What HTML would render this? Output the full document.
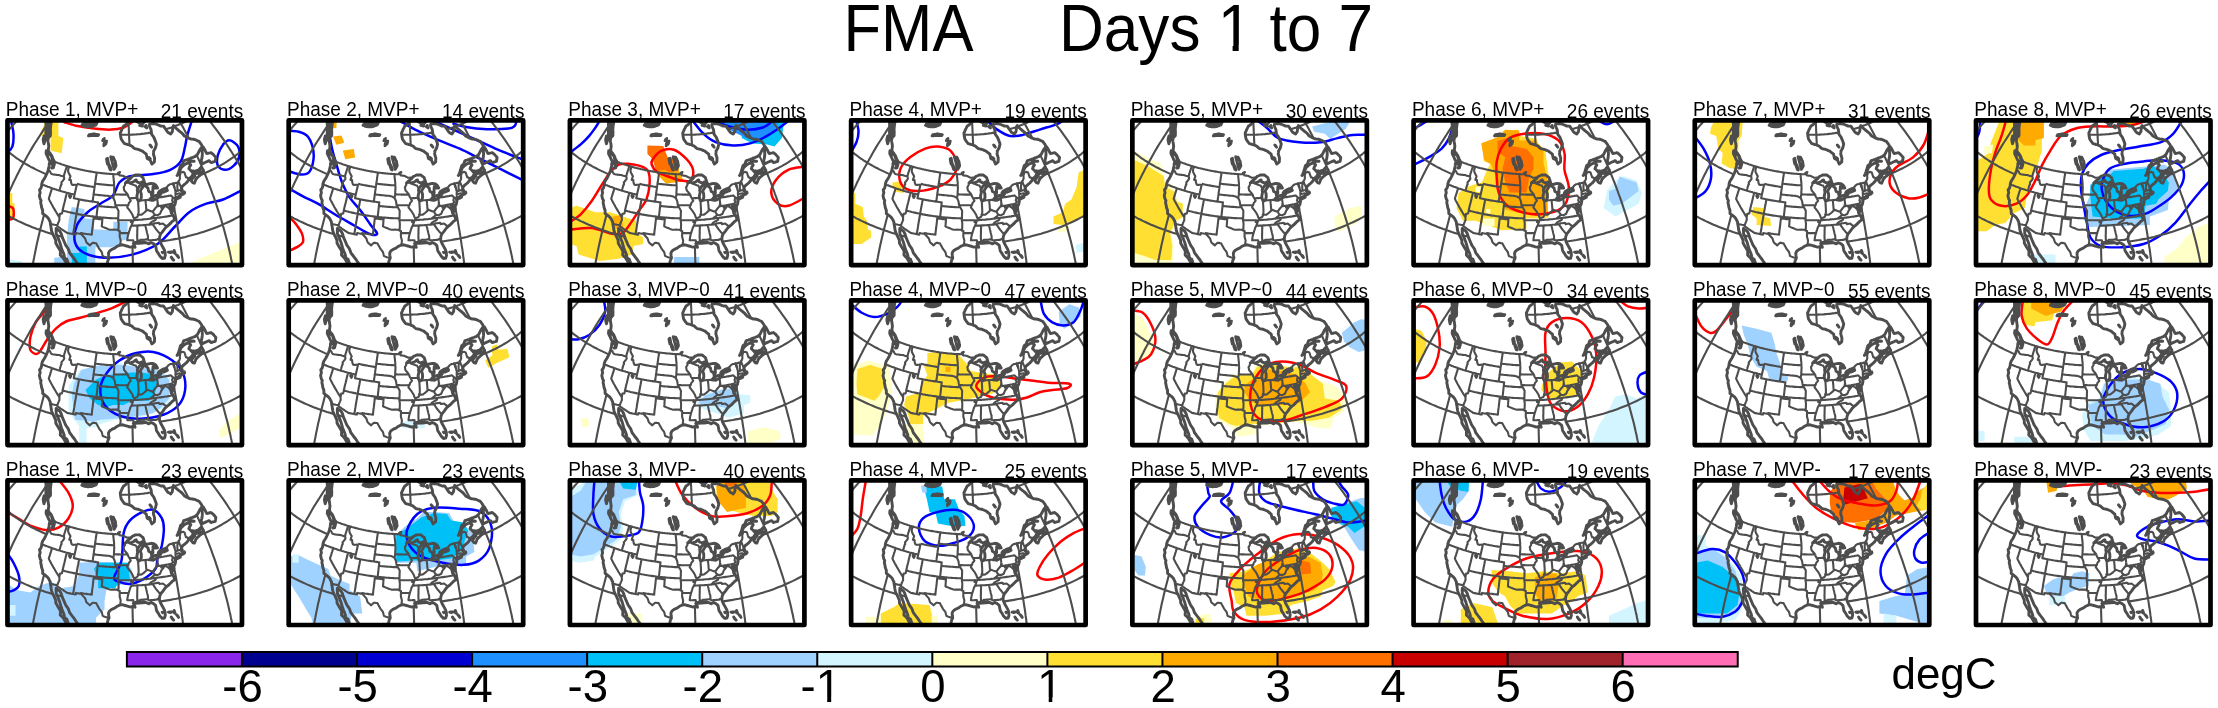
<!DOCTYPE html><html><head><meta charset="utf-8"><style>html,body{margin:0;padding:0;background:#fff;width:2218px;height:708px;overflow:hidden}svg{display:block;will-change:transform}text{font-family:"Liberation Sans",sans-serif}</style></head><body>
<svg width="2218" height="708" viewBox="0 0 2218 708">
<rect width="2218" height="708" fill="#fff"/>
<defs>
<clipPath id="cp"><rect x="0" y="0" width="234.5" height="144.7"/></clipPath>
<mask id="ocean" maskUnits="userSpaceOnUse" x="-50" y="-50" width="400" height="300"><rect x="-50" y="-50" width="400" height="300" fill="#fff"/><path fill="#000" fill-rule="nonzero" d="M13.6 -25.0 14.5 -24.7 15.3 -24.5 16.2 -24.2 17.0 -24.0 17.9 -23.8 18.7 -23.6 19.6 -23.4 20.5 -23.2 21.3 -23.0 22.2 -22.8 23.1 -22.7 24.0 -22.5 24.9 -22.3 25.8 -22.2 26.7 -22.0 27.6 -21.9 28.5 -21.8 29.4 -21.6 30.3 -21.5 31.2 -21.4 31.6 -20.8 32.0 -20.3 32.5 -19.7 32.9 -19.2 33.3 -18.6 33.8 -18.0 34.2 -17.5 34.7 -16.9 35.0 -16.2 35.3 -15.5 35.6 -14.7 35.9 -14.0 36.2 -13.2 36.5 -12.5 36.9 -11.7 37.2 -11.0 37.6 -10.2 37.9 -9.5 38.4 -8.8 38.9 -8.2 39.3 -7.6 39.3 -6.3 39.4 -5.1 39.4 -3.9 39.7 -3.1 39.9 -2.4 40.2 -1.6 41.2 -1.8 42.2 -2.0 43.3 -2.3 43.5 -1.1 43.7 -0.0 43.9 1.1 43.6 3.1 43.3 5.0 43.1 7.0 42.9 9.0 43.0 10.5 43.1 12.0 43.0 13.6 43.0 15.2 42.0 16.2 41.0 17.1 40.7 18.4 40.4 19.7 40.6 21.3 40.9 22.8 41.1 24.4 41.3 25.9 41.1 27.2 40.9 28.5 40.9 29.8 41.0 31.1 41.6 31.7 42.1 32.4 42.7 33.0 43.3 33.9 44.0 34.8 44.4 35.8 44.8 36.7 45.2 37.7 45.6 38.7 46.0 39.6 46.5 40.4 47.1 41.5 47.0 42.5 46.9 43.6 46.6 44.6 46.3 45.7 45.8 47.5 45.0 47.6 44.3 47.7 45.4 46.1 45.3 44.5 44.8 44.0 44.3 43.5 43.6 42.9 43.0 42.3 42.3 41.7 41.8 43.5 41.7 45.0 41.5 46.5 41.2 47.6 40.9 48.7 40.8 49.8 40.3 51.0 39.8 52.2 39.1 53.7 38.4 55.2 37.7 56.7 36.9 58.2 36.1 59.4 35.2 60.7 34.7 62.1 34.3 63.5 34.2 64.6 34.1 65.8 33.7 66.8 33.4 67.9 32.1 69.3 32.4 70.8 32.7 72.3 32.3 73.7 31.9 75.2 32.3 76.9 32.7 78.6 33.6 80.1 33.4 81.2 33.2 82.3 33.5 83.6 33.8 84.9 34.1 86.9 34.6 88.5 35.2 90.0 35.2 91.6 35.2 93.1 36.3 93.9 37.4 94.7 38.4 95.5 39.4 96.3 40.3 97.2 41.2 98.4 42.0 100.1 42.8 101.7 42.9 103.3 43.2 104.9 43.5 106.5 43.7 108.2 44.0 110.0 44.4 111.4 44.9 112.8 45.8 114.6 46.7 116.3 47.4 118.0 48.2 119.7 48.3 121.2 48.3 122.6 49.4 124.6 50.5 126.5 51.8 128.6 53.0 130.7 52.9 132.0 52.9 133.3 52.8 134.6 53.8 135.7 54.9 136.7 55.9 137.8 56.8 139.4 57.7 141.0 58.6 142.6 59.5 142.3 60.5 142.0 59.9 140.5 59.4 138.9 58.3 138.2 57.3 137.4 56.9 136.0 56.6 134.6 56.2 133.2 55.4 131.3 54.6 129.3 53.9 127.3 53.3 125.3 52.8 123.6 52.3 121.8 51.5 119.8 50.8 117.8 49.8 115.7 48.8 113.6 48.7 111.7 48.6 109.8 48.7 108.0 50.0 109.1 51.2 109.9 52.4 110.8 53.1 112.1 53.8 113.4 54.2 114.9 54.7 116.3 55.2 117.8 56.0 119.6 56.8 121.4 57.5 123.1 58.2 124.7 59.5 126.6 60.8 128.5 61.5 130.4 62.2 132.4 63.5 134.1 64.7 135.7 66.0 137.4 67.3 139.1 68.3 140.7 69.4 142.2 70.4 143.8 71.6 145.6 72.8 147.3 73.1 149.0 73.5 150.6 73.2 152.1 72.9 153.6 73.4 155.4 74.0 157.2 75.3 158.2 76.6 159.3 77.9 160.6 79.1 162.0 80.7 162.6 82.3 163.3 83.9 163.9 85.6 165.1 87.3 166.3 88.5 166.9 89.8 167.6 91.0 168.3 92.6 169.0 94.2 169.7 95.9 170.3 97.6 170.9 99.4 171.5 101.1 172.1 102.9 172.7 104.6 172.4 106.4 172.0 108.2 171.6 108.7 170.0 109.1 168.3 109.6 166.7 110.0 165.0 108.6 164.1 107.3 163.2 105.9 162.2 104.5 161.1 103.9 159.9 103.2 158.7 102.0 157.2 100.9 155.8 100.6 154.6 100.2 153.4 99.6 151.8 99.0 150.2 99.1 148.5 99.3 146.7 99.5 145.0 99.8 143.3 100.1 141.7 100.4 140.2 101.0 138.9 101.6 137.6 101.4 136.4 101.2 135.3 101.1 134.0 101.0 132.8 101.5 131.7 102.1 130.7 103.2 129.8 104.4 129.0 105.9 128.3 107.3 127.7 108.5 126.8 109.6 126.0 110.9 125.4 112.2 124.8 113.5 124.6 114.8 124.4 116.2 124.8 117.7 125.2 119.1 125.6 120.6 126.0 121.8 126.4 123.1 126.7 124.3 126.4 125.4 126.1 126.5 126.5 127.6 126.9 127.3 125.9 126.9 124.8 125.9 123.2 127.2 122.3 128.3 122.0 129.4 121.8 130.3 121.2 131.2 120.6 132.6 122.0 133.7 121.8 134.9 121.6 136.0 121.4 137.5 121.9 138.9 122.3 140.1 122.9 141.3 123.5 142.3 122.8 143.4 122.1 144.5 122.6 145.7 123.1 146.9 124.0 148.1 125.0 148.4 126.6 148.7 128.2 148.9 129.4 149.2 130.6 150.1 131.9 151.0 133.2 151.8 134.6 152.6 135.9 153.7 137.0 154.8 138.1 155.9 137.9 157.0 137.8 157.4 136.5 157.8 135.2 157.7 133.7 157.7 132.3 157.3 131.0 156.9 129.6 156.1 128.1 155.3 126.6 154.5 125.2 153.7 123.9 153.1 122.5 152.5 121.2 152.2 120.0 151.9 118.7 152.1 117.2 152.3 115.8 152.8 114.6 153.3 113.4 154.5 112.0 155.7 110.5 156.7 109.1 157.8 107.6 158.7 106.7 159.7 105.8 161.0 104.9 162.4 103.5 163.7 102.2 164.7 101.1 166.0 100.2 167.4 99.4 166.8 97.8 166.2 96.1 165.6 94.9 164.9 93.8 163.9 92.8 163.6 91.4 163.4 90.0 162.9 88.6 162.3 87.2 162.3 85.3 163.6 86.5 163.9 87.8 164.1 89.1 164.5 90.3 164.8 91.5 165.4 89.9 166.5 88.2 166.3 86.4 165.5 85.4 164.7 84.5 165.6 85.1 166.6 85.7 167.6 83.8 167.9 82.4 168.2 81.1 167.8 79.3 168.1 78.1 169.2 77.4 170.2 76.7 171.2 76.0 172.0 75.7 172.8 75.4 173.9 74.4 174.9 74.1 175.9 73.7 176.6 73.1 177.2 72.5 176.9 71.5 176.2 71.9 175.5 72.2 174.7 71.1 174.1 70.9 174.8 69.6 173.9 68.3 174.4 67.0 174.9 65.7 175.9 64.9 177.0 64.0 178.1 63.1 179.1 62.2 179.8 61.4 180.5 60.6 181.3 59.2 181.2 58.1 182.3 57.5 183.4 56.9 184.2 55.9 185.0 54.8 185.7 54.5 186.3 54.2 187.3 55.6 186.4 56.5 185.4 57.4 184.6 58.9 183.8 60.3 184.6 61.4 185.5 62.5 186.9 62.8 187.7 60.9 188.3 59.1 189.0 58.3 189.6 57.5 190.4 56.8 191.2 56.1 191.9 55.4 192.7 54.7 193.6 53.8 194.5 52.8 195.2 51.3 195.9 49.8 194.7 48.3 193.6 46.8 192.7 47.8 191.9 48.7 192.3 50.1 192.7 51.5 191.7 52.1 190.7 52.8 189.5 53.0 188.3 53.3 186.9 53.0 185.5 52.7 184.7 51.7 183.8 50.6 182.6 49.4 181.4 48.3 182.0 46.5 182.7 45.5 183.3 44.5 182.0 43.0 180.7 43.0 179.5 42.9 178.6 43.4 177.8 43.9 176.9 44.4 176.1 45.1 175.3 45.8 174.5 46.6 173.7 47.3 173.2 48.5 172.7 49.7 172.1 50.8 171.4 52.6 170.7 54.3 169.6 55.1 170.1 54.2 170.6 53.2 171.3 51.3 171.9 49.4 172.5 47.3 173.1 45.2 174.0 44.5 175.0 43.8 175.6 42.1 176.2 40.4 177.2 40.0 178.3 39.7 179.3 39.3 180.4 38.9 181.4 38.5 182.4 38.1 183.4 37.6 184.4 37.3 185.5 36.9 186.5 36.5 187.5 36.2 188.4 35.4 189.2 34.7 190.1 33.9 190.7 32.7 191.3 31.5 191.9 30.3 192.5 29.2 193.2 28.3 193.9 27.4 194.6 26.5 194.2 24.6 193.4 23.4 192.5 22.2 191.6 21.0 190.1 20.4 188.7 19.7 187.2 19.1 186.1 18.9 184.9 18.7 183.7 18.6 182.5 18.4 181.2 17.8 179.8 17.2 178.4 16.4 176.9 15.6 175.7 14.1 174.5 12.7 172.9 11.4 171.2 10.1 169.6 8.8 168.1 7.4 167.0 6.3 166.0 5.1 165.7 6.4 165.3 7.7 165.1 9.4 164.9 11.2 164.4 12.0 163.8 12.8 163.3 13.6 162.3 13.0 161.3 12.5 160.3 11.9 159.2 10.3 158.2 8.8 157.1 7.2 156.1 5.7 155.2 5.7 154.3 5.7 153.4 5.7 152.3 5.2 151.3 4.8 150.2 4.3 149.2 3.8 148.3 3.7 147.4 3.5 146.4 3.4 145.6 3.4 144.7 3.4 143.9 3.5 143.0 3.5 142.2 3.5 141.8 5.3 142.4 6.6 143.0 8.0 143.6 9.3 143.8 10.8 144.0 12.3 144.1 13.8 145.3 15.4 146.4 17.0 147.1 18.7 147.8 20.4 148.4 22.1 148.9 23.8 148.4 25.7 147.9 27.7 147.3 28.6 146.8 29.6 146.2 30.5 146.1 32.0 145.9 33.5 146.3 34.8 146.7 36.1 147.1 37.3 147.1 38.7 147.0 40.1 147.0 41.4 146.1 42.2 145.3 42.9 144.4 43.6 143.8 42.3 143.2 40.9 142.6 39.5 141.6 39.0 140.6 38.5 139.7 38.0 139.4 36.6 139.1 35.2 138.8 33.8 137.8 33.0 136.8 32.2 135.8 31.4 134.8 30.6 133.7 30.2 132.6 29.7 131.5 29.3 130.4 28.8 129.3 28.7 128.3 28.5 127.3 28.3 126.2 27.4 125.2 26.5 124.2 25.6 123.4 25.3 122.6 25.0 121.8 24.6 121.0 24.3 120.0 24.1 119.0 23.8 118.0 23.5 117.0 23.3 116.1 22.1 115.3 21.0 114.5 19.8 113.7 18.6 113.5 17.4 113.2 16.2 113.0 14.4 112.8 12.6 113.6 10.9 114.3 9.2 115.2 7.5 116.1 5.7 117.0 5.2 117.8 4.6 118.6 4.0 119.4 3.1 120.2 2.1 121.0 1.2 121.8 0.6 122.6 -0.1 123.3 -0.7 124.1 -1.3 123.3 -3.0 122.6 -4.7 121.9 -6.3 121.2 -8.0 120.5 -9.6 119.8 -9.8 119.1 -9.9 118.4 -10.1 117.7 -10.2 116.9 -10.4 116.2 -10.6 115.5 -10.8 114.8 -10.9 114.1 -11.1 113.4 -11.3 112.7 -11.5 112.0 -11.7 111.3 -11.9 110.7 -12.1 110.0 -12.3 109.3 -12.5 108.6 -12.7 108.0 -12.9 107.3 -13.1 106.6 -13.4 106.0 -13.6 105.3 -13.8 104.7 -14.1 104.0 -14.3 103.4 -14.5 102.7 -14.8 102.1 -15.0 101.5 -15.3 100.8 -15.5 100.2 -15.8 99.6 -16.1 99.0 -16.3 98.4 -16.6 97.8 -16.9 97.2 -17.1 96.6 -17.4 96.0 -17.7 95.4 -18.0 94.8 -18.3 94.2 -18.6 93.6 -18.9 93.1 -19.2 92.5 -19.5 91.9 -19.8 91.4 -20.1 90.8 -20.4 90.3 -20.7 89.7 -21.0 89.2 -21.3 88.7 -21.6 88.1 -22.0 87.6 -22.3 87.1 -22.6 86.6 -22.9 86.1 -23.3 85.6 -23.6 85.1 -23.9 84.6 -24.3 84.1 -24.6 83.6 -25.0 83.1 -25.2 82.5 -25.4 82.0 -25.6 81.4 -25.8 80.9 -26.0 80.3 -26.2 79.8 -26.4 79.2 -26.6 78.7 -26.9 78.2 -27.1 77.6 -27.3 77.1 -27.6 76.6 -27.8 76.1 -28.0 75.5 -28.3 75.0 -28.5 74.5 -28.8 74.0 -29.0 73.5 -29.3 73.0 -29.5 72.5 -29.8 72.0 -30.0 71.5 -30.3 71.0 -30.6 70.5 -30.8 70.1 -31.1 69.6 -31.4 69.1 -31.7 68.6 -32.0 68.2 -32.2 67.7 -32.5 67.3 -32.8 66.8 -33.1 66.3 -33.4 65.9 -33.7 65.5 -34.0 65.0 -34.3 64.6 -34.6 64.2 -34.9 63.7 -35.2 63.2 -35.4 62.6 -35.6 62.1 -35.8 61.5 -36.0 61.0 -36.2 60.4 -36.4 59.9 -36.7 59.4 -36.9 58.8 -37.1 58.3 -37.3 57.8 -37.5 57.2 -37.8 56.7 -38.0 56.2 -38.2 55.7 -38.5 55.2 -38.7 54.7 -39.0 54.2 -39.2 53.7 -39.5 53.2 -39.8 52.7 -40.0 52.2 -40.3 51.7 -40.6 51.2 -40.8 50.7 -41.1 50.2 -41.4 49.7 -41.7 49.3 -42.0 48.8 -42.3 48.3 -42.6 47.9 -42.9 47.4 -43.2 47.0 -43.5 46.5 -43.8 46.1 -44.1 45.6 -44.4 45.2 -44.8 44.7 -45.1 44.3 -45.4 43.9 -45.8 42.3 -44.8 40.8 -43.8 39.2 -42.9 37.6 -41.9 36.1 -40.9 34.5 -39.9 33.0 -38.9 31.5 -37.9 29.9 -36.8 28.4 -35.8 26.9 -34.7 25.4 -33.7 23.9 -32.6 22.4 -31.6 20.9 -30.5 19.5 -29.4 18.0 -28.3 16.5 -27.2 15.1 -26.1 13.6 -25.0Z M38.8 30.4 39.4 31.3 40.1 32.1 40.8 33.0 41.5 33.5 42.3 34.1 43.0 34.6 43.8 35.1 44.2 36.5 44.6 37.9 45.1 39.3 45.2 41.1 45.2 42.9 44.4 42.3 43.6 41.6 42.9 40.9 42.1 40.1 41.4 39.3 41.0 38.3 40.6 37.3 40.2 36.3 39.6 35.3 39.1 34.2 38.6 33.1 38.7 31.8 38.8 30.4Z M39.1 0.3 39.9 0.6 40.6 0.8 41.4 1.1 42.1 1.3 41.8 3.1 41.5 4.9 41.2 6.7 40.9 8.7 40.7 10.7 40.8 12.1 40.8 13.5 40.9 15.0 40.1 14.7 39.4 14.4 38.6 14.1 38.5 12.7 38.5 11.2 38.5 9.8 38.5 8.4 38.6 7.0 38.7 5.7 38.6 4.5 38.5 3.3 38.5 2.1 39.1 0.3Z M36.6 15.5 37.3 16.0 37.9 16.5 38.6 17.0 38.0 18.6 37.5 20.2 37.0 21.8 36.5 23.4 36.2 22.0 35.9 20.6 35.7 19.2 36.1 17.4 36.6 15.5Z M194.9 43.4 195.7 43.0 196.6 42.5 197.5 42.1 198.5 41.6 199.5 41.2 200.6 40.7 201.6 40.3 202.6 41.2 203.5 42.2 204.6 41.9 205.6 41.6 206.7 41.3 207.7 41.0 208.0 39.7 208.2 38.4 208.4 37.1 207.5 36.0 206.6 35.0 205.7 33.9 204.6 33.1 203.5 32.2 202.5 32.5 201.4 32.7 200.3 33.0 199.3 33.2 198.4 31.6 197.6 29.9 196.7 28.3 195.8 26.7 195.4 28.0 195.0 29.3 194.6 30.6 194.8 32.1 194.9 33.7 194.8 35.1 194.6 36.6 194.4 38.0 194.0 39.4 193.7 40.7 194.3 42.1 194.9 43.4Z M185.2 50.5 186.4 50.8 187.7 51.1 188.9 51.5 189.8 50.6 190.8 49.7 189.6 50.1 188.5 50.5 187.4 50.9 186.3 50.7 185.2 50.5Z M180.8 40.0 181.9 40.2 183.1 40.3 184.3 40.5 185.5 40.7 186.7 40.9 185.5 40.9 184.3 41.0 183.1 41.1 181.9 41.1 180.8 40.0Z M167.8 79.3 169.1 78.7 170.3 78.1 171.6 77.5 172.8 76.9 172.9 76.2 171.9 76.6 170.9 77.0 169.9 77.3 168.9 77.7 167.8 79.3Z M142.6 151.0 144.2 149.5 145.8 147.9 147.4 147.3 149.1 146.6 150.7 146.0 152.4 145.8 154.1 145.6 155.7 145.3 157.4 145.8 159.1 146.2 160.9 146.7 162.5 146.6 164.2 146.6 165.9 146.5 167.7 147.5 169.5 148.4 171.2 149.4 173.0 149.9 174.7 150.4 176.2 150.7 177.7 150.9 179.2 151.2 177.9 152.0 176.7 152.8 175.0 153.1 173.4 153.5 171.7 153.8 170.0 154.1 168.4 154.4 167.6 153.2 166.8 151.9 165.5 151.1 164.1 150.3 162.8 149.5 161.1 149.4 159.4 149.3 157.7 149.2 156.0 149.1 154.3 148.7 152.6 148.2 150.8 147.7 149.2 148.7 147.6 149.7 146.0 150.7 144.3 150.8 142.6 151.0Z M163.8 136.7 165.0 138.3 166.2 139.8 165.1 138.9 164.5 137.8 163.8 136.7Z M161.0 131.8 162.2 131.7 163.4 131.6 164.6 131.6 163.6 131.9 162.7 132.2 161.0 131.8Z M166.7 130.1 167.2 131.6 167.7 133.1 166.6 132.3 166.6 131.2 166.7 130.1Z M169.2 134.6 170.2 135.9 171.1 137.1 170.3 135.5 169.2 134.6Z M178.9 157.4 180.4 155.4 181.8 153.3 183.2 151.3 184.9 150.9 186.5 150.5 188.1 150.1 189.8 150.2 191.5 150.4 193.2 150.5 194.9 150.7 196.2 150.9 197.6 151.2 199.0 151.5 197.7 152.2 196.4 153.0 195.0 153.7 193.7 154.4 192.2 155.5 190.6 156.6 189.1 157.7 187.6 157.5 186.1 157.3 184.6 157.1 183.2 157.2 181.8 157.3 180.3 157.4 178.9 157.4Z M126.4 -1.5 127.3 -0.7 128.2 0.1 129.1 0.9 130.1 1.7 131.0 2.2 131.9 2.7 132.8 3.3 133.7 3.8 134.7 4.3 135.3 3.4 136.0 2.5 136.7 1.6 135.9 0.4 135.1 -0.8 134.3 -1.9 133.4 -2.6 132.5 -3.2 131.6 -3.9 130.8 -4.5 129.9 -5.2 129.2 -4.4 128.5 -3.7 127.9 -2.9 127.2 -2.2 126.4 -1.5Z M132.2 4.9 133.1 5.2 134.0 5.4 134.9 5.7 134.2 4.5 133.5 3.4 132.8 4.2 132.2 4.9Z M137.6 6.3 138.4 6.9 139.3 7.5 138.9 6.3 138.6 5.1 138.1 5.7 137.6 6.3Z M142.5 24.6 143.3 25.7 144.2 26.8 143.2 25.2 142.5 24.6Z M140.1 37.6 141.0 37.9 141.9 38.1 142.8 38.4 141.5 37.1 140.8 37.4 140.1 37.6Z M137.3 0.8 138.0 0.1 138.7 -0.5 139.3 -1.2 140.0 -1.9 140.6 -2.6 141.4 -2.8 142.1 -3.1 142.8 -3.4 143.5 -3.7 144.2 -4.0 145.0 -4.3 145.7 -4.6 146.7 -4.0 147.7 -3.3 148.8 -2.6 149.9 -1.9 150.9 -1.3 151.8 -1.1 152.8 -0.9 153.7 -0.8 154.6 -0.6 155.5 -0.4 156.4 -0.3 157.4 -0.1 158.3 0.0 159.3 0.2 160.2 0.3 161.1 0.4 161.4 -0.9 161.7 -2.2 161.9 -3.6 162.1 -4.9 162.3 -6.2 162.5 -7.5 162.6 -8.8 162.8 -10.1 162.9 -11.4 162.9 -12.7 163.0 -14.0 163.0 -15.3 162.1 -15.6 161.1 -16.0 160.1 -16.3 159.1 -16.7 158.2 -17.0 157.2 -17.4 156.2 -17.8 155.3 -18.2 154.4 -18.6 153.4 -18.9 152.5 -19.3 151.6 -19.8 150.7 -20.2 149.8 -20.6 148.9 -21.0 148.0 -21.4 147.1 -21.9 146.3 -22.3 145.4 -22.8 144.6 -23.2 144.0 -23.0 143.4 -22.9 142.8 -22.7 142.2 -22.6 141.6 -22.4 141.0 -22.3 140.4 -22.2 139.8 -22.0 139.2 -21.9 138.6 -21.8 138.0 -21.6 137.4 -21.5 136.8 -21.4 136.2 -21.3 135.6 -21.2 135.0 -21.1 134.4 -20.9 133.8 -20.8 133.2 -20.7 132.6 -20.7 131.9 -20.6 131.3 -20.5 130.7 -20.4 130.1 -20.3 129.5 -20.2 128.8 -20.2 128.2 -20.1 127.6 -20.0 127.0 -20.0 126.4 -19.9 127.1 -18.3 127.8 -16.8 128.6 -15.2 129.4 -13.6 130.2 -12.0 131.0 -10.4 131.8 -8.8 132.7 -7.2 133.6 -5.6 134.5 -4.0 135.4 -2.4 136.4 -0.8 137.3 0.8Z M202.2 150.9 203.6 150.5 204.9 150.2 206.2 149.8 207.6 149.4 207.2 150.9 205.7 151.4 204.2 151.9 202.8 152.4 202.2 150.9Z"/></mask>
<g id="bm"><path d="M-93.9 84.7 -93.9 81.9 -93.8 79.2 -93.6 76.5 -93.4 73.8 -93.1 71.1 -92.7 68.3 -92.3 65.6 -91.8 62.9 -91.3 60.2 -90.7 57.5 -90.0 54.8 -89.3 52.1 -88.5 49.5 -87.6 46.8 -86.7 44.1 -85.7 41.5 -84.7 38.9 -83.6 36.2 -82.4 33.6 -81.2 31.0 -79.9 28.4 -78.6 25.9 -77.2 23.3 -75.7 20.8 -74.2 18.3 -72.6 15.8 -71.0 13.3 -69.3 10.8 -67.5 8.4 -65.7 6.0 -63.8 3.6 -61.9 1.2 -60.0 -1.2 -57.9 -3.5 -55.8 -5.8 -53.7 -8.1 -51.5 -10.3 -49.3 -12.6 -47.0 -14.8 -44.7 -16.9 -42.3 -19.1 -39.9 -21.2 -37.4 -23.2 -34.9 -25.3 -32.3 -27.3 -29.7 -29.3 -27.0 -31.3 -24.3 -33.2 -21.5 -35.1 -18.7 -36.9 -15.9 -38.7 -13.0 -40.5 -10.1 -42.2 -7.2 -43.9 -4.2 -45.6 -1.2 -47.3 1.9 -48.8 5.0 -50.4 8.1 -51.9 11.3 -53.4 14.5 -54.8 17.7 -56.2 21.0 -57.6 24.3 -58.9 27.6 -60.2 30.9 -61.4 34.3 -62.6 37.7 -63.7 41.1 -64.8 44.5 -65.9 48.0 -66.9 51.5 -67.9 55.0 -68.8 58.5 -69.7 62.0 -70.5 65.6 -71.3 69.2 -72.0 72.8 -72.7 76.4 -73.4 80.0 -74.0 83.6 -74.6 87.2 -75.1 90.9 -75.6 94.5 -76.0 98.2 -76.3 101.8 -76.7 105.5 -77.0 109.2 -77.2 112.8 -77.4 116.5 -77.5 M-84.3 121.2 -84.3 118.5 -84.2 115.7 -84.0 113.0 -83.8 110.2 -83.5 107.5 -83.2 104.7 -82.8 101.9 -82.3 99.1 -81.8 96.3 -81.2 93.5 -80.6 90.7 -79.9 87.9 -79.1 85.1 -78.3 82.3 -77.4 79.4 -76.5 76.6 -75.5 73.8 -74.5 71.0 -73.3 68.2 -72.2 65.4 -70.9 62.6 -69.7 59.8 -68.3 57.0 -66.9 54.2 -65.5 51.4 -64.0 48.6 -62.4 45.8 -60.8 43.1 -59.1 40.3 -57.4 37.6 -55.6 34.9 -53.8 32.2 -51.9 29.5 -50.0 26.8 -48.0 24.1 -45.9 21.5 -43.9 18.9 -41.7 16.3 -39.5 13.7 -37.3 11.1 -35.0 8.5 -32.7 6.0 -30.4 3.5 -27.9 1.0 -25.5 -1.4 -23.0 -3.9 -20.4 -6.3 -17.9 -8.7 -15.2 -11.0 -12.6 -13.4 -9.9 -15.7 -7.1 -18.0 -4.3 -20.2 -1.5 -22.4 1.3 -24.6 4.2 -26.8 7.1 -28.9 10.1 -31.0 13.1 -33.1 16.1 -35.1 19.2 -37.1 22.2 -39.0 25.3 -40.9 28.5 -42.8 31.6 -44.7 34.8 -46.5 38.0 -48.3 41.3 -50.0 44.5 -51.7 47.8 -53.3 51.1 -55.0 54.5 -56.5 57.8 -58.1 61.2 -59.6 64.5 -61.0 67.9 -62.4 71.3 -63.8 74.8 -65.1 78.2 -66.4 81.6 -67.6 85.1 -68.8 88.6 -69.9 92.1 -71.0 95.5 -72.1 99.0 -73.1 102.5 -74.1 106.0 -75.0 109.5 -75.9 113.0 -76.7 116.5 -77.4 M-61.0 154.8 -60.9 152.1 -60.9 149.3 -60.7 146.6 -60.5 143.8 -60.3 141.0 -60.0 138.1 -59.6 135.3 -59.2 132.4 -58.8 129.5 -58.3 126.6 -57.7 123.7 -57.1 120.8 -56.4 117.8 -55.7 114.9 -54.9 111.9 -54.1 109.0 -53.2 106.0 -52.3 103.0 -51.3 100.0 -50.3 97.0 -49.2 94.0 -48.0 90.9 -46.9 87.9 -45.6 84.9 -44.3 81.9 -43.0 78.8 -41.6 75.8 -40.2 72.8 -38.7 69.8 -37.2 66.7 -35.6 63.7 -34.0 60.7 -32.3 57.7 -30.6 54.7 -28.9 51.7 -27.1 48.7 -25.2 45.7 -23.3 42.8 -21.4 39.8 -19.4 36.9 -17.4 33.9 -15.4 31.0 -13.3 28.1 -11.2 25.2 -9.0 22.4 -6.8 19.5 -4.5 16.7 -2.2 13.8 0.1 11.0 2.4 8.3 4.8 5.5 7.2 2.8 9.7 0.0 12.2 -2.6 14.7 -5.3 17.3 -7.9 19.9 -10.6 22.5 -13.1 25.1 -15.7 27.8 -18.2 30.5 -20.7 33.2 -23.2 35.9 -25.6 38.7 -28.1 41.5 -30.4 44.3 -32.8 47.2 -35.1 50.0 -37.4 52.9 -39.6 55.8 -41.8 58.8 -44.0 61.7 -46.1 64.6 -48.2 67.6 -50.2 70.6 -52.3 73.6 -54.2 76.6 -56.2 79.6 -58.1 82.7 -59.9 85.7 -61.7 88.8 -63.5 91.9 -65.2 94.9 -66.9 98.0 -68.5 101.1 -70.1 104.2 -71.7 107.3 -73.2 110.4 -74.6 113.5 -76.0 116.6 -77.4 M-25.5 183.2 -25.5 180.5 -25.5 177.7 -25.3 175.0 -25.2 172.1 -25.0 169.3 -24.8 166.4 -24.5 163.5 -24.2 160.6 -23.8 157.6 -23.4 154.6 -22.9 151.6 -22.4 148.6 -21.9 145.5 -21.3 142.5 -20.7 139.4 -20.0 136.3 -19.3 133.1 -18.6 130.0 -17.8 126.8 -17.0 123.7 -16.1 120.5 -15.2 117.3 -14.2 114.1 -13.3 110.9 -12.2 107.6 -11.2 104.4 -10.0 101.1 -8.9 97.9 -7.7 94.6 -6.5 91.4 -5.2 88.1 -3.9 84.8 -2.6 81.5 -1.2 78.3 0.2 75.0 1.6 71.7 3.1 68.5 4.6 65.2 6.1 61.9 7.7 58.7 9.3 55.4 11.0 52.2 12.6 48.9 14.4 45.7 16.1 42.5 17.9 39.3 19.7 36.1 21.5 32.9 23.3 29.7 25.2 26.5 27.1 23.4 29.1 20.3 31.1 17.2 33.1 14.1 35.1 11.0 37.1 8.0 39.2 4.9 41.3 1.9 43.4 -1.0 45.5 -4.0 47.7 -6.9 49.9 -9.8 52.1 -12.7 54.3 -15.6 56.5 -18.4 58.8 -21.2 61.1 -23.9 63.4 -26.7 65.7 -29.4 68.0 -32.0 70.3 -34.7 72.7 -37.3 75.1 -39.8 77.4 -42.4 79.8 -44.9 82.2 -47.3 84.6 -49.7 87.1 -52.1 89.5 -54.4 91.9 -56.7 94.4 -59.0 96.8 -61.2 99.3 -63.4 101.8 -65.5 104.2 -67.6 106.7 -69.6 109.2 -71.6 111.7 -73.6 114.2 -75.5 116.6 -77.3 M19.6 204.5 19.6 201.8 19.7 199.0 19.7 196.2 19.8 193.3 20.0 190.5 20.1 187.5 20.3 184.6 20.5 181.6 20.8 178.6 21.1 175.6 21.4 172.5 21.7 169.4 22.1 166.3 22.5 163.1 22.9 159.9 23.4 156.7 23.8 153.5 24.4 150.2 24.9 147.0 25.5 143.7 26.0 140.4 26.7 137.0 27.3 133.7 28.0 130.3 28.7 126.9 29.4 123.5 30.2 120.1 31.0 116.7 31.8 113.2 32.6 109.8 33.5 106.3 34.4 102.9 35.3 99.4 36.2 95.9 37.2 92.4 38.1 88.9 39.1 85.4 40.2 82.0 41.2 78.5 42.3 75.0 43.4 71.5 44.5 68.0 45.7 64.5 46.8 61.0 48.0 57.5 49.2 54.0 50.5 50.6 51.7 47.1 53.0 43.7 54.3 40.2 55.6 36.8 56.9 33.4 58.3 30.0 59.6 26.6 61.0 23.2 62.4 19.9 63.8 16.5 65.2 13.2 66.7 9.9 68.1 6.7 69.6 3.4 71.1 0.2 72.6 -3.0 74.1 -6.2 75.7 -9.4 77.2 -12.5 78.8 -15.6 80.3 -18.7 81.9 -21.7 83.5 -24.7 85.1 -27.7 86.7 -30.7 88.3 -33.6 89.9 -36.5 91.6 -39.3 93.2 -42.1 94.9 -44.9 96.5 -47.7 98.2 -50.4 99.8 -53.0 101.5 -55.6 103.2 -58.2 104.9 -60.8 106.6 -63.3 108.3 -65.7 109.9 -68.1 111.6 -70.5 113.3 -72.8 115.0 -75.1 116.7 -77.3 M71.4 217.2 71.4 214.4 71.4 211.7 71.4 208.8 71.5 206.0 71.5 203.1 71.6 200.1 71.7 197.2 71.8 194.2 71.9 191.1 72.1 188.0 72.2 184.9 72.4 181.8 72.5 178.6 72.7 175.4 72.9 172.2 73.1 168.9 73.4 165.6 73.6 162.3 73.8 158.9 74.1 155.6 74.4 152.2 74.7 148.8 75.0 145.3 75.3 141.9 75.6 138.4 76.0 134.9 76.3 131.4 76.7 127.9 77.1 124.3 77.5 120.8 77.9 117.2 78.3 113.6 78.7 110.0 79.1 106.4 79.6 102.8 80.0 99.2 80.5 95.6 81.0 91.9 81.5 88.3 82.0 84.7 82.5 81.0 83.0 77.4 83.6 73.8 84.1 70.1 84.7 66.5 85.2 62.9 85.8 59.2 86.4 55.6 87.0 52.0 87.6 48.4 88.2 44.8 88.8 41.2 89.5 37.6 90.1 34.1 90.7 30.5 91.4 27.0 92.1 23.5 92.7 20.0 93.4 16.5 94.1 13.0 94.8 9.6 95.5 6.1 96.2 2.7 96.9 -0.6 97.6 -4.0 98.3 -7.3 99.0 -10.6 99.8 -13.9 100.5 -17.2 101.3 -20.4 102.0 -23.6 102.8 -26.7 103.5 -29.9 104.3 -33.0 105.0 -36.0 105.8 -39.1 106.6 -42.0 107.4 -45.0 108.1 -47.9 108.9 -50.8 109.7 -53.6 110.5 -56.4 111.3 -59.2 112.1 -61.9 112.8 -64.6 113.6 -67.2 114.4 -69.8 115.2 -72.3 116.0 -74.8 116.8 -77.3 M126.2 220.4 126.2 217.7 126.2 214.9 126.2 212.1 126.2 209.2 126.2 206.3 126.2 203.3 126.2 200.4 126.1 197.3 126.1 194.3 126.1 191.2 126.1 188.1 126.0 184.9 126.0 181.7 126.0 178.5 125.9 175.3 125.9 172.0 125.8 168.7 125.8 165.3 125.7 162.0 125.7 158.6 125.6 155.2 125.6 151.7 125.5 148.3 125.4 144.8 125.4 141.3 125.3 137.8 125.2 134.3 125.1 130.7 125.1 127.1 125.0 123.5 124.9 119.9 124.8 116.3 124.7 112.7 124.6 109.1 124.6 105.4 124.5 101.8 124.4 98.1 124.3 94.5 124.2 90.8 124.1 87.1 124.0 83.5 123.8 79.8 123.7 76.1 123.6 72.4 123.5 68.8 123.4 65.1 123.3 61.4 123.2 57.8 123.0 54.1 122.9 50.4 122.8 46.8 122.7 43.2 122.5 39.6 122.4 36.0 122.3 32.4 122.1 28.8 122.0 25.2 121.9 21.7 121.7 18.1 121.6 14.6 121.4 11.1 121.3 7.6 121.1 4.2 121.0 0.8 120.9 -2.6 120.7 -6.0 120.6 -9.4 120.4 -12.7 120.3 -16.0 120.1 -19.3 119.9 -22.5 119.8 -25.7 119.6 -28.9 119.5 -32.1 119.3 -35.2 119.2 -38.3 119.0 -41.3 118.8 -44.3 118.7 -47.3 118.5 -50.2 118.4 -53.1 118.2 -56.0 118.0 -58.8 117.9 -61.6 117.7 -64.3 117.6 -67.0 117.4 -69.6 117.2 -72.2 117.1 -74.8 116.9 -77.3 M180.5 213.9 180.5 211.2 180.4 208.4 180.4 205.6 180.3 202.7 180.2 199.8 180.1 196.9 180.0 193.9 179.9 190.9 179.7 187.9 179.5 184.8 179.3 181.7 179.1 178.6 178.8 175.4 178.6 172.2 178.3 169.0 178.0 165.8 177.7 162.5 177.4 159.2 177.0 155.9 176.6 152.5 176.3 149.1 175.9 145.7 175.4 142.3 175.0 138.9 174.5 135.4 174.1 132.0 173.6 128.5 173.0 125.0 172.5 121.5 172.0 117.9 171.4 114.4 170.8 110.8 170.2 107.3 169.6 103.7 169.0 100.1 168.4 96.6 167.7 93.0 167.0 89.4 166.3 85.8 165.6 82.2 164.9 78.6 164.2 75.0 163.4 71.4 162.7 67.8 161.9 64.2 161.1 60.6 160.3 57.0 159.5 53.4 158.7 49.8 157.8 46.3 157.0 42.7 156.1 39.2 155.2 35.7 154.3 32.1 153.4 28.6 152.5 25.2 151.6 21.7 150.6 18.2 149.7 14.8 148.7 11.4 147.8 8.0 146.8 4.6 145.8 1.2 144.8 -2.1 143.8 -5.4 142.8 -8.7 141.8 -11.9 140.8 -15.1 139.8 -18.3 138.7 -21.5 137.7 -24.6 136.6 -27.8 135.6 -30.8 134.5 -33.9 133.4 -36.9 132.4 -39.8 131.3 -42.8 130.2 -45.7 129.1 -48.5 128.0 -51.4 126.9 -54.1 125.8 -56.9 124.7 -59.6 123.6 -62.3 122.5 -64.9 121.4 -67.4 120.3 -70.0 119.2 -72.5 118.1 -74.9 117.0 -77.3 M230.4 198.2 230.4 195.5 230.3 192.7 230.2 189.9 230.1 187.1 229.9 184.2 229.8 181.3 229.5 178.3 229.3 175.4 229.0 172.4 228.7 169.4 228.3 166.3 227.9 163.2 227.5 160.1 227.0 157.0 226.5 153.8 226.0 150.7 225.4 147.5 224.8 144.2 224.2 141.0 223.5 137.7 222.9 134.5 222.1 131.2 221.4 127.9 220.6 124.5 219.8 121.2 218.9 117.8 218.0 114.5 217.1 111.1 216.2 107.7 215.2 104.3 214.2 100.9 213.2 97.5 212.1 94.1 211.0 90.7 209.9 87.3 208.7 83.8 207.6 80.4 206.4 77.0 205.1 73.6 203.9 70.1 202.6 66.7 201.3 63.3 200.0 59.9 198.6 56.5 197.2 53.1 195.8 49.7 194.4 46.3 192.9 42.9 191.4 39.5 189.9 36.2 188.4 32.8 186.8 29.5 185.3 26.2 183.7 22.9 182.1 19.6 180.5 16.4 178.8 13.1 177.1 9.9 175.4 6.7 173.7 3.5 172.0 0.3 170.3 -2.8 168.5 -5.9 166.8 -9.0 165.0 -12.0 163.2 -15.1 161.4 -18.1 159.5 -21.0 157.7 -24.0 155.8 -26.9 154.0 -29.8 152.1 -32.6 150.2 -35.4 148.3 -38.2 146.4 -41.0 144.5 -43.7 142.6 -46.3 140.7 -49.0 138.7 -51.6 136.8 -54.1 134.8 -56.6 132.9 -59.1 130.9 -61.5 128.9 -63.9 127.0 -66.3 125.0 -68.6 123.0 -70.8 121.0 -73.0 119.1 -75.2 117.1 -77.3 M272.5 174.3 272.5 171.6 272.4 168.8 272.3 166.1 272.2 163.2 271.9 160.4 271.7 157.5 271.4 154.6 271.0 151.7 270.6 148.8 270.2 145.8 269.7 142.9 269.1 139.9 268.6 136.9 267.9 133.8 267.2 130.8 266.5 127.7 265.8 124.6 264.9 121.5 264.1 118.4 263.2 115.3 262.2 112.2 261.2 109.0 260.2 105.9 259.1 102.7 258.0 99.6 256.8 96.4 255.6 93.2 254.4 90.0 253.1 86.8 251.7 83.6 250.4 80.5 248.9 77.3 247.5 74.1 246.0 70.9 244.5 67.7 242.9 64.5 241.3 61.3 239.6 58.2 237.9 55.0 236.2 51.8 234.4 48.7 232.6 45.5 230.8 42.4 228.9 39.3 227.0 36.2 225.1 33.1 223.1 30.0 221.1 26.9 219.1 23.8 217.1 20.8 215.0 17.8 212.8 14.8 210.7 11.8 208.5 8.8 206.3 5.9 204.1 3.0 201.8 0.1 199.5 -2.8 197.2 -5.6 194.9 -8.5 192.5 -11.3 190.1 -14.0 187.7 -16.8 185.3 -19.5 182.8 -22.2 180.4 -24.8 177.9 -27.4 175.4 -30.0 172.9 -32.6 170.3 -35.1 167.8 -37.6 165.2 -40.0 162.6 -42.5 160.0 -44.8 157.4 -47.2 154.8 -49.5 152.1 -51.7 149.5 -54.0 146.8 -56.2 144.2 -58.3 141.5 -60.4 138.8 -62.5 136.1 -64.5 133.4 -66.5 130.7 -68.4 128.0 -70.3 125.3 -72.1 122.6 -73.9 119.9 -75.7 117.2 -77.4 M304.1 143.9 304.1 141.2 304.0 138.4 303.8 135.7 303.6 132.9 303.4 130.1 303.1 127.3 302.7 124.5 302.3 121.6 301.8 118.8 301.3 115.9 300.7 113.0 300.0 110.1 299.3 107.2 298.6 104.3 297.7 101.4 296.9 98.5 295.9 95.5 295.0 92.6 293.9 89.7 292.8 86.7 291.7 83.8 290.5 80.8 289.2 77.9 287.9 74.9 286.6 72.0 285.2 69.0 283.7 66.1 282.2 63.2 280.7 60.2 279.1 57.3 277.4 54.4 275.7 51.5 274.0 48.5 272.2 45.7 270.3 42.8 268.4 39.9 266.5 37.0 264.5 34.2 262.5 31.3 260.4 28.5 258.3 25.7 256.1 22.9 253.9 20.1 251.7 17.4 249.4 14.6 247.1 11.9 244.7 9.2 242.3 6.5 239.8 3.9 237.4 1.2 234.8 -1.4 232.3 -4.0 229.7 -6.5 227.1 -9.1 224.4 -11.6 221.7 -14.1 219.0 -16.5 216.3 -18.9 213.5 -21.3 210.7 -23.7 207.8 -26.0 205.0 -28.3 202.1 -30.6 199.2 -32.8 196.2 -35.1 193.3 -37.2 190.3 -39.4 187.2 -41.5 184.2 -43.5 181.2 -45.5 178.1 -47.5 175.0 -49.5 171.9 -51.4 168.8 -53.3 165.6 -55.1 162.4 -56.9 159.3 -58.6 156.1 -60.3 152.9 -62.0 149.7 -63.6 146.5 -65.2 143.2 -66.7 140.0 -68.2 136.8 -69.7 133.5 -71.1 130.3 -72.4 127.0 -73.8 123.7 -75.0 120.5 -76.2 117.2 -77.4 M322.9 109.0 322.9 106.3 322.8 103.6 322.6 100.8 322.4 98.1 322.1 95.3 321.8 92.6 321.4 89.8 320.9 87.1 320.4 84.3 319.8 81.5 319.1 78.8 318.4 76.0 317.6 73.2 316.8 70.4 315.9 67.7 314.9 64.9 313.9 62.2 312.8 59.4 311.7 56.7 310.5 53.9 309.2 51.2 307.9 48.5 306.6 45.8 305.1 43.0 303.6 40.4 302.1 37.7 300.5 35.0 298.8 32.3 297.1 29.7 295.4 27.1 293.5 24.5 291.7 21.9 289.7 19.3 287.8 16.7 285.7 14.2 283.6 11.6 281.5 9.1 279.3 6.7 277.1 4.2 274.8 1.8 272.5 -0.7 270.1 -3.0 267.7 -5.4 265.2 -7.7 262.7 -10.1 260.1 -12.3 257.5 -14.6 254.9 -16.8 252.2 -19.0 249.5 -21.2 246.7 -23.4 243.9 -25.5 241.0 -27.6 238.2 -29.6 235.2 -31.6 232.3 -33.6 229.3 -35.5 226.3 -37.5 223.2 -39.3 220.1 -41.2 217.0 -43.0 213.8 -44.8 210.6 -46.5 207.4 -48.2 204.2 -49.8 200.9 -51.5 197.6 -53.0 194.3 -54.6 191.0 -56.1 187.6 -57.5 184.2 -58.9 180.8 -60.3 177.4 -61.6 174.0 -62.9 170.5 -64.2 167.0 -65.4 163.5 -66.5 160.0 -67.6 156.5 -68.7 153.0 -69.7 149.4 -70.7 145.9 -71.7 142.3 -72.5 138.8 -73.4 135.2 -74.2 131.6 -74.9 128.0 -75.6 124.4 -76.3 120.8 -76.9 117.2 -77.5 M327.7 72.0 327.6 69.3 327.5 66.6 327.4 63.9 327.2 61.2 326.9 58.5 326.5 55.8 326.1 53.1 325.6 50.4 325.1 47.8 324.5 45.1 323.8 42.5 323.1 39.8 322.3 37.2 321.4 34.6 320.5 32.0 319.5 29.4 318.5 26.8 317.4 24.2 316.2 21.7 315.0 19.2 313.7 16.7 312.3 14.2 310.9 11.7 309.5 9.3 308.0 6.8 306.4 4.4 304.7 2.0 303.0 -0.3 301.3 -2.7 299.5 -5.0 297.6 -7.3 295.7 -9.5 293.7 -11.7 291.7 -14.0 289.6 -16.1 287.5 -18.3 285.3 -20.4 283.1 -22.5 280.8 -24.6 278.5 -26.6 276.1 -28.6 273.6 -30.5 271.2 -32.5 268.6 -34.4 266.1 -36.2 263.4 -38.1 260.8 -39.9 258.1 -41.6 255.3 -43.3 252.5 -45.0 249.7 -46.7 246.8 -48.3 243.9 -49.8 241.0 -51.4 238.0 -52.9 234.9 -54.3 231.9 -55.7 228.8 -57.1 225.7 -58.4 222.5 -59.7 219.3 -61.0 216.1 -62.2 212.8 -63.3 209.5 -64.4 206.2 -65.5 202.9 -66.5 199.5 -67.5 196.1 -68.5 192.7 -69.4 189.2 -70.2 185.8 -71.0 182.3 -71.8 178.8 -72.5 175.3 -73.2 171.7 -73.8 168.2 -74.4 164.6 -74.9 161.0 -75.4 157.4 -75.8 153.8 -76.2 150.2 -76.6 146.6 -76.9 142.9 -77.1 139.3 -77.3 135.6 -77.5 131.9 -77.6 128.3 -77.6 124.6 -77.6 120.9 -77.6 117.3 -77.5 M-86.7 44.1 -86.5 46.5 -86.3 48.9 -85.9 51.3 -85.6 53.6 -85.1 56.0 -84.6 58.4 -84.1 60.8 -83.5 63.1 -82.8 65.5 -82.0 67.8 -81.2 70.2 -80.4 72.5 -79.5 74.8 -78.5 77.1 -77.4 79.4 -76.3 81.7 -75.2 83.9 -73.9 86.2 -72.7 88.4 -71.3 90.7 -69.9 92.9 -68.5 95.0 -67.0 97.2 -65.4 99.4 -63.8 101.5 -62.1 103.6 -60.4 105.7 -58.6 107.8 -56.8 109.8 -54.9 111.9 -53.0 113.9 -51.0 115.9 -48.9 117.8 -46.8 119.8 -44.7 121.7 -42.5 123.6 -40.3 125.4 -38.0 127.3 -35.6 129.1 -33.3 130.9 -30.8 132.6 -28.4 134.3 -25.8 136.0 -23.3 137.7 -20.7 139.3 -18.0 140.9 -15.4 142.5 -12.6 144.0 -9.9 145.5 -7.1 147.0 -4.2 148.5 -1.3 149.9 1.6 151.2 4.5 152.6 7.5 153.9 10.5 155.2 13.6 156.4 16.7 157.6 19.8 158.7 22.9 159.9 26.1 161.0 29.3 162.0 32.5 163.0 35.8 164.0 39.0 164.9 42.3 165.8 45.7 166.7 49.0 167.5 52.4 168.3 55.7 169.0 59.1 169.7 62.6 170.4 66.0 171.0 69.5 171.6 72.9 172.1 76.4 172.6 79.9 173.1 83.4 173.5 86.9 173.9 90.4 174.2 94.0 174.5 97.5 174.7 101.0 174.9 104.6 175.1 108.1 175.2 111.7 175.3 115.3 175.3 118.8 175.3 122.4 175.3 125.9 175.2 129.5 175.1 133.0 174.9 136.6 174.7 140.1 174.5 143.6 174.2 147.2 173.8 150.7 173.4 154.2 173.0 157.7 172.6 161.1 172.1 164.6 171.5 168.1 170.9 171.5 170.3 174.9 169.7 178.3 169.0 181.7 168.2 185.1 167.4 188.4 166.6 191.7 165.8 195.0 164.9 198.3 163.9 201.5 162.9 204.8 161.9 207.9 160.9 211.1 159.8 214.3 158.7 217.4 157.5 220.4 156.3 223.5 155.1 226.5 153.8 229.5 152.5 232.4 151.1 235.3 149.8 238.2 148.3 241.1 146.9 243.9 145.4 246.6 143.9 249.3 142.4 252.0 140.8 254.7 139.2 257.3 137.6 259.8 135.9 262.3 134.2 264.8 132.5 267.2 130.7 269.6 128.9 271.9 127.1 274.2 125.3 276.5 123.4 278.7 121.5 280.8 119.6 282.9 117.7 284.9 115.7 286.9 113.7 288.8 111.7 290.7 109.7 292.6 107.6 294.3 105.6 296.1 103.5 297.7 101.3 299.3 99.2 300.9 97.0 302.4 94.9 303.8 92.7 305.2 90.5 306.6 88.3 307.8 86.0 309.0 83.8 310.2 81.5 311.3 79.2 312.3 76.9 313.3 74.6 314.2 72.3 315.1 70.0 315.9 67.6 316.6 65.3 317.3 62.9 317.9 60.6 318.5 58.2 319.0 55.8 319.4 53.5 319.8 51.1 320.1 48.7 320.3 46.3 320.5 43.9 320.6 41.5 320.7 39.1 320.7 36.7 320.6 34.3 320.5 31.9 M-65.6 5.9 -65.5 8.0 -65.3 10.2 -65.0 12.3 -64.6 14.4 -64.2 16.6 -63.8 18.7 -63.3 20.8 -62.7 22.9 -62.1 25.0 -61.5 27.1 -60.7 29.2 -60.0 31.3 -59.1 33.4 -58.3 35.5 -57.3 37.5 -56.3 39.6 -55.3 41.6 -54.2 43.6 -53.1 45.6 -51.9 47.6 -50.6 49.6 -49.3 51.6 -48.0 53.5 -46.6 55.4 -45.1 57.3 -43.6 59.2 -42.1 61.1 -40.5 63.0 -38.8 64.8 -37.1 66.6 -35.4 68.4 -33.6 70.2 -31.8 72.0 -29.9 73.7 -28.0 75.4 -26.0 77.1 -24.0 78.8 -22.0 80.4 -19.9 82.1 -17.7 83.7 -15.6 85.2 -13.3 86.8 -11.1 88.3 -8.8 89.8 -6.5 91.3 -4.1 92.7 -1.7 94.1 0.8 95.5 3.2 96.8 5.8 98.2 8.3 99.4 10.9 100.7 13.5 101.9 16.1 103.1 18.8 104.3 21.5 105.4 24.3 106.6 27.0 107.6 29.8 108.7 32.6 109.7 35.5 110.6 38.3 111.6 41.2 112.5 44.1 113.4 47.1 114.2 50.0 115.0 53.0 115.8 56.0 116.5 59.0 117.2 62.1 117.9 65.1 118.5 68.2 119.1 71.3 119.6 74.4 120.2 77.5 120.6 80.6 121.1 83.7 121.5 86.9 121.9 90.0 122.2 93.2 122.5 96.3 122.8 99.5 123.0 102.7 123.2 105.9 123.3 109.0 123.4 112.2 123.5 115.4 123.5 118.6 123.5 121.8 123.5 125.0 123.4 128.2 123.3 131.4 123.2 134.5 123.0 137.7 122.7 140.9 122.5 144.0 122.2 147.2 121.8 150.3 121.5 153.4 121.1 156.6 120.6 159.7 120.1 162.8 119.6 165.8 119.0 168.9 118.5 172.0 117.8 175.0 117.2 178.0 116.5 181.0 115.7 184.0 114.9 186.9 114.1 189.9 113.3 192.8 112.4 195.7 111.5 198.5 110.6 201.4 109.6 204.2 108.6 207.0 107.5 209.7 106.5 212.5 105.4 215.2 104.2 217.8 103.0 220.5 101.8 223.1 100.6 225.7 99.3 228.2 98.0 230.7 96.7 233.2 95.4 235.7 94.0 238.1 92.6 240.4 91.1 242.8 89.7 245.0 88.2 247.3 86.7 249.5 85.1 251.7 83.5 253.8 81.9 255.9 80.3 258.0 78.7 260.0 77.0 261.9 75.3 263.8 73.6 265.7 71.8 267.5 70.1 269.3 68.3 271.1 66.5 272.7 64.7 274.4 62.8 276.0 61.0 277.5 59.1 279.0 57.2 280.5 55.3 281.9 53.3 283.2 51.4 284.5 49.4 285.7 47.5 286.9 45.5 288.1 43.5 289.2 41.4 290.2 39.4 291.2 37.4 292.1 35.3 293.0 33.2 293.8 31.2 294.6 29.1 295.3 27.0 296.0 24.9 296.6 22.8 297.1 20.7 297.6 18.5 298.1 16.4 298.4 14.3 298.8 12.1 299.1 10.0 299.3 7.8 299.4 5.7 299.5 3.6 299.6 1.4 299.6 -0.7 299.5 -2.9 299.4 -5.0 M-32.1 -27.4 -32.0 -25.7 -31.8 -23.9 -31.6 -22.2 -31.3 -20.4 -31.0 -18.7 -30.6 -16.9 -30.2 -15.2 -29.8 -13.5 -29.3 -11.8 -28.7 -10.0 -28.1 -8.3 -27.5 -6.6 -26.8 -4.9 -26.1 -3.2 -25.4 -1.6 -24.6 0.1 -23.7 1.8 -22.8 3.4 -21.9 5.0 -20.9 6.7 -19.9 8.3 -18.8 9.9 -17.7 11.5 -16.6 13.1 -15.4 14.6 -14.2 16.2 -12.9 17.7 -11.6 19.2 -10.3 20.7 -8.9 22.2 -7.5 23.7 -6.0 25.1 -4.5 26.6 -3.0 28.0 -1.4 29.4 0.2 30.8 1.8 32.1 3.5 33.5 5.2 34.8 7.0 36.1 8.7 37.4 10.6 38.6 12.4 39.9 14.3 41.1 16.2 42.3 18.1 43.5 20.1 44.6 22.1 45.8 24.1 46.9 26.2 47.9 28.2 49.0 30.3 50.0 32.5 51.0 34.6 52.0 36.8 53.0 39.0 53.9 41.3 54.8 43.5 55.7 45.8 56.5 48.1 57.3 50.4 58.1 52.8 58.9 55.1 59.6 57.5 60.4 59.9 61.0 62.3 61.7 64.7 62.3 67.2 62.9 69.7 63.5 72.1 64.0 74.6 64.5 77.1 65.0 79.6 65.5 82.2 65.9 84.7 66.3 87.2 66.7 89.8 67.0 92.4 67.3 94.9 67.6 97.5 67.8 100.1 68.0 102.7 68.2 105.3 68.4 107.9 68.5 110.5 68.6 113.1 68.6 115.7 68.7 118.3 68.7 120.9 68.6 123.5 68.6 126.1 68.5 128.7 68.4 131.3 68.2 133.9 68.0 136.5 67.8 139.0 67.6 141.6 67.3 144.2 67.0 146.7 66.6 149.3 66.3 151.8 65.9 154.3 65.4 156.9 65.0 159.4 64.5 161.9 64.0 164.3 63.5 166.8 62.9 169.2 62.3 171.7 61.6 174.1 61.0 176.5 60.3 178.9 59.6 181.2 58.8 183.5 58.1 185.9 57.3 188.2 56.5 190.4 55.6 192.7 54.7 194.9 53.8 197.1 52.9 199.3 51.9 201.5 50.9 203.6 49.9 205.7 48.9 207.8 47.9 209.8 46.8 211.9 45.7 213.9 44.5 215.8 43.4 217.8 42.2 219.7 41.0 221.5 39.8 223.4 38.5 225.2 37.3 227.0 36.0 228.7 34.7 230.4 33.4 232.1 32.0 233.7 30.7 235.3 29.3 236.9 27.9 238.4 26.5 239.9 25.0 241.4 23.6 242.8 22.1 244.1 20.6 245.5 19.1 246.8 17.6 248.0 16.0 249.3 14.5 250.4 12.9 251.6 11.4 252.7 9.8 253.7 8.2 254.8 6.5 255.7 4.9 256.7 3.3 257.6 1.6 258.4 -0.0 259.2 -1.7 260.0 -3.4 260.7 -5.1 261.3 -6.8 262.0 -8.5 262.6 -10.2 263.1 -11.9 263.6 -13.6 264.0 -15.3 264.5 -17.1 264.8 -18.8 265.1 -20.6 265.4 -22.3 265.6 -24.1 265.8 -25.8 265.9 -27.6 266.0 -29.3 266.1 -31.1 266.1 -32.8 266.0 -34.6 265.9 -36.3 M11.5 -53.5 11.6 -52.3 11.7 -51.0 11.9 -49.8 12.1 -48.5 12.3 -47.3 12.6 -46.1 12.9 -44.9 13.2 -43.6 13.5 -42.4 13.9 -41.2 14.3 -40.0 14.8 -38.8 15.3 -37.6 15.8 -36.4 16.3 -35.2 16.9 -34.0 17.5 -32.9 18.1 -31.7 18.8 -30.5 19.5 -29.4 20.2 -28.2 20.9 -27.1 21.7 -26.0 22.5 -24.9 23.4 -23.8 24.2 -22.7 25.1 -21.6 26.0 -20.5 27.0 -19.5 28.0 -18.4 29.0 -17.4 30.0 -16.3 31.1 -15.3 32.1 -14.3 33.2 -13.3 34.4 -12.3 35.5 -11.4 36.7 -10.4 37.9 -9.5 39.2 -8.6 40.4 -7.7 41.7 -6.8 43.0 -5.9 44.3 -5.0 45.7 -4.2 47.0 -3.4 48.4 -2.6 49.8 -1.8 51.3 -1.0 52.7 -0.2 54.2 0.5 55.7 1.3 57.2 2.0 58.7 2.7 60.3 3.3 61.8 4.0 63.4 4.6 65.0 5.3 66.6 5.9 68.2 6.4 69.9 7.0 71.5 7.5 73.2 8.1 74.9 8.6 76.6 9.1 78.3 9.5 80.0 10.0 81.7 10.4 83.5 10.8 85.2 11.2 87.0 11.5 88.8 11.9 90.5 12.2 92.3 12.5 94.1 12.8 95.9 13.0 97.7 13.3 99.6 13.5 101.4 13.7 103.2 13.8 105.0 14.0 106.9 14.1 108.7 14.2 110.5 14.3 112.4 14.4 114.2 14.4 116.0 14.4 117.9 14.4 119.7 14.4 121.6 14.4 123.4 14.3 125.2 14.2 127.1 14.1 128.9 14.0 130.7 13.8 132.6 13.7 134.4 13.5 136.2 13.3 138.0 13.0 139.8 12.8 141.6 12.5 143.4 12.2 145.2 11.9 146.9 11.5 148.7 11.1 150.4 10.8 152.2 10.4 153.9 9.9 155.6 9.5 157.3 9.0 159.0 8.5 160.7 8.0 162.4 7.5 164.0 7.0 165.7 6.4 167.3 5.8 168.9 5.2 170.5 4.6 172.1 3.9 173.6 3.3 175.2 2.6 176.7 1.9 178.2 1.2 179.7 0.5 181.2 -0.3 182.6 -1.0 184.0 -1.8 185.5 -2.6 186.8 -3.4 188.2 -4.3 189.6 -5.1 190.9 -6.0 192.2 -6.8 193.5 -7.7 194.7 -8.6 195.9 -9.6 197.2 -10.5 198.3 -11.5 199.5 -12.4 200.6 -13.4 201.7 -14.4 202.8 -15.4 203.9 -16.4 204.9 -17.4 205.9 -18.5 206.9 -19.5 207.8 -20.6 208.7 -21.7 209.6 -22.8 210.5 -23.9 211.3 -25.0 212.1 -26.1 212.9 -27.2 213.7 -28.3 214.4 -29.5 215.1 -30.6 215.7 -31.8 216.4 -33.0 217.0 -34.1 217.5 -35.3 218.1 -36.5 218.6 -37.7 219.0 -38.9 219.5 -40.1 219.9 -41.3 220.3 -42.5 220.6 -43.7 220.9 -45.0 221.2 -46.2 221.5 -47.4 221.7 -48.6 221.9 -49.9 222.1 -51.1 222.2 -52.4 222.3 -53.6 222.3 -54.8 222.4 -56.1 222.4 -57.3 222.3 -58.6 222.3 -59.8 M62.3 -70.6 62.4 -69.9 62.5 -69.3 62.5 -68.7 62.6 -68.0 62.8 -67.4 62.9 -66.7 63.0 -66.1 63.2 -65.5 63.4 -64.9 63.6 -64.2 63.8 -63.6 64.0 -63.0 64.3 -62.4 64.5 -61.7 64.8 -61.1 65.1 -60.5 65.4 -59.9 65.8 -59.3 66.1 -58.7 66.5 -58.1 66.8 -57.5 67.2 -56.9 67.6 -56.3 68.0 -55.8 68.5 -55.2 68.9 -54.6 69.4 -54.1 69.9 -53.5 70.4 -53.0 70.9 -52.4 71.4 -51.9 71.9 -51.3 72.5 -50.8 73.0 -50.3 73.6 -49.8 74.2 -49.3 74.8 -48.8 75.4 -48.3 76.0 -47.8 76.7 -47.3 77.3 -46.9 78.0 -46.4 78.6 -45.9 79.3 -45.5 80.0 -45.1 80.7 -44.6 81.5 -44.2 82.2 -43.8 82.9 -43.4 83.7 -43.0 84.4 -42.6 85.2 -42.2 86.0 -41.9 86.8 -41.5 87.6 -41.2 88.4 -40.8 89.2 -40.5 90.0 -40.2 90.9 -39.9 91.7 -39.6 92.6 -39.3 93.4 -39.0 94.3 -38.7 95.2 -38.5 96.0 -38.2 96.9 -38.0 97.8 -37.7 98.7 -37.5 99.6 -37.3 100.5 -37.1 101.4 -36.9 102.3 -36.7 103.3 -36.6 104.2 -36.4 105.1 -36.3 106.0 -36.1 107.0 -36.0 107.9 -35.9 108.9 -35.8 109.8 -35.7 110.7 -35.6 111.7 -35.6 112.6 -35.5 113.6 -35.5 114.5 -35.4 115.5 -35.4 116.5 -35.4 117.4 -35.4 118.4 -35.4 119.3 -35.4 120.3 -35.5 121.2 -35.5 122.2 -35.6 123.1 -35.7 124.1 -35.7 125.0 -35.8 125.9 -35.9 126.9 -36.0 127.8 -36.2 128.7 -36.3 129.7 -36.4 130.6 -36.6 131.5 -36.8 132.4 -36.9 133.3 -37.1 134.3 -37.3 135.2 -37.5 136.0 -37.8 136.9 -38.0 137.8 -38.2 138.7 -38.5 139.6 -38.7 140.4 -39.0 141.3 -39.3 142.1 -39.6 143.0 -39.9 143.8 -40.2 144.6 -40.5 145.5 -40.8 146.3 -41.2 147.1 -41.5 147.9 -41.9 148.6 -42.3 149.4 -42.6 150.2 -43.0 150.9 -43.4 151.7 -43.8 152.4 -44.2 153.1 -44.7 153.8 -45.1 154.5 -45.5 155.2 -46.0 155.9 -46.4 156.5 -46.9 157.2 -47.4 157.8 -47.8 158.4 -48.3 159.0 -48.8 159.6 -49.3 160.2 -49.8 160.8 -50.3 161.4 -50.9 161.9 -51.4 162.4 -51.9 163.0 -52.5 163.5 -53.0 164.0 -53.6 164.4 -54.1 164.9 -54.7 165.3 -55.2 165.8 -55.8 166.2 -56.4 166.6 -57.0 167.0 -57.6 167.4 -58.2 167.7 -58.7 168.1 -59.3 168.4 -60.0 168.7 -60.6 169.0 -61.2 169.3 -61.8 169.5 -62.4 169.8 -63.0 170.0 -63.6 170.2 -64.3 170.4 -64.9 170.6 -65.5 170.8 -66.2 170.9 -66.8 171.0 -67.4 171.1 -68.1 171.2 -68.7 171.3 -69.4 171.4 -70.0 171.4 -70.6 171.5 -71.3 171.5 -71.9 171.5 -72.6 171.5 -73.2 171.4 -73.8" mask="url(#ocean)" fill="none" stroke="#4d4d4d" stroke-width="2.1"/><path d="M13.6 -25.0 14.5 -24.7 15.3 -24.5 16.2 -24.2 17.0 -24.0 17.9 -23.8 18.7 -23.6 19.6 -23.4 20.5 -23.2 21.3 -23.0 22.2 -22.8 23.1 -22.7 24.0 -22.5 24.9 -22.3 25.8 -22.2 26.7 -22.0 27.6 -21.9 28.5 -21.8 29.4 -21.6 30.3 -21.5 31.2 -21.4 31.6 -20.8 32.0 -20.3 32.5 -19.7 32.9 -19.2 33.3 -18.6 33.8 -18.0 34.2 -17.5 34.7 -16.9 35.0 -16.2 35.3 -15.5 35.6 -14.7 35.9 -14.0 36.2 -13.2 36.5 -12.5 36.9 -11.7 37.2 -11.0 37.6 -10.2 37.9 -9.5 38.4 -8.8 38.9 -8.2 39.3 -7.6 39.3 -6.3 39.4 -5.1 39.4 -3.9 39.7 -3.1 39.9 -2.4 40.2 -1.6 41.2 -1.8 42.2 -2.0 43.3 -2.3 43.5 -1.1 43.7 -0.0 43.9 1.1 43.6 3.1 43.3 5.0 43.1 7.0 42.9 9.0 43.0 10.5 43.1 12.0 43.0 13.6 43.0 15.2 42.0 16.2 41.0 17.1 40.7 18.4 40.4 19.7 40.6 21.3 40.9 22.8 41.1 24.4 41.3 25.9 41.1 27.2 40.9 28.5 40.9 29.8 41.0 31.1 41.6 31.7 42.1 32.4 42.7 33.0 43.3 33.9 44.0 34.8 44.4 35.8 44.8 36.7 45.2 37.7 45.6 38.7 46.0 39.6 46.5 40.4 47.1 41.5 47.0 42.5 46.9 43.6 46.6 44.6 46.3 45.7 45.8 47.5 45.0 47.6 44.3 47.7 45.4 46.1 45.3 44.5 44.8 44.0 44.3 43.5 43.6 42.9 43.0 42.3 42.3 41.7 41.8 43.5 41.7 45.0 41.5 46.5 41.2 47.6 40.9 48.7 40.8 49.8 40.3 51.0 39.8 52.2 39.1 53.7 38.4 55.2 37.7 56.7 36.9 58.2 36.1 59.4 35.2 60.7 34.7 62.1 34.3 63.5 34.2 64.6 34.1 65.8 33.7 66.8 33.4 67.9 32.1 69.3 32.4 70.8 32.7 72.3 32.3 73.7 31.9 75.2 32.3 76.9 32.7 78.6 33.6 80.1 33.4 81.2 33.2 82.3 33.5 83.6 33.8 84.9 34.1 86.9 34.6 88.5 35.2 90.0 35.2 91.6 35.2 93.1 36.3 93.9 37.4 94.7 38.4 95.5 39.4 96.3 40.3 97.2 41.2 98.4 42.0 100.1 42.8 101.7 42.9 103.3 43.2 104.9 43.5 106.5 43.7 108.2 44.0 110.0 44.4 111.4 44.9 112.8 45.8 114.6 46.7 116.3 47.4 118.0 48.2 119.7 48.3 121.2 48.3 122.6 49.4 124.6 50.5 126.5 51.8 128.6 53.0 130.7 52.9 132.0 52.9 133.3 52.8 134.6 53.8 135.7 54.9 136.7 55.9 137.8 56.8 139.4 57.7 141.0 58.6 142.6 59.5 142.3 60.5 142.0 59.9 140.5 59.4 138.9 58.3 138.2 57.3 137.4 56.9 136.0 56.6 134.6 56.2 133.2 55.4 131.3 54.6 129.3 53.9 127.3 53.3 125.3 52.8 123.6 52.3 121.8 51.5 119.8 50.8 117.8 49.8 115.7 48.8 113.6 48.7 111.7 48.6 109.8 48.7 108.0 50.0 109.1 51.2 109.9 52.4 110.8 53.1 112.1 53.8 113.4 54.2 114.9 54.7 116.3 55.2 117.8 56.0 119.6 56.8 121.4 57.5 123.1 58.2 124.7 59.5 126.6 60.8 128.5 61.5 130.4 62.2 132.4 63.5 134.1 64.7 135.7 66.0 137.4 67.3 139.1 68.3 140.7 69.4 142.2 70.4 143.8 71.6 145.6 72.8 147.3 73.1 149.0 73.5 150.6 73.2 152.1 72.9 153.6 73.4 155.4 74.0 157.2 75.3 158.2 76.6 159.3 77.9 160.6 79.1 162.0 80.7 162.6 82.3 163.3 83.9 163.9 85.6 165.1 87.3 166.3 88.5 166.9 89.8 167.6 91.0 168.3 92.6 169.0 94.2 169.7 95.9 170.3 97.6 170.9 99.4 171.5 101.1 172.1 102.9 172.7 104.6 172.4 106.4 172.0 108.2 171.6 108.7 170.0 109.1 168.3 109.6 166.7 110.0 165.0 108.6 164.1 107.3 163.2 105.9 162.2 104.5 161.1 103.9 159.9 103.2 158.7 102.0 157.2 100.9 155.8 100.6 154.6 100.2 153.4 99.6 151.8 99.0 150.2 99.1 148.5 99.3 146.7 99.5 145.0 99.8 143.3 100.1 141.7 100.4 140.2 101.0 138.9 101.6 137.6 101.4 136.4 101.2 135.3 101.1 134.0 101.0 132.8 101.5 131.7 102.1 130.7 103.2 129.8 104.4 129.0 105.9 128.3 107.3 127.7 108.5 126.8 109.6 126.0 110.9 125.4 112.2 124.8 113.5 124.6 114.8 124.4 116.2 124.8 117.7 125.2 119.1 125.6 120.6 126.0 121.8 126.4 123.1 126.7 124.3 126.4 125.4 126.1 126.5 126.5 127.6 126.9 127.3 125.9 126.9 124.8 125.9 123.2 127.2 122.3 128.3 122.0 129.4 121.8 130.3 121.2 131.2 120.6 132.6 122.0 133.7 121.8 134.9 121.6 136.0 121.4 137.5 121.9 138.9 122.3 140.1 122.9 141.3 123.5 142.3 122.8 143.4 122.1 144.5 122.6 145.7 123.1 146.9 124.0 148.1 125.0 148.4 126.6 148.7 128.2 148.9 129.4 149.2 130.6 150.1 131.9 151.0 133.2 151.8 134.6 152.6 135.9 153.7 137.0 154.8 138.1 155.9 137.9 157.0 137.8 157.4 136.5 157.8 135.2 157.7 133.7 157.7 132.3 157.3 131.0 156.9 129.6 156.1 128.1 155.3 126.6 154.5 125.2 153.7 123.9 153.1 122.5 152.5 121.2 152.2 120.0 151.9 118.7 152.1 117.2 152.3 115.8 152.8 114.6 153.3 113.4 154.5 112.0 155.7 110.5 156.7 109.1 157.8 107.6 158.7 106.7 159.7 105.8 161.0 104.9 162.4 103.5 163.7 102.2 164.7 101.1 166.0 100.2 167.4 99.4 166.8 97.8 166.2 96.1 165.6 94.9 164.9 93.8 163.9 92.8 163.6 91.4 163.4 90.0 162.9 88.6 162.3 87.2 162.3 85.3 163.6 86.5 163.9 87.8 164.1 89.1 164.5 90.3 164.8 91.5 165.4 89.9 166.5 88.2 166.3 86.4 165.5 85.4 164.7 84.5 165.6 85.1 166.6 85.7 167.6 83.8 167.9 82.4 168.2 81.1 167.8 79.3 168.1 78.1 169.2 77.4 170.2 76.7 171.2 76.0 172.0 75.7 172.8 75.4 173.9 74.4 174.9 74.1 175.9 73.7 176.6 73.1 177.2 72.5 176.9 71.5 176.2 71.9 175.5 72.2 174.7 71.1 174.1 70.9 174.8 69.6 173.9 68.3 174.4 67.0 174.9 65.7 175.9 64.9 177.0 64.0 178.1 63.1 179.1 62.2 179.8 61.4 180.5 60.6 181.3 59.2 181.2 58.1 182.3 57.5 183.4 56.9 184.2 55.9 185.0 54.8 185.7 54.5 186.3 54.2 187.3 55.6 186.4 56.5 185.4 57.4 184.6 58.9 183.8 60.3 184.6 61.4 185.5 62.5 186.9 62.8 187.7 60.9 188.3 59.1 189.0 58.3 189.6 57.5 190.4 56.8 191.2 56.1 191.9 55.4 192.7 54.7 193.6 53.8 194.5 52.8 195.2 51.3 195.9 49.8 194.7 48.3 193.6 46.8 192.7 47.8 191.9 48.7 192.3 50.1 192.7 51.5 191.7 52.1 190.7 52.8 189.5 53.0 188.3 53.3 186.9 53.0 185.5 52.7 184.7 51.7 183.8 50.6 182.6 49.4 181.4 48.3 182.0 46.5 182.7 45.5 183.3 44.5 182.0 43.0 180.7 43.0 179.5 42.9 178.6 43.4 177.8 43.9 176.9 44.4 176.1 45.1 175.3 45.8 174.5 46.6 173.7 47.3 173.2 48.5 172.7 49.7 172.1 50.8 171.4 52.6 170.7 54.3 169.6 55.1 170.1 54.2 170.6 53.2 171.3 51.3 171.9 49.4 172.5 47.3 173.1 45.2 174.0 44.5 175.0 43.8 175.6 42.1 176.2 40.4 177.2 40.0 178.3 39.7 179.3 39.3 180.4 38.9 181.4 38.5 182.4 38.1 183.4 37.6 184.4 37.3 185.5 36.9 186.5 36.5 187.5 36.2 188.4 35.4 189.2 34.7 190.1 33.9 190.7 32.7 191.3 31.5 191.9 30.3 192.5 29.2 193.2 28.3 193.9 27.4 194.6 26.5 194.2 24.6 193.4 23.4 192.5 22.2 191.6 21.0 190.1 20.4 188.7 19.7 187.2 19.1 186.1 18.9 184.9 18.7 183.7 18.6 182.5 18.4 181.2 17.8 179.8 17.2 178.4 16.4 176.9 15.6 175.7 14.1 174.5 12.7 172.9 11.4 171.2 10.1 169.6 8.8 168.1 7.4 167.0 6.3 166.0 5.1 165.7 6.4 165.3 7.7 165.1 9.4 164.9 11.2 164.4 12.0 163.8 12.8 163.3 13.6 162.3 13.0 161.3 12.5 160.3 11.9 159.2 10.3 158.2 8.8 157.1 7.2 156.1 5.7 155.2 5.7 154.3 5.7 153.4 5.7 152.3 5.2 151.3 4.8 150.2 4.3 149.2 3.8 148.3 3.7 147.4 3.5 146.4 3.4 145.6 3.4 144.7 3.4 143.9 3.5 143.0 3.5 142.2 3.5 141.8 5.3 142.4 6.6 143.0 8.0 143.6 9.3 143.8 10.8 144.0 12.3 144.1 13.8 145.3 15.4 146.4 17.0 147.1 18.7 147.8 20.4 148.4 22.1 148.9 23.8 148.4 25.7 147.9 27.7 147.3 28.6 146.8 29.6 146.2 30.5 146.1 32.0 145.9 33.5 146.3 34.8 146.7 36.1 147.1 37.3 147.1 38.7 147.0 40.1 147.0 41.4 146.1 42.2 145.3 42.9 144.4 43.6 143.8 42.3 143.2 40.9 142.6 39.5 141.6 39.0 140.6 38.5 139.7 38.0 139.4 36.6 139.1 35.2 138.8 33.8 137.8 33.0 136.8 32.2 135.8 31.4 134.8 30.6 133.7 30.2 132.6 29.7 131.5 29.3 130.4 28.8 129.3 28.7 128.3 28.5 127.3 28.3 126.2 27.4 125.2 26.5 124.2 25.6 123.4 25.3 122.6 25.0 121.8 24.6 121.0 24.3 120.0 24.1 119.0 23.8 118.0 23.5 117.0 23.3 116.1 22.1 115.3 21.0 114.5 19.8 113.7 18.6 113.5 17.4 113.2 16.2 113.0 14.4 112.8 12.6 113.6 10.9 114.3 9.2 115.2 7.5 116.1 5.7 117.0 5.2 117.8 4.6 118.6 4.0 119.4 3.1 120.2 2.1 121.0 1.2 121.8 0.6 122.6 -0.1 123.3 -0.7 124.1 -1.3 123.3 -3.0 122.6 -4.7 121.9 -6.3 121.2 -8.0 120.5 -9.6 119.8 -9.8 119.1 -9.9 118.4 -10.1 117.7 -10.2 116.9 -10.4 116.2 -10.6 115.5 -10.8 114.8 -10.9 114.1 -11.1 113.4 -11.3 112.7 -11.5 112.0 -11.7 111.3 -11.9 110.7 -12.1 110.0 -12.3 109.3 -12.5 108.6 -12.7 108.0 -12.9 107.3 -13.1 106.6 -13.4 106.0 -13.6 105.3 -13.8 104.7 -14.1 104.0 -14.3 103.4 -14.5 102.7 -14.8 102.1 -15.0 101.5 -15.3 100.8 -15.5 100.2 -15.8 99.6 -16.1 99.0 -16.3 98.4 -16.6 97.8 -16.9 97.2 -17.1 96.6 -17.4 96.0 -17.7 95.4 -18.0 94.8 -18.3 94.2 -18.6 93.6 -18.9 93.1 -19.2 92.5 -19.5 91.9 -19.8 91.4 -20.1 90.8 -20.4 90.3 -20.7 89.7 -21.0 89.2 -21.3 88.7 -21.6 88.1 -22.0 87.6 -22.3 87.1 -22.6 86.6 -22.9 86.1 -23.3 85.6 -23.6 85.1 -23.9 84.6 -24.3 84.1 -24.6 83.6 -25.0 83.1 -25.2 82.5 -25.4 82.0 -25.6 81.4 -25.8 80.9 -26.0 80.3 -26.2 79.8 -26.4 79.2 -26.6 78.7 -26.9 78.2 -27.1 77.6 -27.3 77.1 -27.6 76.6 -27.8 76.1 -28.0 75.5 -28.3 75.0 -28.5 74.5 -28.8 74.0 -29.0 73.5 -29.3 73.0 -29.5 72.5 -29.8 72.0 -30.0 71.5 -30.3 71.0 -30.6 70.5 -30.8 70.1 -31.1 69.6 -31.4 69.1 -31.7 68.6 -32.0 68.2 -32.2 67.7 -32.5 67.3 -32.8 66.8 -33.1 66.3 -33.4 65.9 -33.7 65.5 -34.0 65.0 -34.3 64.6 -34.6 64.2 -34.9 63.7 -35.2 63.2 -35.4 62.6 -35.6 62.1 -35.8 61.5 -36.0 61.0 -36.2 60.4 -36.4 59.9 -36.7 59.4 -36.9 58.8 -37.1 58.3 -37.3 57.8 -37.5 57.2 -37.8 56.7 -38.0 56.2 -38.2 55.7 -38.5 55.2 -38.7 54.7 -39.0 54.2 -39.2 53.7 -39.5 53.2 -39.8 52.7 -40.0 52.2 -40.3 51.7 -40.6 51.2 -40.8 50.7 -41.1 50.2 -41.4 49.7 -41.7 49.3 -42.0 48.8 -42.3 48.3 -42.6 47.9 -42.9 47.4 -43.2 47.0 -43.5 46.5 -43.8 46.1 -44.1 45.6 -44.4 45.2 -44.8 44.7 -45.1 44.3 -45.4 43.9 -45.8 42.3 -44.8 40.8 -43.8 39.2 -42.9 37.6 -41.9 36.1 -40.9 34.5 -39.9 33.0 -38.9 31.5 -37.9 29.9 -36.8 28.4 -35.8 26.9 -34.7 25.4 -33.7 23.9 -32.6 22.4 -31.6 20.9 -30.5 19.5 -29.4 18.0 -28.3 16.5 -27.2 15.1 -26.1 13.6 -25.0Z M38.8 30.4 39.4 31.3 40.1 32.1 40.8 33.0 41.5 33.5 42.3 34.1 43.0 34.6 43.8 35.1 44.2 36.5 44.6 37.9 45.1 39.3 45.2 41.1 45.2 42.9 44.4 42.3 43.6 41.6 42.9 40.9 42.1 40.1 41.4 39.3 41.0 38.3 40.6 37.3 40.2 36.3 39.6 35.3 39.1 34.2 38.6 33.1 38.7 31.8 38.8 30.4Z M39.1 0.3 39.9 0.6 40.6 0.8 41.4 1.1 42.1 1.3 41.8 3.1 41.5 4.9 41.2 6.7 40.9 8.7 40.7 10.7 40.8 12.1 40.8 13.5 40.9 15.0 40.1 14.7 39.4 14.4 38.6 14.1 38.5 12.7 38.5 11.2 38.5 9.8 38.5 8.4 38.6 7.0 38.7 5.7 38.6 4.5 38.5 3.3 38.5 2.1 39.1 0.3Z M36.6 15.5 37.3 16.0 37.9 16.5 38.6 17.0 38.0 18.6 37.5 20.2 37.0 21.8 36.5 23.4 36.2 22.0 35.9 20.6 35.7 19.2 36.1 17.4 36.6 15.5Z M194.9 43.4 195.7 43.0 196.6 42.5 197.5 42.1 198.5 41.6 199.5 41.2 200.6 40.7 201.6 40.3 202.6 41.2 203.5 42.2 204.6 41.9 205.6 41.6 206.7 41.3 207.7 41.0 208.0 39.7 208.2 38.4 208.4 37.1 207.5 36.0 206.6 35.0 205.7 33.9 204.6 33.1 203.5 32.2 202.5 32.5 201.4 32.7 200.3 33.0 199.3 33.2 198.4 31.6 197.6 29.9 196.7 28.3 195.8 26.7 195.4 28.0 195.0 29.3 194.6 30.6 194.8 32.1 194.9 33.7 194.8 35.1 194.6 36.6 194.4 38.0 194.0 39.4 193.7 40.7 194.3 42.1 194.9 43.4Z M185.2 50.5 186.4 50.8 187.7 51.1 188.9 51.5 189.8 50.6 190.8 49.7 189.6 50.1 188.5 50.5 187.4 50.9 186.3 50.7 185.2 50.5Z M180.8 40.0 181.9 40.2 183.1 40.3 184.3 40.5 185.5 40.7 186.7 40.9 185.5 40.9 184.3 41.0 183.1 41.1 181.9 41.1 180.8 40.0Z M167.8 79.3 169.1 78.7 170.3 78.1 171.6 77.5 172.8 76.9 172.9 76.2 171.9 76.6 170.9 77.0 169.9 77.3 168.9 77.7 167.8 79.3Z M142.6 151.0 144.2 149.5 145.8 147.9 147.4 147.3 149.1 146.6 150.7 146.0 152.4 145.8 154.1 145.6 155.7 145.3 157.4 145.8 159.1 146.2 160.9 146.7 162.5 146.6 164.2 146.6 165.9 146.5 167.7 147.5 169.5 148.4 171.2 149.4 173.0 149.9 174.7 150.4 176.2 150.7 177.7 150.9 179.2 151.2 177.9 152.0 176.7 152.8 175.0 153.1 173.4 153.5 171.7 153.8 170.0 154.1 168.4 154.4 167.6 153.2 166.8 151.9 165.5 151.1 164.1 150.3 162.8 149.5 161.1 149.4 159.4 149.3 157.7 149.2 156.0 149.1 154.3 148.7 152.6 148.2 150.8 147.7 149.2 148.7 147.6 149.7 146.0 150.7 144.3 150.8 142.6 151.0Z M163.8 136.7 165.0 138.3 166.2 139.8 165.1 138.9 164.5 137.8 163.8 136.7Z M161.0 131.8 162.2 131.7 163.4 131.6 164.6 131.6 163.6 131.9 162.7 132.2 161.0 131.8Z M166.7 130.1 167.2 131.6 167.7 133.1 166.6 132.3 166.6 131.2 166.7 130.1Z M169.2 134.6 170.2 135.9 171.1 137.1 170.3 135.5 169.2 134.6Z M178.9 157.4 180.4 155.4 181.8 153.3 183.2 151.3 184.9 150.9 186.5 150.5 188.1 150.1 189.8 150.2 191.5 150.4 193.2 150.5 194.9 150.7 196.2 150.9 197.6 151.2 199.0 151.5 197.7 152.2 196.4 153.0 195.0 153.7 193.7 154.4 192.2 155.5 190.6 156.6 189.1 157.7 187.6 157.5 186.1 157.3 184.6 157.1 183.2 157.2 181.8 157.3 180.3 157.4 178.9 157.4Z M126.4 -1.5 127.3 -0.7 128.2 0.1 129.1 0.9 130.1 1.7 131.0 2.2 131.9 2.7 132.8 3.3 133.7 3.8 134.7 4.3 135.3 3.4 136.0 2.5 136.7 1.6 135.9 0.4 135.1 -0.8 134.3 -1.9 133.4 -2.6 132.5 -3.2 131.6 -3.9 130.8 -4.5 129.9 -5.2 129.2 -4.4 128.5 -3.7 127.9 -2.9 127.2 -2.2 126.4 -1.5Z M132.2 4.9 133.1 5.2 134.0 5.4 134.9 5.7 134.2 4.5 133.5 3.4 132.8 4.2 132.2 4.9Z M137.6 6.3 138.4 6.9 139.3 7.5 138.9 6.3 138.6 5.1 138.1 5.7 137.6 6.3Z M142.5 24.6 143.3 25.7 144.2 26.8 143.2 25.2 142.5 24.6Z M140.1 37.6 141.0 37.9 141.9 38.1 142.8 38.4 141.5 37.1 140.8 37.4 140.1 37.6Z M137.3 0.8 138.0 0.1 138.7 -0.5 139.3 -1.2 140.0 -1.9 140.6 -2.6 141.4 -2.8 142.1 -3.1 142.8 -3.4 143.5 -3.7 144.2 -4.0 145.0 -4.3 145.7 -4.6 146.7 -4.0 147.7 -3.3 148.8 -2.6 149.9 -1.9 150.9 -1.3 151.8 -1.1 152.8 -0.9 153.7 -0.8 154.6 -0.6 155.5 -0.4 156.4 -0.3 157.4 -0.1 158.3 0.0 159.3 0.2 160.2 0.3 161.1 0.4 161.4 -0.9 161.7 -2.2 161.9 -3.6 162.1 -4.9 162.3 -6.2 162.5 -7.5 162.6 -8.8 162.8 -10.1 162.9 -11.4 162.9 -12.7 163.0 -14.0 163.0 -15.3 162.1 -15.6 161.1 -16.0 160.1 -16.3 159.1 -16.7 158.2 -17.0 157.2 -17.4 156.2 -17.8 155.3 -18.2 154.4 -18.6 153.4 -18.9 152.5 -19.3 151.6 -19.8 150.7 -20.2 149.8 -20.6 148.9 -21.0 148.0 -21.4 147.1 -21.9 146.3 -22.3 145.4 -22.8 144.6 -23.2 144.0 -23.0 143.4 -22.9 142.8 -22.7 142.2 -22.6 141.6 -22.4 141.0 -22.3 140.4 -22.2 139.8 -22.0 139.2 -21.9 138.6 -21.8 138.0 -21.6 137.4 -21.5 136.8 -21.4 136.2 -21.3 135.6 -21.2 135.0 -21.1 134.4 -20.9 133.8 -20.8 133.2 -20.7 132.6 -20.7 131.9 -20.6 131.3 -20.5 130.7 -20.4 130.1 -20.3 129.5 -20.2 128.8 -20.2 128.2 -20.1 127.6 -20.0 127.0 -20.0 126.4 -19.9 127.1 -18.3 127.8 -16.8 128.6 -15.2 129.4 -13.6 130.2 -12.0 131.0 -10.4 131.8 -8.8 132.7 -7.2 133.6 -5.6 134.5 -4.0 135.4 -2.4 136.4 -0.8 137.3 0.8Z M202.2 150.9 203.6 150.5 204.9 150.2 206.2 149.8 207.6 149.4 207.2 150.9 205.7 151.4 204.2 151.9 202.8 152.4 202.2 150.9Z M118.0 62.4 118.9 62.2 119.8 61.9 120.8 61.7 121.5 62.2 122.3 62.7 123.5 62.3 124.6 61.9 125.8 61.5 126.8 60.7 127.7 59.9 128.7 59.5 129.3 61.3 130.3 61.8 131.2 62.2 132.2 62.6 133.4 62.1 134.6 61.5 135.8 61.9 137.0 62.2 136.6 60.8 136.2 59.3 135.8 58.3 135.5 57.2 134.3 56.3 133.2 55.4 132.0 54.5 131.0 54.6 130.0 54.6 128.9 54.6 127.9 54.6 126.9 55.1 125.8 55.6 124.8 56.0 124.0 57.0 123.2 57.9 122.0 58.9 120.7 59.9 119.5 60.9 118.8 61.7 118.0 62.4Z M129.4 75.7 129.6 77.2 129.8 78.6 130.6 80.2 131.8 80.5 133.1 79.5 133.5 78.2 133.9 76.9 133.8 75.2 133.8 73.6 133.3 72.1 132.8 70.7 133.8 68.9 134.9 67.2 135.8 66.0 136.7 64.8 135.8 64.5 134.9 64.2 133.6 64.7 132.4 65.2 131.7 66.1 131.0 67.1 130.4 68.3 129.8 69.4 130.0 70.7 130.2 72.0 129.8 73.8 129.4 75.7Z M136.9 64.6 137.9 64.4 138.9 64.2 139.9 63.9 141.2 63.6 142.4 63.3 143.7 63.0 145.0 63.2 146.3 63.4 147.4 64.1 148.5 64.9 149.3 66.3 150.0 67.6 148.7 67.7 147.4 67.7 146.5 66.9 145.6 66.0 145.5 67.9 145.3 69.8 145.4 71.1 145.5 72.4 144.8 73.4 144.1 74.4 143.8 73.3 143.5 72.2 142.4 71.6 141.3 71.0 140.9 69.4 140.6 67.8 139.4 66.7 138.2 65.7 136.9 64.6Z M141.9 79.5 143.2 79.6 144.5 79.8 145.8 79.9 147.1 79.2 148.4 78.5 149.4 77.8 150.4 77.1 151.4 76.4 152.4 75.0 153.4 73.6 152.4 73.9 151.5 74.2 150.5 74.5 149.2 74.8 147.9 75.2 146.6 75.6 145.7 76.4 144.7 77.3 143.7 78.2 142.8 78.8 141.9 79.5Z M150.8 72.4 151.9 70.9 152.9 70.3 154.0 69.7 155.0 69.1 156.0 68.7 157.0 68.3 158.0 68.0 158.9 67.6 159.4 68.8 159.9 70.0 158.8 70.6 157.7 71.1 156.5 71.6 155.2 71.8 153.9 72.1 152.6 72.3 151.7 72.3 150.8 72.4Z M106.6 49.0 107.6 47.2 108.5 45.4 108.2 44.0 108.0 42.5 107.8 41.0 107.1 39.7 106.5 38.3 105.8 36.9 105.0 36.8 104.1 36.6 103.3 36.4 103.7 38.0 104.2 39.6 104.6 41.2 105.0 42.6 105.3 43.9 105.7 45.3 106.2 47.1 106.6 49.0Z M101.0 43.9 100.8 42.4 100.6 40.9 100.3 39.4 100.0 37.9 99.1 38.6 99.3 39.9 99.5 41.2 99.8 42.5 100.1 43.8 101.0 43.9Z M103.5 49.5 103.2 48.0 102.8 46.6 102.1 45.2 101.5 43.9 101.5 45.0 101.5 46.1 102.1 47.6 102.6 49.1 103.5 49.5Z" fill="none" stroke="#4d4d4d" stroke-width="2.9" stroke-linejoin="round"/><path d="M74.1 5.0 74.7 5.3 75.4 5.6 76.1 5.9 76.7 6.2 77.6 6.3 78.5 6.4 79.3 6.6 80.2 6.7 81.1 6.7 82.0 6.6 82.9 6.6 83.9 6.5 84.9 6.2 85.9 5.8 86.9 5.5 87.8 5.1 88.8 4.7 89.4 3.4 89.9 2.1 89.1 2.1 88.4 2.1 87.6 2.1 86.9 2.1 86.1 2.0 85.3 2.1 84.4 2.2 83.5 2.2 82.6 2.3 81.7 2.3 80.8 2.3 79.9 2.4 79.0 2.4 78.1 2.6 77.1 2.8 76.2 3.0 75.2 3.1 74.6 4.1 74.1 5.0Z M80.7 15.6 81.6 15.6 82.4 15.6 83.3 15.5 84.2 15.5 85.0 15.5 86.0 15.5 86.9 15.5 87.9 15.5 88.8 15.5 89.8 15.5 90.8 15.5 91.4 14.1 90.6 14.0 89.8 13.9 89.0 13.7 88.2 13.6 87.4 13.4 86.5 13.3 85.6 13.4 84.6 13.6 83.6 13.7 82.6 13.9 81.6 14.0 80.7 15.6Z M96.1 25.6 97.0 24.9 97.9 24.1 98.7 23.4 99.0 22.0 99.3 20.6 98.5 20.5 97.7 20.4 97.0 21.7 96.3 23.1 96.2 24.3 96.1 25.6Z M95.0 20.4 95.9 19.8 96.8 19.2 97.0 17.8 96.3 18.3 95.7 18.7 95.0 20.4Z M111.2 53.5 112.5 51.7 111.5 52.1 111.2 53.5Z M62.0 74.5 62.8 75.1 63.6 75.7 62.7 77.4 61.7 75.6 62.0 74.5Z M154.5 131.7 155.8 131.9 155.2 132.7 154.5 131.7Z M165.8 63.1 166.4 64.9 166.9 66.6 166.2 64.9 165.8 63.1Z M39.1 0.3 39.9 0.6 40.6 0.8 41.4 1.1 42.1 1.3 41.8 3.1 41.5 4.9 41.2 6.7 40.9 8.7 40.7 10.7 40.8 12.1 40.8 13.5 40.9 15.0 40.1 14.7 39.4 14.4 38.6 14.1 38.5 12.7 38.5 11.2 38.5 9.8 38.5 8.4 38.6 7.0 38.7 5.7 38.6 4.5 38.5 3.3 38.5 2.1 39.1 0.3Z" fill="#4d4d4d" stroke="#4d4d4d" stroke-width="2.4" stroke-linejoin="round"/><path d="M46.1 40.9 47.1 41.3 48.2 41.7 49.2 42.1 50.2 42.5 51.3 42.8 52.3 43.2 53.4 43.6 54.4 44.0 55.5 44.3 56.6 44.7 57.6 45.0 58.7 45.4 59.8 45.7 60.9 46.0 62.0 46.3 63.1 46.7 64.2 47.0 65.3 47.3 66.4 47.6 67.5 47.8 68.6 48.1 69.7 48.4 70.8 48.7 72.0 48.9 73.1 49.2 74.2 49.4 75.4 49.7 76.5 49.9 77.7 50.2 78.8 50.4 80.0 50.6 81.2 50.8 82.3 51.0 83.5 51.2 84.7 51.4 85.8 51.6 87.0 51.8 88.2 52.0 89.4 52.1 90.6 52.3 91.8 52.4 92.9 52.6 94.1 52.7 95.3 52.9 96.5 53.0 97.7 53.1 98.9 53.2 100.1 53.3 101.2 53.4 102.4 53.5 103.6 53.6 104.7 53.6 105.9 53.7 107.1 53.8 108.2 53.8 109.4 53.9 110.6 53.9 110.6 52.5 111.5 52.8 111.7 53.9 111.9 55.0 112.9 55.1 113.8 55.2 114.8 55.4 115.8 55.5 117.0 56.1 118.2 56.7 119.4 57.3 120.7 57.3 121.9 57.2 123.1 57.2 124.1 57.5 M137.0 62.2 138.3 63.2 139.1 63.7 140.0 64.1 M144.1 74.4 144.0 76.3 143.3 77.2 142.6 78.1 M153.1 73.5 152.7 72.3 M158.9 67.6 159.9 66.3 160.8 65.0 161.7 64.4 162.6 63.8 163.7 63.6 164.9 63.3 166.0 63.1 167.1 62.8 168.2 62.5 169.3 62.3 170.5 62.0 171.1 60.6 171.8 60.1 172.5 58.0 172.4 56.5 172.4 55.0 172.9 53.4 173.4 51.8 174.5 51.7 175.6 51.5 177.0 52.1 177.5 53.7 178.0 55.3 178.6 57.0 179.6 57.0 180.4 57.9 181.2 58.8 M42.9 103.5 44.3 103.8 45.7 104.1 47.1 104.4 48.5 104.6 49.9 104.9 49.5 105.6 50.7 106.5 52.0 107.3 53.2 108.2 54.5 109.1 55.8 109.9 57.0 110.8 58.3 111.6 59.6 112.5 61.0 112.8 62.5 113.1 63.9 113.4 65.4 113.7 66.8 114.0 68.2 114.2 68.5 112.6 69.8 112.9 71.0 113.1 72.3 113.3 73.6 113.6 75.0 115.1 76.4 116.6 77.7 118.1 78.3 120.0 78.9 121.9 80.1 123.0 81.3 124.0 82.4 125.0 83.8 123.7 85.2 122.4 86.4 122.5 87.5 122.7 88.7 122.8 89.7 124.7 90.8 126.6 91.8 128.5 93.0 130.0 94.2 131.6 94.6 132.9 94.9 134.2 95.3 135.6 96.7 136.2 98.2 136.8 99.3 137.1 100.5 137.3 101.6 137.6 M40.7 49.6 41.5 50.1 42.4 50.7 43.1 52.1 43.8 53.4 45.0 53.8 46.2 54.1 47.2 54.2 48.2 54.4 49.3 54.5 50.3 54.6 51.0 54.6 51.6 54.7 52.6 55.0 53.5 55.3 54.5 55.6 55.4 55.9 56.4 56.2 M59.5 45.6 59.0 47.1 58.5 48.6 58.0 50.1 57.5 51.7 57.0 53.2 56.6 54.7 56.4 56.2 56.8 58.2 56.2 59.2 55.5 60.1 54.7 61.1 53.9 62.0 54.1 63.9 53.8 63.9 53.3 65.4 52.8 67.0 52.4 68.6 51.9 70.2 M34.6 64.0 35.7 64.5 36.9 64.9 38.0 65.4 39.2 65.8 40.3 66.3 41.5 66.7 42.7 67.1 43.9 67.5 45.0 68.0 46.2 68.4 47.4 68.8 48.6 69.2 49.8 69.6 51.0 69.9 52.2 70.3 53.4 70.7 54.7 71.0 55.9 71.4 57.1 71.7 58.4 72.1 59.6 72.4 60.8 72.7 62.1 73.0 63.3 73.4 64.6 73.7 65.9 74.0 67.1 74.2 M44.6 67.8 44.0 69.6 43.5 71.3 42.9 73.1 42.4 74.8 41.8 76.6 41.3 78.3 42.1 80.0 43.0 81.7 43.9 83.4 44.9 85.1 45.8 86.8 46.8 88.5 47.8 90.2 48.8 91.9 49.8 93.5 50.8 95.2 51.9 96.9 51.9 98.2 52.0 99.5 51.4 101.0 50.7 102.6 50.3 103.7 49.9 104.9 M59.4 72.4 59.0 74.1 58.5 75.8 58.1 77.5 57.7 79.3 57.3 81.0 56.9 82.7 56.4 84.4 56.0 86.1 55.6 87.9 55.2 89.6 54.9 91.3 54.5 93.0 53.5 93.2 52.5 93.3 52.2 95.1 51.9 96.9 M55.1 90.2 56.5 90.5 57.9 90.9 59.2 91.2 60.6 91.6 62.0 91.9 63.4 92.2 64.8 92.5 66.2 92.8 67.6 93.1 69.0 93.4 70.4 93.7 71.8 94.0 73.3 94.2 74.7 94.5 76.1 94.7 77.5 95.0 79.0 95.2 80.4 95.4 81.8 95.6 83.3 95.8 84.7 96.0 86.2 96.2 87.6 96.4 89.1 96.5 90.5 96.7 91.9 96.8 93.4 97.0 94.8 97.1 96.3 97.2 97.7 97.4 99.2 97.5 100.6 97.6 102.1 97.7 103.5 97.7 105.0 97.8 106.4 97.9 107.9 97.9 109.3 98.0 110.8 98.0 M61.7 46.2 61.3 47.4 60.9 48.6 60.6 49.8 60.8 51.7 61.4 52.9 61.9 54.0 62.5 54.9 63.0 55.8 62.6 57.0 62.2 58.2 61.8 59.5 62.6 59.6 63.4 59.7 63.5 60.9 63.6 62.0 64.3 64.1 65.5 64.6 66.5 64.5 67.4 64.4 68.4 64.3 69.1 65.3 M69.5 63.5 69.1 65.3 68.7 67.1 68.3 68.9 67.9 70.7 67.5 72.4 67.1 74.2 66.7 76.0 66.3 77.8 67.7 78.1 69.0 78.4 70.3 78.7 71.6 79.0 71.3 80.7 71.0 82.5 70.7 84.2 70.3 86.0 70.0 87.7 69.7 89.4 69.4 91.2 69.1 92.9 68.8 94.7 68.5 96.4 68.2 98.2 67.9 99.9 67.6 101.6 67.3 103.4 67.0 105.1 66.8 106.8 66.5 108.6 66.2 110.3 65.9 112.0 65.7 113.7 M69.5 63.5 70.8 63.7 72.0 64.0 73.2 64.3 74.5 64.5 75.7 64.8 77.0 65.0 78.3 65.2 79.5 65.5 80.8 65.7 82.0 65.9 83.3 66.1 84.6 66.3 85.8 66.5 87.1 66.6 M71.6 79.0 73.0 79.2 74.3 79.5 75.7 79.7 77.0 80.0 78.3 80.2 79.7 80.4 81.0 80.6 82.4 80.8 83.8 81.0 85.1 81.2 M89.3 52.1 89.0 53.9 88.7 55.7 88.4 57.6 88.2 59.4 87.9 61.2 87.6 63.0 87.4 64.8 87.1 66.6 86.9 68.5 86.6 70.3 86.4 72.1 86.1 73.9 85.9 75.8 85.6 77.6 85.4 79.4 85.1 81.2 86.5 81.4 87.8 81.6 89.2 81.8 90.6 81.9 90.4 83.7 90.2 85.6 90.0 87.4 89.8 89.2 89.6 91.1 89.4 92.9 89.2 94.7 89.1 96.5 M87.6 63.2 88.9 63.4 90.1 63.6 91.4 63.7 92.6 63.9 93.9 64.0 95.2 64.1 96.4 64.2 97.7 64.4 99.0 64.5 100.2 64.6 101.5 64.7 102.8 64.8 104.1 64.8 105.3 64.9 106.6 65.0 M105.6 53.7 105.8 55.4 106.0 57.1 106.2 58.8 106.3 60.2 106.5 61.6 106.6 62.9 106.6 63.9 106.6 65.0 106.7 66.2 106.8 67.3 106.7 69.0 106.6 70.6 106.5 72.3 106.5 73.9 106.2 75.8 105.9 77.6 M86.1 73.9 87.3 74.1 88.5 74.3 89.8 74.4 91.0 74.6 92.2 74.7 93.5 74.8 94.7 74.9 95.9 75.1 97.2 75.2 98.4 75.3 99.6 75.4 100.9 75.5 102.2 75.8 103.5 76.2 104.7 76.9 105.9 77.6 106.5 78.9 107.1 80.2 107.4 81.4 107.6 82.5 107.7 83.6 107.9 84.8 108.5 85.9 109.1 86.9 110.2 88.8 111.0 90.3 111.0 91.9 110.9 93.5 110.9 95.1 110.8 96.7 110.8 98.3 110.7 99.9 110.9 101.2 111.1 102.5 111.2 103.9 111.1 105.5 111.1 107.1 111.0 108.7 110.9 110.3 M90.2 85.6 91.5 85.7 92.9 85.9 94.2 86.0 95.6 86.1 96.9 86.2 98.3 86.3 99.6 86.5 101.0 86.5 102.3 86.6 103.7 86.7 105.0 86.8 106.4 86.8 107.7 86.9 109.1 86.9 M86.3 96.2 86.1 98.0 85.9 99.8 85.7 101.7 85.5 103.5 85.3 105.3 85.1 107.1 84.8 108.9 84.6 110.7 84.4 112.5 84.3 114.3 82.9 114.1 81.5 113.9 80.2 113.8 78.8 113.6 77.5 113.4 76.1 113.2 74.8 112.9 73.4 112.7 73.6 113.6 M86.1 98.0 87.6 98.2 89.0 98.4 90.5 98.5 91.9 98.7 93.4 98.8 94.9 99.0 94.7 100.7 94.6 102.5 94.5 104.3 94.3 106.0 95.8 106.7 97.3 107.3 98.8 107.9 100.2 108.5 101.7 109.0 103.3 109.4 104.8 109.3 106.3 109.2 107.8 109.3 109.4 109.3 110.2 109.8 110.9 110.3 112.3 110.7 112.3 112.1 112.2 113.5 112.2 114.9 112.2 116.3 112.7 118.1 113.2 119.9 113.1 121.5 112.9 123.0 112.7 124.6 M106.5 73.9 107.7 74.0 109.0 74.1 110.3 74.1 111.5 74.1 112.8 74.2 114.1 74.2 115.3 74.2 116.6 74.2 117.9 74.2 119.1 74.2 120.4 74.2 M107.9 84.8 109.2 84.8 110.6 84.8 111.9 84.9 113.3 84.9 114.6 84.9 116.0 84.9 117.4 84.9 118.7 84.9 120.1 84.8 120.1 85.7 M120.4 74.2 120.8 76.0 121.5 77.1 122.2 78.2 122.7 79.3 123.3 80.4 122.4 81.5 121.4 82.6 120.9 84.5 120.1 85.7 119.8 87.1 121.0 88.5 122.1 90.0 122.9 91.0 123.6 92.1 124.4 93.4 125.1 94.7 125.5 95.7 125.8 96.8 126.9 98.0 125.9 99.8 125.3 101.6 124.8 103.3 124.2 104.9 123.5 106.2 122.8 107.5 122.3 109.2 121.7 111.0 121.2 112.7 120.8 114.1 120.4 115.6 120.2 116.8 120.0 118.0 119.9 119.2 119.8 119.9 121.3 119.9 122.8 119.9 124.3 119.8 125.8 119.8 126.0 121.2 126.2 122.7 M117.7 62.4 117.6 63.5 117.5 64.6 116.9 65.7 116.2 66.8 116.5 68.3 116.7 69.8 117.9 71.2 119.2 72.7 120.4 74.2 M110.7 99.9 112.2 99.9 113.7 99.9 115.1 99.9 116.6 99.9 118.1 99.9 119.6 99.9 121.0 99.9 122.5 99.9 124.0 99.8 123.7 100.8 123.4 101.7 124.4 101.7 125.3 101.6 M112.3 112.7 113.7 112.7 115.2 112.7 116.7 112.7 118.2 112.7 119.7 112.7 121.2 112.7 M130.0 105.1 129.9 106.7 129.9 108.3 129.8 109.9 129.8 111.5 129.8 113.2 129.7 114.8 129.7 116.4 129.8 118.2 129.9 120.0 130.0 121.8 M123.9 105.3 125.3 105.3 126.7 105.2 128.1 105.2 129.5 105.1 130.9 105.0 132.3 105.0 133.6 104.9 135.0 104.8 136.4 104.7 137.8 104.6 139.3 104.4 140.8 104.3 142.3 104.2 143.7 104.0 145.2 103.8 M137.8 104.6 138.1 106.1 138.5 107.6 138.8 109.1 139.2 110.6 139.5 112.1 139.9 113.7 140.4 115.3 140.5 117.1 140.6 118.9 139.1 119.0 137.5 119.2 135.9 119.3 134.3 119.4 132.8 119.5 132.8 120.7 132.9 122.0 M140.6 118.9 141.1 119.9 142.5 119.9 143.9 119.8 145.3 119.7 146.7 119.6 148.1 119.5 149.5 119.4 150.0 118.6 151.6 118.8 M145.2 103.8 146.3 105.4 147.4 107.0 148.4 108.6 149.8 110.2 151.2 111.9 152.6 113.5 M125.9 99.8 127.3 99.7 128.8 99.6 130.2 99.5 131.6 99.4 133.1 99.3 134.5 99.2 135.9 99.0 137.4 98.9 138.8 98.8 140.2 98.6 141.7 98.4 143.1 98.3 144.5 98.1 145.9 97.9 147.3 97.7 148.7 97.5 M142.9 98.2 144.3 98.1 145.8 97.9 147.2 97.8 148.6 97.6 150.0 97.4 151.4 97.2 152.8 97.0 154.3 96.8 155.7 96.6 157.1 96.4 158.5 96.2 159.9 96.0 161.3 95.7 162.7 95.5 164.0 95.2 165.4 95.0 M141.7 104.2 142.5 103.2 143.3 102.2 144.5 101.5 145.7 100.8 146.9 100.2 148.1 99.5 148.7 97.5 M145.2 103.8 146.2 103.4 147.2 102.9 148.6 102.8 150.0 102.6 151.4 102.5 152.1 103.7 153.2 103.5 154.3 103.4 155.4 103.2 156.7 104.2 158.0 105.2 159.2 106.1 M126.9 98.0 128.2 97.3 129.6 96.7 130.4 95.5 131.2 94.4 132.7 94.3 134.1 94.2 135.2 93.4 136.3 92.6 137.5 91.5 138.7 90.5 139.8 89.3 141.0 89.8 142.2 90.3 143.4 90.8 144.4 91.0 145.4 91.3 146.2 93.0 147.6 94.3 146.4 95.3 145.3 96.3 144.1 97.2 142.9 98.2 M147.6 94.3 148.7 94.6 149.9 94.8 151.1 94.2 152.4 93.7 153.2 91.9 153.9 90.1 154.8 89.1 155.6 88.0 156.3 87.0 157.0 85.9 157.8 85.9 158.7 86.0 159.7 86.6 160.6 87.1 162.0 88.5 163.4 90.0 M158.7 86.0 157.7 85.6 156.6 85.2 155.7 85.9 154.8 86.5 153.8 87.2 153.7 86.2 153.6 85.3 152.6 85.4 151.6 85.6 150.7 85.7 150.5 84.0 150.2 82.4 150.0 84.0 149.6 85.9 148.6 87.0 147.6 88.1 146.4 89.7 145.4 91.3 M153.6 85.3 154.8 85.1 156.1 84.9 157.4 84.6 158.6 84.4 159.9 84.2 161.1 84.0 162.4 83.7 163.6 83.5 164.0 85.0 164.4 86.5 164.8 88.0 165.7 87.8 166.5 87.6 M164.4 83.0 165.1 82.3 165.8 81.6 164.6 80.0 165.0 78.5 165.4 77.0 166.5 77.4 167.5 77.9 M151.6 77.1 152.9 76.9 154.2 76.7 155.5 76.5 156.8 76.2 158.1 76.0 159.4 75.8 160.7 75.5 161.9 75.3 163.2 75.0 164.0 75.6 165.4 77.0 M150.2 82.4 150.0 80.7 149.8 79.1 149.6 77.5 M168.4 77.6 168.3 76.3 168.1 75.0 168.0 73.8 168.0 72.4 168.1 71.1 167.6 69.5 167.2 67.9 166.7 66.3 166.3 64.7 165.8 63.1 M168.0 73.8 169.1 73.5 170.2 73.3 171.3 73.1 172.4 72.9 172.7 74.1 173.0 75.4 M173.5 72.5 174.1 73.4 174.6 74.2 M168.1 71.1 169.3 70.7 170.5 70.3 171.7 69.9 173.0 69.5 174.2 69.1 M170.0 70.7 170.0 69.2 169.9 67.7 169.9 66.3 169.9 64.8 170.2 63.4 170.5 62.0 M174.2 68.2 173.6 66.9 173.0 65.5 172.3 64.1 171.7 62.4 171.1 60.6 M130.6 80.4 130.7 82.1 130.8 83.9 130.9 85.6 131.0 87.3 131.1 89.0 131.1 90.8 131.1 92.5 130.6 93.7 130.1 94.8 M138.1 79.9 138.2 81.4 138.3 83.0 138.5 84.6 138.6 86.2 138.7 87.8 138.9 89.4 M132.6 80.1 133.9 80.0 135.2 79.9 136.5 79.8 137.8 79.7 139.1 79.6 140.5 79.5 141.8 79.4 M122.0 77.8 123.3 77.8 124.6 77.7 125.9 77.7 127.2 77.6 128.5 77.6 129.7 77.5 M122.3 62.8 123.4 63.4 124.5 63.9 125.7 64.4 127.0 64.8 128.3 65.1 129.0 66.5 129.7 67.9" fill="none" stroke="#4d4d4d" stroke-width="2.1" stroke-linejoin="round"/></g>
</defs>
<text x="843.5" y="50.5" font-size="66" textLength="130" lengthAdjust="spacingAndGlyphs">FMA</text>
<text x="1059" y="50.5" font-size="66" textLength="314" lengthAdjust="spacingAndGlyphs">Days 1 to 7</text>
<g transform="translate(7.47,120.40)"><g clip-path="url(#cp)"><path d="M64.3 86.7 77.0 88.6 77.0 98.1 86.0 98.5 86.5 108.9 105.9 109.9 105.9 101.4 120.1 101.4 120.1 119.3 112.5 120.3 112.5 126.9 87.9 126.9 87.9 143.6 59.5 143.6 59.5 115.6 61.4 98.5Z" fill="#a0d2ff"/><path d="M71.8 126.0 79.4 126.0 79.4 143.6 64.3 143.6 64.3 132.6 71.8 132.6Z" fill="#00c0f8"/><path d="M46.8 137.3 56.7 136.4 56.7 143.6 46.8 143.6Z" fill="#a0d2ff"/><path d="M37.8 0.7 50.9 0.7 50.9 15.5 55.8 17.7 54.3 32.9 43.1 30.4 43.1 17.7 32.5 14.5Z" fill="#ffe032"/><path d="M-0.4 72.7 4.9 72.7 4.9 82.3 7.1 83.3 7.1 98.2 -0.4 98.2Z" fill="#ffe032"/><path d="M173.3 146.9 194.5 137.3 215.7 128.9 234.8 120.4 234.8 146.9Z" fill="#ffffc8"/><path d="M-0.4 138.4 14.5 140.9 14.5 146.9 -0.4 146.9Z" fill="#d2f5ff"/><path d="M56.8 1.8C58.6 2.3 62.5 3.9 67.4 5.0C72.4 6.0 80.5 7.4 86.5 8.1C92.5 8.8 98.5 9.4 103.4 9.2C108.4 9.0 112.6 8.3 116.2 7.1C119.7 5.8 123.2 2.7 124.6 1.8" fill="none" stroke="#ff0000" stroke-width="2.5" stroke-linejoin="round" stroke-linecap="round"/><path d="M-0.4 85.4C0.6 85.9 4.6 85.9 5.6 88.0C6.6 90.0 6.6 95.9 5.6 97.7C4.6 99.6 0.6 99.0 -0.4 99.2" fill="none" stroke="#ff0000" stroke-width="2.5" stroke-linejoin="round" stroke-linecap="round"/><path d="M3.9 1.8C4.2 3.7 5.8 9.4 6.0 13.4C6.2 17.5 6.0 23.0 4.9 26.1C3.9 29.3 0.5 31.4 -0.4 32.5" fill="none" stroke="#0000ff" stroke-width="2.5" stroke-linejoin="round" stroke-linecap="round"/><path d="M183.9 1.8C183.2 4.1 180.8 11.5 179.7 15.5C178.6 19.6 178.6 21.9 177.6 26.1C176.5 30.4 175.8 37.1 173.3 41.0C170.9 44.8 167.3 47.3 162.8 49.4C158.2 51.6 152.5 52.6 145.8 53.7C139.1 54.7 128.2 54.4 122.5 55.8C116.9 57.2 114.7 59.0 111.9 62.1C109.1 65.3 108.7 71.3 105.6 74.9C102.4 78.4 97.1 80.5 92.9 83.3C88.6 86.2 84.0 88.3 80.1 91.8C76.3 95.3 71.7 99.6 69.6 104.5C67.4 109.5 66.4 116.9 67.4 121.5C68.5 126.0 71.0 129.4 75.9 132.1C80.8 134.7 89.0 137.0 97.1 137.3C105.2 137.7 115.8 136.5 124.6 134.2C133.5 131.9 143.0 128.2 150.0 123.6C157.1 119.0 161.7 111.9 167.0 106.6C172.3 101.3 176.5 95.7 181.8 91.8C187.1 87.9 193.1 85.4 198.8 83.3C204.4 81.2 209.7 81.4 215.7 79.1C221.7 76.8 231.6 71.2 234.8 69.6" fill="none" stroke="#0000ff" stroke-width="2.5" stroke-linejoin="round" stroke-linecap="round"/><path d="M222.1 19.8C224.5 20.1 229.0 23.3 230.5 26.1C232.1 29.0 232.3 33.6 231.6 36.7C230.9 39.9 228.6 43.1 226.3 45.2C224.0 47.3 220.5 49.4 217.8 49.4C215.2 49.4 211.7 47.7 210.4 45.2C209.2 42.7 209.5 38.1 210.4 34.6C211.3 31.1 213.8 26.5 215.7 24.0C217.7 21.5 219.6 19.4 222.1 19.8Z" fill="none" stroke="#0000ff" stroke-width="2.5" stroke-linejoin="round" stroke-linecap="round"/><use href="#bm"/></g><rect x="0" y="0" width="234.5" height="144.7" fill="none" stroke="#000" stroke-width="4.7" stroke-linejoin="round"/><text x="-1.68" y="-4.56" font-size="19.5" textLength="132.5" lengthAdjust="spacingAndGlyphs">Phase 1, MVP+</text><text x="153.3" y="-2.28" font-size="19.5" textLength="82.4" lengthAdjust="spacingAndGlyphs">21 events</text></g>
<g transform="translate(288.69,120.40)"><g clip-path="url(#cp)"><path d="M44.3 16.0 52.8 15.1 55.6 22.3 47.7 24.4Z" fill="#ffaa00"/><path d="M54.1 30.0 65.1 28.7 66.4 37.2 56.6 38.8Z" fill="#ffaa00"/><path d="M42.2 0.7 48.1 0.7 47.7 7.5 43.5 8.1Z" fill="#ffaa00"/><path d="M-0.6 10.3C1.2 10.4 6.8 10.4 10.0 11.3C13.2 12.2 16.2 13.1 18.5 15.5C20.8 18.0 22.7 22.3 23.8 26.1C24.8 30.0 25.4 34.6 24.8 38.8C24.3 43.1 22.7 49.0 20.6 51.6C18.5 54.1 15.7 54.3 12.1 54.1C8.6 53.9 1.5 51.1 -0.6 50.5" fill="none" stroke="#0000ff" stroke-width="2.5" stroke-linejoin="round" stroke-linecap="round"/><path d="M38.6 0.7C39.3 5.0 41.3 18.7 42.9 26.1C44.4 33.6 46.4 39.2 48.1 45.2C49.9 51.2 51.3 56.9 53.4 62.1C55.6 67.4 57.9 72.4 60.9 77.0C63.9 81.6 67.9 85.1 71.4 89.7C75.0 94.3 79.2 100.6 82.0 104.5C84.9 108.4 88.0 111.3 88.4 113.0C88.7 114.6 86.3 114.8 84.2 114.5C82.0 114.1 79.6 112.9 75.7 110.9C71.8 108.9 65.8 105.2 60.9 102.4C55.9 99.6 51.3 97.1 46.0 93.9C40.7 90.7 34.4 86.3 29.1 83.3C23.8 80.3 19.2 78.6 14.3 75.9C9.3 73.3 1.9 68.9 -0.6 67.4" fill="none" stroke="#0000ff" stroke-width="2.5" stroke-linejoin="round" stroke-linecap="round"/><path d="M111.7 0.7C114.5 2.3 122.3 7.1 128.6 10.3C135.0 13.4 142.8 16.8 149.8 19.8C156.9 22.8 163.9 25.1 171.0 28.3C178.1 31.4 185.8 35.7 192.2 38.8C198.5 42.0 202.1 43.8 209.1 47.3C216.2 50.9 230.3 57.9 234.6 60.0" fill="none" stroke="#0000ff" stroke-width="2.5" stroke-linejoin="round" stroke-linecap="round"/><path d="M145.6 0.7C151.9 3.5 173.1 12.9 183.7 17.7C194.3 22.4 200.7 25.7 209.1 29.3C217.6 32.9 230.3 37.6 234.6 39.3" fill="none" stroke="#0000ff" stroke-width="2.5" stroke-linejoin="round" stroke-linecap="round"/><path d="M164.7 3.3C166.8 3.8 171.7 5.7 177.4 6.6C183.0 7.6 191.5 8.5 198.5 8.8C205.6 9.0 215.1 8.7 219.7 8.1C224.3 7.6 224.7 6.6 226.1 5.4C227.4 4.1 227.5 1.5 227.8 0.7" fill="none" stroke="#0000ff" stroke-width="2.5" stroke-linejoin="round" stroke-linecap="round"/><path d="M-0.6 95.0C0.8 96.6 5.6 101.5 7.9 104.5C10.2 107.5 12.1 110.2 13.2 113.0C14.3 115.8 14.8 119.3 14.3 121.5C13.7 123.6 12.5 124.1 10.0 125.7C7.5 127.3 1.2 130.1 -0.6 131.0" fill="none" stroke="#ff0000" stroke-width="2.5" stroke-linejoin="round" stroke-linecap="round"/><use href="#bm"/></g><rect x="0" y="0" width="234.5" height="144.7" fill="none" stroke="#000" stroke-width="4.7" stroke-linejoin="round"/><text x="-1.68" y="-4.56" font-size="19.5" textLength="132.5" lengthAdjust="spacingAndGlyphs">Phase 2, MVP+</text><text x="153.3" y="-2.28" font-size="19.5" textLength="82.4" lengthAdjust="spacingAndGlyphs">14 events</text></g>
<g transform="translate(569.91,120.40)"><g clip-path="url(#cp)"><path d="M0.2 87.6 6.6 85.4 25.6 91.8 40.5 91.8 65.9 100.3 68.0 113.0 73.3 117.2 73.3 123.6 63.8 125.7 61.6 134.2 48.9 138.4 29.9 140.5 8.7 134.2 6.6 125.7 0.2 123.6Z" fill="#ffe032"/><path d="M42.6 96.0 51.0 95.0 53.6 107.7 44.7 108.8Z" fill="#ffaa00"/><path d="M83.9 36.7 108.2 37.8 109.3 51.6 114.2 61.1 96.0 63.2 87.1 53.7Z" fill="#ffaa00"/><path d="M77.5 25.1 93.4 25.7 97.6 36.7 106.1 37.8 108.2 50.5 98.7 51.6 95.5 49.4 86.0 50.5 82.8 38.8 77.5 33.6Z" fill="#ff7000"/><path d="M171.8 0.7 214.2 0.7 212.0 17.7 204.6 26.1 197.2 24.0 182.4 23.0 171.8 17.7Z" fill="#00c0f8"/><path d="M146.4 0.7 209.9 0.7 201.4 13.4 188.7 19.8 176.0 17.7 159.1 9.2Z" fill="#1e90ff"/><path d="M104.0 136.7 129.4 136.7 129.4 146.9 104.0 146.9Z" fill="#a0d2ff"/><path d="M0.2 32.1C2.0 30.7 7.6 26.8 10.8 24.0C14.0 21.3 16.8 18.4 19.3 15.5C21.7 12.7 23.9 9.5 25.6 7.1C27.3 4.6 28.8 1.8 29.4 0.7" fill="none" stroke="#0000ff" stroke-width="2.5" stroke-linejoin="round" stroke-linecap="round"/><path d="M123.1 0.7C124.8 2.8 129.8 9.9 133.7 13.4C137.5 17.0 141.4 20.0 146.4 21.9C151.3 23.8 157.7 24.9 163.3 25.1C169.0 25.3 174.6 24.5 180.3 23.0C185.9 21.4 192.3 18.2 197.2 15.5C202.2 12.9 206.4 9.5 209.9 7.1C213.4 4.6 217.0 1.8 218.4 0.7" fill="none" stroke="#0000ff" stroke-width="2.5" stroke-linejoin="round" stroke-linecap="round"/><path d="M144.3 0.7C146.7 1.6 153.8 4.6 159.1 6.0C164.4 7.4 170.4 9.0 176.0 9.2C181.7 9.4 188.6 8.5 193.0 7.1C197.4 5.7 200.9 1.8 202.5 0.7" fill="none" stroke="#0000ff" stroke-width="2.5" stroke-linejoin="round" stroke-linecap="round"/><path d="M0.2 109.2C3.7 108.9 14.7 107.1 21.4 107.7C28.1 108.3 35.3 112.1 40.5 113.0C45.6 113.9 48.9 114.4 52.1 113.0C55.3 111.6 56.9 108.0 59.5 104.5C62.2 101.0 65.2 96.0 68.0 91.8C70.8 87.6 74.5 83.7 76.5 79.1C78.4 74.5 79.3 68.9 79.6 64.3C80.0 59.7 79.8 54.6 78.6 51.6C77.3 48.6 75.4 47.6 72.2 46.3C69.1 44.9 63.4 43.9 59.5 43.5C55.6 43.2 52.1 42.8 48.9 44.1C45.8 45.5 43.3 48.2 40.5 51.6C37.6 54.9 35.2 59.3 32.0 64.3C28.8 69.2 24.9 76.3 21.4 81.2C17.9 86.2 14.3 90.6 10.8 93.9C7.3 97.3 2.0 100.1 0.2 101.3" fill="none" stroke="#ff0000" stroke-width="2.5" stroke-linejoin="round" stroke-linecap="round"/><path d="M82.8 38.8C84.4 36.6 87.8 32.0 91.3 30.4C94.8 28.8 99.8 27.9 104.0 29.3C108.2 30.7 113.5 35.5 116.7 38.8C119.9 42.2 122.4 45.9 123.1 49.4C123.8 53.0 123.1 58.3 120.9 60.0C118.8 61.8 114.2 60.7 110.4 60.0C106.5 59.3 101.5 57.2 97.6 55.8C93.8 54.4 89.7 53.5 87.1 51.6C84.4 49.6 82.5 46.3 81.8 44.1C81.1 42.0 81.2 41.1 82.8 38.8Z" fill="none" stroke="#ff0000" stroke-width="2.5" stroke-linejoin="round" stroke-linecap="round"/><path d="M235.3 46.3C232.5 46.8 223.3 47.1 218.4 49.4C213.4 51.7 208.5 56.1 205.7 60.0C202.9 63.9 201.1 68.9 201.4 72.7C201.8 76.6 205.0 81.2 207.8 83.3C210.6 85.4 213.8 86.5 218.4 85.4C223.0 84.4 232.5 78.4 235.3 77.0" fill="none" stroke="#ff0000" stroke-width="2.5" stroke-linejoin="round" stroke-linecap="round"/><use href="#bm"/></g><rect x="0" y="0" width="234.5" height="144.7" fill="none" stroke="#000" stroke-width="4.7" stroke-linejoin="round"/><text x="-1.68" y="-4.56" font-size="19.5" textLength="132.5" lengthAdjust="spacingAndGlyphs">Phase 3, MVP+</text><text x="153.3" y="-2.28" font-size="19.5" textLength="82.4" lengthAdjust="spacingAndGlyphs">17 events</text></g>
<g transform="translate(851.13,120.40)"><g clip-path="url(#cp)"><path d="M-0.0 72.7 4.2 72.7 4.2 83.3 11.6 86.5 12.7 96.0 15.9 100.3 16.9 108.8 20.1 110.9 20.1 117.2 10.6 123.6 -0.0 123.6Z" fill="#ffe032"/><path d="M41.3 62.1 47.6 61.1 52.9 66.4 52.9 72.7 45.5 71.7 41.3 67.4Z" fill="#ffe032"/><path d="M227.7 51.6 235.1 49.4 235.1 93.9 218.2 102.4 211.8 104.5 202.3 103.5 202.3 96.0 211.8 91.8 213.9 83.3 220.3 79.1 225.6 66.4 226.6 57.9Z" fill="#ffe032"/><path d="M206.5 106.6 218.2 104.5 219.2 109.8 207.6 112.6Z" fill="#ffffc8"/><path d="M224.5 124.6 235.1 121.5 235.1 131.0 225.6 132.1Z" fill="#d2f5ff"/><path d="M5.3 0.7C5.6 2.5 7.4 7.8 7.4 11.3C7.4 14.8 6.5 18.5 5.3 21.9C4.0 25.3 0.9 29.8 -0.0 31.4" fill="none" stroke="#0000ff" stroke-width="2.5" stroke-linejoin="round" stroke-linecap="round"/><path d="M136.6 0.7C138.2 2.1 142.4 6.7 146.1 9.2C149.9 11.7 154.6 14.7 158.9 15.5C163.1 16.4 166.6 15.5 171.6 14.5C176.5 13.4 182.9 11.0 188.5 9.2C194.2 7.4 201.8 5.3 205.5 3.9C209.2 2.5 209.9 1.2 210.8 0.7" fill="none" stroke="#0000ff" stroke-width="2.5" stroke-linejoin="round" stroke-linecap="round"/><path d="M48.7 60.0C47.8 56.5 48.0 51.2 49.8 47.3C51.5 43.4 55.2 39.9 59.3 36.7C63.4 33.6 69.5 30.0 74.1 28.3C78.7 26.5 82.6 25.8 86.8 26.1C91.1 26.5 96.4 27.2 99.5 30.4C102.7 33.6 105.9 40.4 105.9 45.2C105.9 50.0 102.7 55.4 99.5 59.0C96.4 62.5 92.1 64.4 86.8 66.4C81.5 68.3 73.1 70.3 67.8 70.6C62.5 71.0 58.2 70.3 55.1 68.5C51.9 66.7 49.6 63.6 48.7 60.0Z" fill="none" stroke="#ff0000" stroke-width="2.5" stroke-linejoin="round" stroke-linecap="round"/><use href="#bm"/></g><rect x="0" y="0" width="234.5" height="144.7" fill="none" stroke="#000" stroke-width="4.7" stroke-linejoin="round"/><text x="-1.68" y="-4.56" font-size="19.5" textLength="132.5" lengthAdjust="spacingAndGlyphs">Phase 4, MVP+</text><text x="153.3" y="-2.28" font-size="19.5" textLength="82.4" lengthAdjust="spacingAndGlyphs">19 events</text></g>
<g transform="translate(1132.35,120.40)"><g clip-path="url(#cp)"><path d="M-0.2 30.4 29.4 43.1 32.6 62.1 40.0 64.3 43.2 79.1 50.6 83.3 49.5 98.2 43.2 102.4 39.0 113.0 41.1 125.7 40.0 146.9 -0.2 146.9Z" fill="#ffffc8"/><path d="M-0.2 38.8 14.6 45.2 31.5 55.8 32.6 66.4 43.2 71.7 44.3 81.2 50.6 83.3 50.2 97.1 43.2 100.3 37.9 113.0 40.0 125.7 39.0 139.5 23.1 139.5 10.4 135.2 -0.2 132.1Z" fill="#ffe032"/><path d="M179.8 6.0 201.0 0.7 218.0 0.7 213.7 8.1 197.8 18.7 192.5 13.4 181.9 11.3Z" fill="#a0d2ff"/><path d="M202.1 96.0 218.0 87.6 228.5 85.4 229.6 93.9 225.4 102.4 218.0 105.6 206.3 111.9 202.7 104.5Z" fill="#ffffc8"/><path d="M125.8 0.7C127.4 2.0 132.0 5.3 135.3 8.1C138.7 11.0 140.6 15.4 145.9 17.7C151.2 20.0 160.1 21.2 167.1 21.9C174.2 22.6 181.9 22.6 188.3 21.9C194.6 21.2 199.9 18.9 205.2 17.7C210.5 16.4 215.1 15.0 220.1 14.5C225.0 14.0 232.4 14.5 234.9 14.5" fill="none" stroke="#0000ff" stroke-width="2.5" stroke-linejoin="round" stroke-linecap="round"/><use href="#bm"/></g><rect x="0" y="0" width="234.5" height="144.7" fill="none" stroke="#000" stroke-width="4.7" stroke-linejoin="round"/><text x="-1.68" y="-4.56" font-size="19.5" textLength="132.5" lengthAdjust="spacingAndGlyphs">Phase 5, MVP+</text><text x="153.3" y="-2.28" font-size="19.5" textLength="82.4" lengthAdjust="spacingAndGlyphs">30 events</text></g>
<g transform="translate(1413.57,120.40)"><g clip-path="url(#cp)"><path d="M68.3 23.0 83.2 18.7 91.6 10.3 104.3 9.2 106.5 15.5 123.4 18.7 125.5 26.1 131.9 30.4 134.0 47.3 136.1 62.1 134.0 83.3 135.1 97.1 125.5 98.2 112.8 98.2 112.8 108.8 87.4 109.8 85.3 108.8 74.7 104.5 62.0 100.3 49.3 100.3 47.2 96.0 42.9 87.6 45.0 72.7 54.6 66.4 59.9 64.3 68.3 62.1 72.6 51.6 76.8 43.1 70.5 41.0Z" fill="#ffe032"/><path d="M62.0 66.4 67.3 66.4 67.3 71.7 62.0 71.7Z" fill="#ffffc8"/><path d="M72.6 88.6 76.8 88.6 76.8 92.9 72.6 92.9Z" fill="#ffffc8"/><path d="M69.4 98.2 81.0 98.2 81.0 105.6 69.4 105.6Z" fill="#ffffc8"/><path d="M201.8 60.0 210.3 55.8 223.0 60.0 228.3 72.7 225.1 83.3 201.8 96.0 190.1 87.6 193.3 70.6Z" fill="#d2f5ff"/><path d="M195.4 70.6 201.8 68.5 206.0 55.8 210.3 57.9 223.0 62.1 225.1 70.6 216.6 77.0 208.1 83.3 199.7 85.4 195.4 79.1Z" fill="#a0d2ff"/><path d="M67.7 22.8 83.2 17.1 91.7 9.4 105.8 10.1 105.8 20.0 121.4 20.0 129.9 28.4 129.9 42.6 133.4 56.7 134.1 75.1 134.1 92.0 127.0 96.3 103.0 92.0 91.7 89.2 88.9 77.9 84.7 63.8 81.8 55.3 77.6 44.0 70.5 39.7Z" fill="#ffaa00"/><path d="M83.9 20.7 96.0 17.1 98.8 25.6 112.9 28.4 120.0 36.9 120.0 48.2 115.7 56.7 112.9 72.2 96.0 72.2 91.7 62.4 88.9 48.2 91.7 36.9 83.9 31.3Z" fill="#ff7000"/><path d="M0.5 8.1C1.8 7.4 5.8 5.1 8.0 3.9C10.1 2.7 12.4 1.2 13.3 0.7" fill="none" stroke="#0000ff" stroke-width="2.5" stroke-linejoin="round" stroke-linecap="round"/><path d="M0.5 44.1C3.0 42.9 10.8 39.4 15.4 36.7C20.0 34.1 24.7 31.4 28.1 28.3C31.4 25.1 33.7 21.2 35.5 17.7C37.3 14.1 38.0 9.9 38.7 7.1C39.4 4.2 39.6 1.8 39.7 0.7" fill="none" stroke="#0000ff" stroke-width="2.5" stroke-linejoin="round" stroke-linecap="round"/><path d="M185.9 0.7C187.1 1.2 190.8 3.9 193.3 3.9C195.8 3.9 199.5 1.2 200.7 0.7" fill="none" stroke="#0000ff" stroke-width="2.5" stroke-linejoin="round" stroke-linecap="round"/><path d="M83.2 57.9C82.8 52.6 82.5 45.9 83.2 41.0C83.9 36.0 85.3 32.1 87.4 28.3C89.5 24.4 92.0 20.1 95.9 17.7C99.8 15.2 105.0 14.1 110.7 13.4C116.3 12.7 124.1 12.4 129.8 13.4C135.4 14.5 141.1 16.6 144.6 19.8C148.1 23.0 149.9 27.5 150.9 32.5C152.0 37.4 150.2 43.8 150.9 49.4C151.7 55.1 154.8 61.1 155.2 66.4C155.5 71.7 154.8 77.3 153.1 81.2C151.3 85.1 149.2 87.6 144.6 89.7C140.0 91.8 131.5 93.6 125.5 93.9C119.5 94.3 113.9 93.2 108.6 91.8C103.3 90.4 97.6 88.6 93.8 85.4C89.9 82.3 87.0 77.3 85.3 72.7C83.5 68.1 83.5 63.2 83.2 57.9Z" fill="none" stroke="#ff0000" stroke-width="2.5" stroke-linejoin="round" stroke-linecap="round"/><use href="#bm"/></g><rect x="0" y="0" width="234.5" height="144.7" fill="none" stroke="#000" stroke-width="4.7" stroke-linejoin="round"/><text x="-1.68" y="-4.56" font-size="19.5" textLength="132.5" lengthAdjust="spacingAndGlyphs">Phase 6, MVP+</text><text x="153.3" y="-2.28" font-size="19.5" textLength="82.4" lengthAdjust="spacingAndGlyphs">26 events</text></g>
<g transform="translate(1694.79,120.40)"><g clip-path="url(#cp)"><path d="M16.2 7.1 19.4 0.7 48.0 0.7 46.9 15.5 43.8 19.8 42.7 49.4 34.2 47.3 26.8 43.1 27.9 32.5 23.6 28.3 21.5 15.5 15.2 13.4Z" fill="#ffe032"/><path d="M58.6 86.5 68.1 87.6 69.2 96.0 75.5 98.2 76.2 105.6 61.8 104.5 61.8 98.2 56.5 93.9Z" fill="#ffe032"/><path d="M0.3 16.6C1.7 18.5 6.3 23.8 8.8 28.3C11.3 32.7 13.9 38.1 15.2 43.1C16.4 48.0 16.9 53.3 16.2 57.9C15.5 62.5 13.6 67.3 10.9 70.6C8.3 74.0 2.1 76.8 0.3 78.0" fill="none" stroke="#0000ff" stroke-width="2.5" stroke-linejoin="round" stroke-linecap="round"/><path d="M235.5 5.0C234.4 8.1 231.9 18.7 229.1 24.0C226.3 29.3 222.7 33.2 218.5 36.7C214.3 40.3 207.4 42.4 203.7 45.2C200.0 48.0 197.7 50.5 196.3 53.7C194.9 56.9 194.3 61.1 195.2 64.3C196.1 67.4 198.4 70.4 201.6 72.7C204.7 75.0 210.4 77.3 214.3 78.0C218.2 78.7 221.3 77.9 224.9 77.0C228.4 76.1 233.7 73.4 235.5 72.7" fill="none" stroke="#ff0000" stroke-width="2.5" stroke-linejoin="round" stroke-linecap="round"/><use href="#bm"/></g><rect x="0" y="0" width="234.5" height="144.7" fill="none" stroke="#000" stroke-width="4.7" stroke-linejoin="round"/><text x="-1.68" y="-4.56" font-size="19.5" textLength="132.5" lengthAdjust="spacingAndGlyphs">Phase 7, MVP+</text><text x="153.3" y="-2.28" font-size="19.5" textLength="82.4" lengthAdjust="spacingAndGlyphs">31 events</text></g>
<g transform="translate(1976.01,120.40)"><g clip-path="url(#cp)"><path d="M0.1 41.0 12.8 32.5 14.9 21.9 19.2 11.3 23.4 0.7 67.9 0.7 65.8 19.8 65.8 30.4 61.5 45.2 55.2 60.0 50.9 74.9 48.8 87.6 36.1 93.9 29.8 102.4 19.2 104.5 10.7 110.9 0.1 110.9Z" fill="#ffe032"/><path d="M7.5 26.1 17.1 24.0 16.0 32.5 8.6 33.6Z" fill="#ffffc8"/><path d="M44.6 0.7 67.9 0.7 67.9 17.7 59.4 19.8 59.4 25.1 47.8 25.1 42.5 19.8 43.5 11.3Z" fill="#ffaa00"/><path d="M142.0 0.7 165.3 0.7 159.0 4.5 144.2 4.5Z" fill="#ffaa00"/><path d="M114.5 64.3 123.0 55.8 131.4 55.8 133.6 49.4 180.2 45.2 188.6 44.1 199.2 51.6 201.3 68.5 192.9 79.1 191.8 89.7 173.8 96.0 173.8 104.5 112.4 106.6 107.1 98.2 110.3 83.3 114.1 74.9Z" fill="#a0d2ff"/><path d="M114.5 64.3 125.1 55.8 133.6 54.7 137.8 50.5 167.5 48.4 175.9 45.2 184.4 49.4 192.9 62.1 191.8 70.6 182.3 79.1 180.2 83.3 169.6 85.4 167.5 98.2 137.8 98.2 116.6 96.0 114.1 74.9Z" fill="#00c0f8"/><path d="M57.3 134.2 79.5 134.2 79.5 146.9 57.3 146.9Z" fill="#d2f5ff"/><path d="M188.6 136.3 201.3 127.8 209.8 117.2 222.5 106.6 235.2 101.3 235.2 146.9 188.6 146.9Z" fill="#ffffc8"/><path d="M29.8 0.7C29.1 3.2 27.3 10.3 25.5 15.5C23.8 20.8 20.9 26.8 19.2 32.5C17.4 38.1 16.0 43.4 14.9 49.4C13.9 55.4 12.8 63.6 12.8 68.5C12.8 73.4 12.8 76.3 14.9 79.1C17.1 81.9 21.3 84.7 25.5 85.4C29.8 86.2 36.1 85.1 40.4 83.3C44.6 81.6 47.8 78.7 50.9 74.9C54.1 71.0 56.9 65.0 59.4 60.0C61.9 55.1 63.3 50.1 65.8 45.2C68.2 40.3 71.1 35.3 74.2 30.4C77.4 25.4 80.6 19.3 84.8 15.5C89.1 11.8 94.4 9.7 99.7 8.1C105.0 6.5 110.3 6.4 116.6 6.0C123.0 5.7 131.4 6.2 137.8 6.0C144.2 5.8 149.4 5.8 154.7 5.0C160.0 4.1 167.1 1.4 169.6 0.7" fill="none" stroke="#ff0000" stroke-width="2.5" stroke-linejoin="round" stroke-linecap="round"/><path d="M4.3 0.7C4.2 2.5 4.0 8.3 3.3 11.3C2.6 14.3 0.6 17.5 0.1 18.7" fill="none" stroke="#0000ff" stroke-width="2.5" stroke-linejoin="round" stroke-linecap="round"/><path d="M205.6 0.7C204.2 2.8 200.6 9.9 197.1 13.4C193.6 17.0 190.0 19.8 184.4 21.9C178.7 24.0 169.9 24.9 163.2 26.1C156.5 27.4 150.5 27.9 144.2 29.3C137.8 30.7 130.4 32.3 125.1 34.6C119.8 36.9 115.6 39.9 112.4 43.1C109.2 46.3 107.3 49.4 106.0 53.7C104.8 57.9 104.6 62.9 105.0 68.5C105.3 74.2 107.1 81.6 108.1 87.6C109.2 93.6 110.3 99.6 111.3 104.5C112.4 109.5 112.2 113.7 114.5 117.2C116.8 120.8 119.8 124.1 125.1 125.7C130.4 127.3 139.2 127.1 146.3 126.8C153.3 126.4 161.1 125.5 167.5 123.6C173.8 121.6 179.1 118.6 184.4 115.1C189.7 111.6 194.3 107.7 199.2 102.4C204.2 97.1 209.8 88.6 214.1 83.3C218.3 78.0 221.1 74.7 224.6 70.6C228.2 66.6 233.5 60.9 235.2 59.0" fill="none" stroke="#0000ff" stroke-width="2.5" stroke-linejoin="round" stroke-linecap="round"/><path d="M133.6 48.4C137.6 45.2 144.9 44.3 150.5 43.1C156.2 41.8 161.8 41.5 167.5 41.0C173.1 40.4 178.7 39.6 184.4 39.9C190.0 40.3 197.5 41.1 201.3 43.1C205.2 45.0 207.0 48.0 207.7 51.6C208.4 55.1 207.7 60.0 205.6 64.3C203.5 68.5 199.2 73.1 195.0 77.0C190.8 80.9 184.8 84.7 180.2 87.6C175.6 90.4 172.4 92.7 167.5 93.9C162.5 95.2 155.8 96.0 150.5 95.0C145.2 93.9 139.6 90.9 135.7 87.6C131.8 84.2 128.8 79.1 127.2 74.9C125.6 70.6 125.1 66.6 126.1 62.1C127.2 57.7 129.5 51.6 133.6 48.4Z" fill="none" stroke="#0000ff" stroke-width="2.5" stroke-linejoin="round" stroke-linecap="round"/><use href="#bm"/></g><rect x="0" y="0" width="234.5" height="144.7" fill="none" stroke="#000" stroke-width="4.7" stroke-linejoin="round"/><text x="-1.68" y="-4.56" font-size="19.5" textLength="132.5" lengthAdjust="spacingAndGlyphs">Phase 8, MVP+</text><text x="153.3" y="-2.28" font-size="19.5" textLength="82.4" lengthAdjust="spacingAndGlyphs">26 events</text></g>
<g transform="translate(7.47,300.35)"><g clip-path="url(#cp)"><path d="M61.1 85.5 72.7 69.6 107.7 62.2 150.0 68.6 162.8 77.0 162.8 104.6 154.3 108.8 135.2 116.2 107.7 119.4 92.9 123.6 90.7 125.7 79.1 127.9 79.1 146.9 71.7 146.9 71.7 125.7 65.3 117.3 61.1 108.8Z" fill="#d2f5ff"/><path d="M66.4 83.4 73.8 69.6 88.6 65.4 111.9 64.3 128.9 66.4 152.2 70.7 161.7 79.1 161.7 98.2 154.3 106.7 145.8 113.0 120.4 117.3 92.9 119.4 86.5 121.5 67.4 119.4 66.4 108.8 64.3 96.1Z" fill="#a0d2ff"/><path d="M88.6 79.1 99.2 74.9 116.2 72.8 131.0 71.7 145.8 73.8 150.0 79.1 147.9 91.9 141.6 100.3 124.6 100.3 116.2 104.6 105.6 104.6 99.2 106.7 90.7 104.6 82.3 98.2 78.0 89.7Z" fill="#00c0f8"/><path d="M211.5 130.0 222.1 119.4 234.8 112.0 234.8 125.7 222.1 134.2 212.5 137.4Z" fill="#ffffc8"/><path d="M119.3 0.8C116.7 2.0 108.9 6.1 103.4 8.2C98.0 10.3 91.8 11.9 86.5 13.5C81.2 15.1 76.3 16.5 71.7 17.7C67.1 19.0 62.8 19.1 59.0 20.9C55.1 22.7 51.5 25.3 48.4 28.3C45.2 31.3 42.4 35.4 39.9 38.9C37.4 42.4 35.3 47.0 33.5 49.5C31.8 52.0 31.1 53.7 29.3 53.7C27.5 53.7 24.0 52.3 22.9 49.5C21.9 46.7 22.1 41.4 22.9 36.8C23.8 32.2 26.0 26.2 28.2 22.0C30.5 17.7 34.4 14.9 36.7 11.4C39.1 7.8 41.5 2.5 42.4 0.8" fill="none" stroke="#ff0000" stroke-width="2.5" stroke-linejoin="round" stroke-linecap="round"/><path d="M92.9 87.6C93.2 82.3 96.0 77.4 99.2 72.8C102.4 68.2 107.0 63.4 111.9 60.1C116.9 56.7 123.2 54.1 128.9 52.7C134.5 51.3 139.8 50.4 145.8 51.6C151.8 52.8 159.9 56.5 164.9 60.1C169.8 63.6 173.3 67.8 175.5 72.8C177.6 77.7 178.3 84.4 177.6 89.7C176.9 95.0 174.8 100.5 171.2 104.6C167.7 108.6 162.8 111.8 156.4 114.1C150.0 116.4 140.5 118.2 133.1 118.3C125.7 118.5 117.9 117.4 111.9 115.2C105.9 112.9 100.3 109.2 97.1 104.6C93.9 100.0 92.5 92.9 92.9 87.6Z" fill="none" stroke="#0000ff" stroke-width="2.5" stroke-linejoin="round" stroke-linecap="round"/><use href="#bm"/></g><rect x="0" y="0" width="234.5" height="144.7" fill="none" stroke="#000" stroke-width="4.7" stroke-linejoin="round"/><text x="-1.68" y="-4.56" font-size="19.5" textLength="141.4" lengthAdjust="spacingAndGlyphs">Phase 1, MVP~0</text><text x="153.3" y="-2.28" font-size="19.5" textLength="82.4" lengthAdjust="spacingAndGlyphs">43 events</text></g>
<g transform="translate(288.69,300.35)"><g clip-path="url(#cp)"><path d="M203.8 45.3 208.1 44.2 210.2 49.5 218.7 48.4 220.8 56.9 209.1 62.2 199.6 67.5 196.4 60.1 203.8 54.8 202.8 49.5Z" fill="#ffe032"/><path d="M113.8 121.5 124.4 120.5 137.1 125.7 135.0 127.9 113.8 127.9Z" fill="#d2f5ff"/><use href="#bm"/></g><rect x="0" y="0" width="234.5" height="144.7" fill="none" stroke="#000" stroke-width="4.7" stroke-linejoin="round"/><text x="-1.68" y="-4.56" font-size="19.5" textLength="141.4" lengthAdjust="spacingAndGlyphs">Phase 2, MVP~0</text><text x="153.3" y="-2.28" font-size="19.5" textLength="82.4" lengthAdjust="spacingAndGlyphs">40 events</text></g>
<g transform="translate(569.91,300.35)"><g clip-path="url(#cp)"><path d="M127.3 100.3 133.7 94.0 146.4 89.7 167.6 86.6 169.7 94.0 180.3 95.0 180.3 102.4 173.9 104.6 173.9 113.0 159.1 117.3 146.4 113.0 133.7 108.8 127.3 104.6Z" fill="#d2f5ff"/><path d="M128.4 102.4 135.8 95.0 150.6 89.7 165.4 87.6 166.5 98.2 163.3 104.6 157.0 107.7 146.4 105.6 133.7 104.6Z" fill="#a0d2ff"/><path d="M10.8 118.3 18.2 117.3 19.3 125.7 11.9 126.8Z" fill="#ffffc8"/><path d="M178.1 131.0 193.0 126.8 209.9 131.0 211.0 138.5 201.4 142.7 178.1 146.9Z" fill="#ffffc8"/><path d="M34.1 0.8C34.3 2.5 35.9 7.5 35.2 11.4C34.5 15.2 32.5 20.2 29.9 24.1C27.2 28.0 22.8 32.2 19.3 34.7C15.7 37.1 11.9 38.2 8.7 38.9C5.5 39.6 1.6 38.9 0.2 38.9" fill="none" stroke="#0000ff" stroke-width="2.5" stroke-linejoin="round" stroke-linecap="round"/><use href="#bm"/></g><rect x="0" y="0" width="234.5" height="144.7" fill="none" stroke="#000" stroke-width="4.7" stroke-linejoin="round"/><text x="-1.68" y="-4.56" font-size="19.5" textLength="141.4" lengthAdjust="spacingAndGlyphs">Phase 3, MVP~0</text><text x="153.3" y="-2.28" font-size="19.5" textLength="82.4" lengthAdjust="spacingAndGlyphs">41 events</text></g>
<g transform="translate(851.13,300.35)"><g clip-path="url(#cp)"><path d="M-0.0 66.4 16.9 60.1 38.1 66.4 41.3 91.9 34.9 113.0 28.6 125.7 21.2 135.3 -0.0 134.2Z" fill="#ffffc8"/><path d="M6.3 68.6 19.1 64.3 31.8 68.6 33.9 85.5 27.5 96.1 23.3 100.3 6.3 94.0 5.3 83.4Z" fill="#ffe032"/><path d="M55.1 123.6 72.0 121.5 73.1 146.9 61.4 146.9 55.1 134.2Z" fill="#ffffc8"/><path d="M76.2 52.7 89.0 51.6 108.0 54.8 116.5 64.3 119.7 70.7 133.4 72.8 150.4 74.9 150.4 87.6 139.8 94.0 127.1 96.1 120.7 98.2 97.4 102.4 84.7 108.8 72.0 115.2 72.0 123.6 59.3 123.6 57.2 115.2 52.9 104.6 55.1 96.1 69.9 91.9 71.0 83.4 76.2 74.9 73.1 66.4 76.2 62.2Z" fill="#ffe032"/><path d="M94.3 66.4 99.5 66.4 99.5 71.7 94.3 71.7Z" fill="#ffaa00"/><path d="M207.6 11.4 218.2 3.9 227.7 7.1 229.8 15.6 220.3 24.1 212.9 28.3 208.6 22.0Z" fill="#a0d2ff"/><path d="M-0.0 3.9C1.8 5.4 6.7 10.3 10.6 12.4C14.5 14.5 19.1 16.5 23.3 16.7C27.5 16.8 32.1 15.2 36.0 13.5C39.9 11.7 44.2 8.2 46.6 6.1C49.0 3.9 49.8 1.7 50.4 0.8" fill="none" stroke="#0000ff" stroke-width="2.5" stroke-linejoin="round" stroke-linecap="round"/><path d="M189.6 0.8C190.1 2.9 190.8 9.9 192.8 13.5C194.7 17.0 198.0 20.0 201.2 22.0C204.4 23.9 208.3 25.1 211.8 25.1C215.3 25.1 219.6 24.2 222.4 22.0C225.2 19.7 227.1 14.9 228.8 11.4C230.5 7.8 231.9 2.5 232.6 0.8" fill="none" stroke="#0000ff" stroke-width="2.5" stroke-linejoin="round" stroke-linecap="round"/><path d="M125.0 85.5C125.0 82.7 129.9 78.6 133.4 77.0C137.0 75.4 141.2 75.8 146.1 76.0C151.1 76.1 157.4 77.4 163.1 78.1C168.7 78.8 174.4 79.5 180.0 80.2C185.7 80.9 190.6 81.8 197.0 82.3C203.3 82.9 215.0 82.5 218.2 83.4C221.3 84.3 218.9 86.6 216.1 87.6C213.2 88.7 205.8 89.0 201.2 89.7C196.6 90.4 192.8 90.6 188.5 91.9C184.3 93.1 180.0 95.9 175.8 97.1C171.6 98.4 168.0 99.1 163.1 99.3C158.2 99.4 151.1 99.1 146.1 98.2C141.2 97.3 137.0 96.1 133.4 94.0C129.9 91.9 125.0 88.3 125.0 85.5Z" fill="none" stroke="#ff0000" stroke-width="2.5" stroke-linejoin="round" stroke-linecap="round"/><use href="#bm"/></g><rect x="0" y="0" width="234.5" height="144.7" fill="none" stroke="#000" stroke-width="4.7" stroke-linejoin="round"/><text x="-1.68" y="-4.56" font-size="19.5" textLength="141.4" lengthAdjust="spacingAndGlyphs">Phase 4, MVP~0</text><text x="153.3" y="-2.28" font-size="19.5" textLength="82.4" lengthAdjust="spacingAndGlyphs">47 events</text></g>
<g transform="translate(1132.35,300.35)"><g clip-path="url(#cp)"><path d="M-0.2 11.4 10.4 17.7 16.7 30.4 21.0 41.0 18.8 53.7 10.4 60.1 -0.2 62.2Z" fill="#ffffc8"/><path d="M84.5 91.9 93.0 81.3 101.4 73.8 120.5 72.8 122.6 64.3 137.5 62.2 158.6 66.4 167.1 64.3 179.8 74.9 190.4 81.3 203.1 85.5 209.5 91.9 213.7 100.3 211.6 110.9 201.0 117.3 198.9 127.9 186.2 127.9 173.5 123.6 162.9 121.5 145.9 123.6 124.7 125.7 122.6 134.2 105.7 136.3 101.4 130.0 97.2 125.7 84.5 119.4 82.4 104.6Z" fill="#ffffc8"/><path d="M85.6 91.9 93.0 83.4 103.6 74.9 120.5 72.8 124.7 66.4 137.5 63.3 158.6 67.5 169.2 66.4 181.9 77.0 190.4 83.4 192.5 98.2 207.4 100.3 209.5 108.8 196.8 117.3 179.8 120.5 167.1 120.5 145.9 122.6 120.5 123.6 103.6 125.7 97.2 123.6 86.6 117.3 84.5 104.6Z" fill="#ffe032"/><path d="M112.0 85.5 122.6 77.0 133.2 68.6 150.2 70.7 165.0 74.9 173.5 83.4 177.7 91.9 167.1 102.4 154.4 104.6 137.5 104.6 124.7 104.6 116.3 98.2 112.0 91.9Z" fill="#ffaa00"/><path d="M209.5 32.5 222.2 22.0 228.5 18.8 234.9 19.8 234.9 49.5 226.4 51.6 218.0 47.4 211.6 41.0Z" fill="#a0d2ff"/><path d="M-0.2 10.3C1.5 10.7 7.2 10.1 10.4 12.4C13.5 14.7 16.7 19.7 18.8 24.1C21.0 28.5 23.1 34.0 23.1 38.9C23.1 43.8 21.0 50.2 18.8 53.7C16.7 57.3 13.5 58.3 10.4 60.1C7.2 61.8 1.5 63.6 -0.2 64.3" fill="none" stroke="#ff0000" stroke-width="2.5" stroke-linejoin="round" stroke-linecap="round"/><path d="M118.4 89.7C119.3 84.1 121.9 79.1 124.7 74.9C127.6 70.7 131.1 66.6 135.3 64.3C139.6 62.0 144.9 61.1 150.2 61.1C155.5 61.1 161.5 62.4 167.1 64.3C172.8 66.3 178.4 70.3 184.1 72.8C189.7 75.3 196.1 77.0 201.0 79.1C205.9 81.3 212.3 82.3 213.7 85.5C215.1 88.7 213.0 94.7 209.5 98.2C205.9 101.7 198.9 104.0 192.5 106.7C186.2 109.3 178.4 111.8 171.3 114.1C164.3 116.4 157.2 119.6 150.2 120.5C143.1 121.3 134.1 121.3 129.0 119.4C123.9 117.4 121.2 113.7 119.5 108.8C117.7 103.9 117.5 95.4 118.4 89.7Z" fill="none" stroke="#ff0000" stroke-width="2.5" stroke-linejoin="round" stroke-linecap="round"/><use href="#bm"/></g><rect x="0" y="0" width="234.5" height="144.7" fill="none" stroke="#000" stroke-width="4.7" stroke-linejoin="round"/><text x="-1.68" y="-4.56" font-size="19.5" textLength="141.4" lengthAdjust="spacingAndGlyphs">Phase 5, MVP~0</text><text x="153.3" y="-2.28" font-size="19.5" textLength="82.4" lengthAdjust="spacingAndGlyphs">44 events</text></g>
<g transform="translate(1413.57,300.35)"><g clip-path="url(#cp)"><path d="M0.5 28.3 8.0 30.4 13.3 41.0 11.1 53.7 6.9 62.2 0.5 62.2Z" fill="#ffe032"/><path d="M134.0 72.8 146.7 62.2 158.4 61.1 167.9 70.7 167.9 83.4 165.8 96.1 136.1 98.2 127.6 89.7 128.7 83.4 134.0 81.3Z" fill="#ffe032"/><path d="M176.4 146.9 184.8 125.7 193.3 113.0 201.8 96.1 212.4 94.0 223.0 98.2 235.7 91.9 235.7 146.9Z" fill="#d2f5ff"/><path d="M0.5 7.1C2.3 6.9 8.0 5.0 11.1 6.1C14.3 7.1 17.3 9.4 19.6 13.5C21.9 17.5 23.8 24.8 24.9 30.4C26.0 36.1 26.5 41.7 26.0 47.4C25.4 53.0 23.8 59.6 21.7 64.3C19.6 69.1 16.8 73.7 13.3 76.0C9.7 78.3 2.7 77.7 0.5 78.1" fill="none" stroke="#ff0000" stroke-width="2.5" stroke-linejoin="round" stroke-linecap="round"/><path d="M207.1 0.8C208.3 1.7 211.5 4.8 214.5 6.1C217.5 7.3 221.6 8.0 225.1 8.2C228.6 8.4 233.9 7.3 235.7 7.1" fill="none" stroke="#ff0000" stroke-width="2.5" stroke-linejoin="round" stroke-linecap="round"/><path d="M131.9 32.5C132.9 27.6 134.7 24.4 138.2 22.0C141.8 19.5 148.1 17.7 153.1 17.7C158.0 17.7 163.7 18.8 167.9 22.0C172.1 25.1 176.0 31.5 178.5 36.8C181.0 42.1 182.4 47.0 182.7 53.7C183.1 60.4 182.0 70.3 180.6 77.0C179.2 83.7 177.1 89.0 174.2 94.0C171.4 98.9 167.5 103.9 163.7 106.7C159.8 109.5 155.2 111.3 150.9 110.9C146.7 110.6 141.1 107.4 138.2 104.6C135.4 101.7 135.1 99.3 134.0 94.0C132.9 88.7 132.2 79.9 131.9 72.8C131.5 65.7 131.9 58.3 131.9 51.6C131.9 44.9 130.8 37.5 131.9 32.5Z" fill="none" stroke="#ff0000" stroke-width="2.5" stroke-linejoin="round" stroke-linecap="round"/><path d="M235.7 70.7C234.1 71.4 228.1 72.8 226.1 74.9C224.2 77.0 223.8 80.6 224.0 83.4C224.2 86.2 225.3 89.9 227.2 91.9C229.1 93.8 234.3 94.5 235.7 95.0" fill="none" stroke="#0000ff" stroke-width="2.5" stroke-linejoin="round" stroke-linecap="round"/><use href="#bm"/></g><rect x="0" y="0" width="234.5" height="144.7" fill="none" stroke="#000" stroke-width="4.7" stroke-linejoin="round"/><text x="-1.68" y="-4.56" font-size="19.5" textLength="141.4" lengthAdjust="spacingAndGlyphs">Phase 6, MVP~0</text><text x="153.3" y="-2.28" font-size="19.5" textLength="82.4" lengthAdjust="spacingAndGlyphs">34 events</text></g>
<g transform="translate(1694.79,300.35)"><g clip-path="url(#cp)"><path d="M46.9 25.1 61.8 28.3 76.6 32.5 79.8 43.1 81.9 53.7 85.1 62.2 87.2 71.7 93.5 77.0 92.5 81.3 74.5 79.1 72.3 70.7 61.8 66.4 55.4 55.8 53.3 45.3 49.0 34.7Z" fill="#a0d2ff"/><path d="M0.3 13.5C1.4 15.6 4.2 23.0 6.7 26.2C9.2 29.4 12.7 31.8 15.2 32.5C17.6 33.2 18.7 32.9 21.5 30.4C24.3 28.0 28.9 21.6 32.1 17.7C35.3 13.8 38.5 9.9 40.6 7.1C42.6 4.3 43.8 1.8 44.4 0.8" fill="none" stroke="#ff0000" stroke-width="2.5" stroke-linejoin="round" stroke-linecap="round"/><use href="#bm"/></g><rect x="0" y="0" width="234.5" height="144.7" fill="none" stroke="#000" stroke-width="4.7" stroke-linejoin="round"/><text x="-1.68" y="-4.56" font-size="19.5" textLength="141.4" lengthAdjust="spacingAndGlyphs">Phase 7, MVP~0</text><text x="153.3" y="-2.28" font-size="19.5" textLength="82.4" lengthAdjust="spacingAndGlyphs">55 events</text></g>
<g transform="translate(1976.01,300.35)"><g clip-path="url(#cp)"><path d="M46.7 0.8 92.3 0.8 78.5 11.4 76.4 19.8 59.4 22.0 58.4 26.2 48.8 24.1 44.6 17.7 46.7 11.4Z" fill="#ffe032"/><path d="M55.2 0.8 92.3 0.8 84.8 11.4 76.4 13.5 70.0 15.6 61.5 11.4 55.2 8.2Z" fill="#ffaa00"/><path d="M106.0 115.2 112.4 102.4 123.0 98.2 127.2 83.4 142.0 77.0 171.7 77.0 178.0 83.4 184.4 85.5 192.9 91.9 195.0 108.8 195.0 125.7 182.3 134.2 167.5 138.5 146.3 140.6 114.5 140.6 108.1 130.0Z" fill="#d2f5ff"/><path d="M112.4 104.6 123.0 100.3 128.3 83.4 146.3 79.1 171.7 79.1 184.4 83.4 186.5 96.1 192.9 108.8 189.7 123.6 175.9 130.0 159.0 136.3 146.3 134.2 129.3 134.2 116.6 125.7 114.5 117.3Z" fill="#a0d2ff"/><path d="M38.2 136.3 57.3 136.3 59.4 146.9 38.2 146.9Z" fill="#d2f5ff"/><path d="M0.1 130.0 8.6 131.0 8.6 140.6 0.1 140.6Z" fill="#d2f5ff"/><path d="M0.1 11.4C1.0 10.1 4.1 5.7 5.4 3.9C6.7 2.2 7.7 1.3 8.2 0.8" fill="none" stroke="#0000ff" stroke-width="2.5" stroke-linejoin="round" stroke-linecap="round"/><path d="M46.7 0.8C46.5 3.2 44.9 11.0 45.7 15.6C46.4 20.2 48.3 24.4 50.9 28.3C53.6 32.2 58.2 36.2 61.5 38.9C64.9 41.5 68.6 44.5 71.1 44.2C73.5 43.8 74.6 40.5 76.4 36.8C78.1 33.1 79.9 26.2 81.7 22.0C83.4 17.7 84.5 14.9 87.0 11.4C89.4 7.8 94.9 2.5 96.5 0.8" fill="none" stroke="#ff0000" stroke-width="2.5" stroke-linejoin="round" stroke-linecap="round"/><path d="M127.2 100.3C127.2 95.4 130.4 90.1 133.6 85.5C136.7 80.9 141.3 75.6 146.3 72.8C151.2 70.0 157.6 68.6 163.2 68.6C168.9 68.6 174.9 70.7 180.2 72.8C185.5 74.9 191.5 77.7 195.0 81.3C198.5 84.8 201.0 89.0 201.3 94.0C201.7 98.9 199.6 106.3 197.1 110.9C194.6 115.5 191.5 118.9 186.5 121.5C181.6 124.2 173.8 126.5 167.5 126.8C161.1 127.2 154.0 125.6 148.4 123.6C142.7 121.7 137.1 119.0 133.6 115.2C130.0 111.3 127.2 105.3 127.2 100.3Z" fill="none" stroke="#0000ff" stroke-width="2.5" stroke-linejoin="round" stroke-linecap="round"/><use href="#bm"/></g><rect x="0" y="0" width="234.5" height="144.7" fill="none" stroke="#000" stroke-width="4.7" stroke-linejoin="round"/><text x="-1.68" y="-4.56" font-size="19.5" textLength="141.4" lengthAdjust="spacingAndGlyphs">Phase 8, MVP~0</text><text x="153.3" y="-2.28" font-size="19.5" textLength="82.4" lengthAdjust="spacingAndGlyphs">45 events</text></g>
<g transform="translate(7.47,480.30)"><g clip-path="url(#cp)"><path d="M-0.4 103.6 10.2 110.0 22.9 112.1 31.4 105.7 44.1 101.5 52.6 107.9 67.4 105.7 71.7 93.0 71.7 82.4 90.7 81.4 120.4 82.4 124.6 90.9 124.6 101.5 116.2 103.6 99.2 107.9 97.1 120.6 97.1 129.0 88.6 137.5 88.6 146.0 -0.4 146.0Z" fill="#a0d2ff"/><path d="M-0.4 124.8 8.1 124.8 8.1 135.4 -0.4 135.4Z" fill="#d2f5ff"/><path d="M90.7 82.4 120.4 82.4 122.5 99.4 111.9 101.5 107.7 107.9 90.7 107.9 90.7 99.4 86.5 88.8Z" fill="#00c0f8"/><path d="M51.5 -0.2C53.1 1.9 58.8 8.3 61.1 12.5C63.4 16.8 65.3 21.0 65.3 25.2C65.3 29.5 63.5 34.2 61.1 37.9C58.6 41.7 54.4 45.5 50.5 47.5C46.6 49.4 42.4 50.0 37.8 49.6C33.2 49.2 27.5 47.3 22.9 45.4C18.4 43.4 14.1 40.2 10.2 37.9C6.4 35.7 1.4 32.7 -0.4 31.6" fill="none" stroke="#ff0000" stroke-width="2.5" stroke-linejoin="round" stroke-linecap="round"/><path d="M-0.4 72.9C0.7 74.5 4.1 78.7 6.0 82.4C7.9 86.1 10.4 91.3 11.3 95.1C12.2 99.0 12.2 103.3 11.3 105.7C10.4 108.2 7.9 109.0 6.0 110.0C4.1 111.0 0.7 111.4 -0.4 111.7" fill="none" stroke="#0000ff" stroke-width="2.5" stroke-linejoin="round" stroke-linecap="round"/><path d="M114.0 80.3C115.6 72.9 114.7 59.5 116.2 52.8C117.6 46.1 119.3 43.6 122.5 40.1C125.7 36.5 131.3 33.4 135.2 31.6C139.1 29.8 142.6 28.4 145.8 29.5C149.0 30.5 152.5 34.8 154.3 37.9C156.0 41.1 156.4 43.9 156.4 48.5C156.4 53.1 155.3 60.5 154.3 65.5C153.2 70.4 151.1 74.3 150.0 78.2C149.0 82.1 150.4 85.3 147.9 88.8C145.5 92.3 139.5 96.9 135.2 99.4C131.0 101.8 126.4 103.3 122.5 103.6C118.6 104.0 114.6 102.6 111.9 101.5C109.3 100.4 106.3 100.8 106.6 97.3C107.0 93.7 112.4 87.7 114.0 80.3Z" fill="none" stroke="#0000ff" stroke-width="2.5" stroke-linejoin="round" stroke-linecap="round"/><use href="#bm"/></g><rect x="0" y="0" width="234.5" height="144.7" fill="none" stroke="#000" stroke-width="4.7" stroke-linejoin="round"/><text x="-1.68" y="-4.56" font-size="19.5" textLength="127.8" lengthAdjust="spacingAndGlyphs">Phase 1, MVP-</text><text x="153.3" y="-2.28" font-size="19.5" textLength="82.4" lengthAdjust="spacingAndGlyphs">23 events</text></g>
<g transform="translate(288.69,480.30)"><g clip-path="url(#cp)"><path d="M-0.6 76.1 10.0 75.0 20.6 80.3 39.7 88.8 41.8 95.1 50.3 99.4 60.9 103.6 60.9 110.0 71.4 116.3 73.6 133.3 63.0 133.3 60.9 146.0 24.8 146.0 22.7 137.5 17.4 129.0 10.0 116.3 5.8 110.0 -0.6 99.4Z" fill="#a0d2ff"/><path d="M3.7 74.0 10.0 74.0 10.0 82.4 3.7 82.4Z" fill="#d2f5ff"/><path d="M107.5 54.9 115.9 46.4 128.6 37.9 135.0 31.6 145.6 31.6 160.4 32.7 164.7 40.1 177.4 46.4 183.7 52.8 185.8 71.8 177.4 76.1 177.4 84.5 171.0 84.5 158.3 82.4 145.6 86.7 128.6 90.9 127.6 82.4 120.2 82.4 107.5 82.4Z" fill="#a0d2ff"/><path d="M107.5 54.9 120.2 46.4 132.9 36.9 145.6 32.7 158.3 33.7 162.5 40.1 175.2 42.2 179.5 50.7 175.2 63.4 171.0 71.8 162.5 78.2 145.6 80.3 124.4 80.3 107.5 81.4Z" fill="#00c0f8"/><path d="M118.1 50.7C119.3 45.4 124.1 37.6 128.6 33.7C133.2 29.8 138.5 28.2 145.6 27.4C152.6 26.5 163.2 27.7 171.0 28.4C178.8 29.1 186.9 28.6 192.2 31.6C197.5 34.6 201.4 40.4 202.8 46.4C204.2 52.4 202.8 62.0 200.7 67.6C198.5 73.3 194.3 77.5 190.1 80.3C185.8 83.1 181.2 84.2 175.2 84.5C169.2 84.9 161.1 83.8 154.1 82.4C147.0 81.0 138.4 78.9 132.9 76.1C127.4 73.3 123.7 69.7 121.2 65.5C118.8 61.2 116.8 56.0 118.1 50.7Z" fill="none" stroke="#0000ff" stroke-width="2.5" stroke-linejoin="round" stroke-linecap="round"/><use href="#bm"/></g><rect x="0" y="0" width="234.5" height="144.7" fill="none" stroke="#000" stroke-width="4.7" stroke-linejoin="round"/><text x="-1.68" y="-4.56" font-size="19.5" textLength="127.8" lengthAdjust="spacingAndGlyphs">Phase 2, MVP-</text><text x="153.3" y="-2.28" font-size="19.5" textLength="82.4" lengthAdjust="spacingAndGlyphs">23 events</text></g>
<g transform="translate(569.91,480.30)"><g clip-path="url(#cp)"><path d="M0.2 8.3 10.8 4.1 15.0 -0.2 68.0 -0.2 68.0 14.6 55.3 21.0 51.0 33.7 53.2 48.5 51.0 59.1 42.6 65.5 25.6 76.1 23.5 80.3 8.7 82.4 0.2 80.3Z" fill="#d2f5ff"/><path d="M0.2 16.8 10.8 10.4 17.2 -0.2 65.9 -0.2 65.9 14.6 53.2 18.9 48.9 31.6 51.0 46.4 46.8 59.1 34.1 67.6 23.5 74.0 10.8 76.1 0.2 74.0Z" fill="#a0d2ff"/><path d="M48.9 -0.2 68.0 -0.2 65.9 9.4 53.2 8.3Z" fill="#00c0f8"/><path d="M146.4 6.2 150.6 -0.2 199.3 -0.2 202.5 10.4 207.8 18.9 207.8 31.6 201.4 35.8 184.5 35.8 173.9 33.7 159.1 29.5 152.7 25.2 146.4 14.6Z" fill="#ffe032"/><path d="M146.4 6.2 152.7 -0.2 171.8 -0.2 176.0 12.5 176.0 27.4 157.0 31.6 148.5 21.0Z" fill="#ffaa00"/><path d="M154.8 -0.2 165.4 -0.2 165.4 6.2 154.8 6.2Z" fill="#ff7000"/><path d="M57.4 133.3 72.2 133.3 72.2 146.0 57.4 146.0Z" fill="#ffffc8"/><path d="M24.6 -0.2C24.4 2.3 23.7 9.0 23.5 14.6C23.3 20.3 22.5 28.1 23.5 33.7C24.6 39.4 27.0 44.8 29.9 48.5C32.7 52.2 36.6 54.7 40.5 56.0C44.3 57.2 48.6 56.5 53.2 56.0C57.8 55.4 64.8 55.1 68.0 52.8C71.2 50.5 71.3 46.8 72.2 42.2C73.1 37.6 73.6 30.2 73.3 25.2C72.9 20.3 70.8 16.8 70.1 12.5C69.4 8.3 69.2 1.9 69.1 -0.2" fill="none" stroke="#0000ff" stroke-width="2.5" stroke-linejoin="round" stroke-linecap="round"/><path d="M105.1 -0.2C106.3 2.3 109.1 10.1 112.5 14.6C115.8 19.2 120.2 23.8 125.2 27.4C130.1 30.9 136.5 34.4 142.1 35.8C147.8 37.2 153.1 36.4 159.1 35.8C165.1 35.3 172.5 34.4 178.1 32.7C183.8 30.9 189.3 28.2 193.0 25.2C196.7 22.2 198.9 18.9 200.4 14.6C201.9 10.4 201.6 2.3 201.9 -0.2" fill="none" stroke="#ff0000" stroke-width="2.5" stroke-linejoin="round" stroke-linecap="round"/><use href="#bm"/></g><rect x="0" y="0" width="234.5" height="144.7" fill="none" stroke="#000" stroke-width="4.7" stroke-linejoin="round"/><text x="-1.68" y="-4.56" font-size="19.5" textLength="127.8" lengthAdjust="spacingAndGlyphs">Phase 3, MVP-</text><text x="153.3" y="-2.28" font-size="19.5" textLength="82.4" lengthAdjust="spacingAndGlyphs">40 events</text></g>
<g transform="translate(851.13,480.30)"><g clip-path="url(#cp)"><path d="M72.0 5.1 91.1 6.2 93.2 18.9 103.8 18.9 108.0 29.5 113.3 35.8 114.4 45.4 103.8 46.4 86.8 43.2 84.7 33.7 78.4 31.6 76.2 21.0 74.1 12.5Z" fill="#00c0f8"/><path d="M69.9 5.1 75.2 5.1 75.8 12.5 71.0 12.1Z" fill="#a0d2ff"/><path d="M29.6 133.3 42.4 126.9 48.7 122.7 78.4 124.8 80.5 133.3 82.6 146.0 29.6 146.0Z" fill="#ffe032"/><path d="M14.8 136.4 29.6 136.4 29.6 146.0 14.8 146.0Z" fill="#ffffc8"/><path d="M80.5 135.4 86.8 135.4 86.8 146.0 80.5 146.0Z" fill="#ffffc8"/><path d="M14.8 -0.2C14.3 3.0 12.5 12.9 11.6 18.9C10.8 24.9 10.4 30.9 9.5 35.8C8.6 40.8 7.9 45.2 6.3 48.5C4.8 51.9 1.0 54.7 -0.0 56.0" fill="none" stroke="#ff0000" stroke-width="2.5" stroke-linejoin="round" stroke-linecap="round"/><path d="M67.8 48.5C67.4 44.7 68.8 40.8 72.0 37.9C75.2 35.1 81.5 33.0 86.8 31.6C92.1 30.2 98.8 28.9 103.8 29.5C108.7 30.0 113.3 31.9 116.5 34.8C119.7 37.6 122.8 42.7 122.8 46.4C122.8 50.1 119.7 54.4 116.5 57.0C113.3 59.7 108.4 60.9 103.8 62.3C99.2 63.7 93.9 65.7 89.0 65.5C84.0 65.3 77.7 64.1 74.1 61.2C70.6 58.4 68.1 52.4 67.8 48.5Z" fill="none" stroke="#0000ff" stroke-width="2.5" stroke-linejoin="round" stroke-linecap="round"/><path d="M235.1 47.5C233.0 48.4 226.6 50.5 222.4 52.8C218.2 55.1 213.9 57.7 209.7 61.2C205.5 64.8 200.5 69.7 197.0 74.0C193.5 78.2 190.3 83.1 188.5 86.7C186.7 90.2 185.3 93.0 186.4 95.1C187.5 97.3 191.3 99.0 194.9 99.4C198.4 99.7 203.3 98.7 207.6 97.3C211.8 95.8 215.7 93.6 220.3 90.9C224.9 88.3 232.6 83.0 235.1 81.4" fill="none" stroke="#ff0000" stroke-width="2.5" stroke-linejoin="round" stroke-linecap="round"/><use href="#bm"/></g><rect x="0" y="0" width="234.5" height="144.7" fill="none" stroke="#000" stroke-width="4.7" stroke-linejoin="round"/><text x="-1.68" y="-4.56" font-size="19.5" textLength="127.8" lengthAdjust="spacingAndGlyphs">Phase 4, MVP-</text><text x="153.3" y="-2.28" font-size="19.5" textLength="82.4" lengthAdjust="spacingAndGlyphs">25 events</text></g>
<g transform="translate(1132.35,480.30)"><g clip-path="url(#cp)"><path d="M97.2 93.0 112.0 90.9 129.0 82.4 145.9 71.8 167.1 67.6 179.8 74.0 190.4 82.4 196.8 88.8 203.1 101.5 201.0 105.7 190.4 110.0 188.3 116.3 175.6 120.6 158.6 124.8 154.4 133.3 133.2 135.4 114.2 135.4 112.0 126.9 103.6 122.7 101.4 112.1 98.3 103.6Z" fill="#ffe032"/><path d="M109.9 95.1 124.7 84.5 141.7 78.2 158.6 71.8 171.3 74.0 188.3 82.4 190.4 95.1 188.3 103.6 181.9 110.0 167.1 114.2 145.9 120.6 129.0 120.6 116.3 116.3 112.0 105.7Z" fill="#ffaa00"/><path d="M167.1 79.3 177.7 82.4 178.8 93.0 169.2 94.1Z" fill="#ff7000"/><path d="M-0.2 74.0 9.3 76.1 13.5 86.7 12.5 95.1 6.1 95.1 -0.2 86.7Z" fill="#a0d2ff"/><path d="M211.6 23.1 228.5 17.8 234.9 17.8 234.9 71.8 226.4 69.7 218.0 57.0 211.6 46.4 201.0 40.1 196.8 31.6Z" fill="#a0d2ff"/><path d="M198.9 27.4 211.6 24.2 224.3 21.0 234.9 29.5 234.9 44.3 222.2 52.8 215.8 46.4 205.2 42.2 198.9 35.8Z" fill="#00c0f8"/><path d="M63.3 135.4 78.1 133.3 79.2 146.0 63.3 146.0Z" fill="#ffffc8"/><path d="M63.3 138.6 71.8 137.5 71.8 146.0 63.3 146.0Z" fill="#ffe032"/><path d="M73.9 -0.2C74.3 1.9 75.5 9.7 76.0 12.5C76.6 15.4 78.1 14.6 77.1 16.8C76.0 18.9 72.1 22.1 69.7 25.2C67.2 28.4 63.0 32.3 62.3 35.8C61.6 39.4 62.8 43.2 65.4 46.4C68.1 49.6 73.9 53.1 78.1 54.9C82.4 56.7 86.6 57.7 90.9 57.0C95.1 56.3 101.3 53.5 103.6 50.7C105.9 47.8 105.7 43.6 104.6 40.1C103.6 36.5 99.9 32.7 97.2 29.5C94.6 26.3 88.7 23.8 88.7 21.0C88.7 18.2 95.2 16.1 97.2 12.5C99.3 9.0 100.4 1.9 101.0 -0.2" fill="none" stroke="#0000ff" stroke-width="2.5" stroke-linejoin="round" stroke-linecap="round"/><path d="M127.9 -0.2C127.7 1.9 126.0 9.0 126.9 12.5C127.7 16.1 130.0 18.9 133.2 21.0C136.4 23.1 141.0 23.8 145.9 25.2C150.9 26.6 156.9 28.1 162.9 29.5C168.9 30.9 175.9 32.3 181.9 33.7C187.9 35.1 193.2 36.5 198.9 37.9C204.5 39.4 209.8 41.8 215.8 42.2C221.8 42.5 231.7 40.4 234.9 40.1" fill="none" stroke="#0000ff" stroke-width="2.5" stroke-linejoin="round" stroke-linecap="round"/><path d="M180.9 -0.2C181.1 1.6 180.4 7.2 181.9 10.4C183.5 13.6 187.2 16.8 190.4 18.9C193.6 21.0 197.5 22.2 201.0 23.1C204.5 24.0 209.1 25.6 211.6 24.2C214.1 22.8 216.2 17.6 215.8 14.6C215.5 11.6 211.2 8.6 209.5 6.2C207.8 3.7 206.3 0.9 205.7 -0.2" fill="none" stroke="#0000ff" stroke-width="2.5" stroke-linejoin="round" stroke-linecap="round"/><path d="M99.3 120.6C98.6 116.0 95.8 108.9 97.2 103.6C98.6 98.3 103.2 93.7 107.8 88.8C112.4 83.8 118.4 78.9 124.7 74.0C131.1 69.0 138.9 62.5 145.9 59.1C153.0 55.8 160.1 54.2 167.1 53.8C174.2 53.5 181.2 54.7 188.3 57.0C195.4 59.3 204.2 63.4 209.5 67.6C214.8 71.8 218.7 77.1 220.1 82.4C221.5 87.7 220.4 93.7 218.0 99.4C215.5 105.0 210.2 111.4 205.2 116.3C200.3 121.3 194.6 125.5 188.3 129.0C181.9 132.6 175.9 135.4 167.1 137.5C158.3 139.6 144.5 141.4 135.3 141.7C126.2 142.1 117.7 141.4 112.0 139.6C106.4 137.9 103.6 134.3 101.4 131.2C99.3 128.0 100.0 125.1 99.3 120.6Z" fill="none" stroke="#ff0000" stroke-width="2.5" stroke-linejoin="round" stroke-linecap="round"/><path d="M124.7 107.9C125.8 103.6 129.0 95.8 133.2 90.9C137.5 86.0 144.5 81.7 150.2 78.2C155.8 74.7 161.5 71.5 167.1 69.7C172.8 68.0 179.1 66.9 184.1 67.6C189.0 68.3 194.1 70.8 196.8 74.0C199.4 77.1 200.7 82.4 199.9 86.7C199.2 90.9 196.6 95.5 192.5 99.4C188.5 103.3 181.2 107.1 175.6 110.0C169.9 112.8 165.0 114.6 158.6 116.3C152.3 118.1 142.8 120.6 137.5 120.6C132.2 120.6 129.0 118.4 126.9 116.3C124.7 114.2 123.7 112.1 124.7 107.9Z" fill="none" stroke="#ff0000" stroke-width="2.5" stroke-linejoin="round" stroke-linecap="round"/><use href="#bm"/></g><rect x="0" y="0" width="234.5" height="144.7" fill="none" stroke="#000" stroke-width="4.7" stroke-linejoin="round"/><text x="-1.68" y="-4.56" font-size="19.5" textLength="127.8" lengthAdjust="spacingAndGlyphs">Phase 5, MVP-</text><text x="153.3" y="-2.28" font-size="19.5" textLength="82.4" lengthAdjust="spacingAndGlyphs">17 events</text></g>
<g transform="translate(1413.57,480.30)"><g clip-path="url(#cp)"><path d="M0.5 16.8 0.5 -0.2 55.6 -0.2 55.6 10.4 49.3 18.9 42.9 25.2 40.8 31.6 38.7 46.4 21.7 42.2 11.1 31.6Z" fill="#a0d2ff"/><path d="M32.3 -0.2 55.6 -0.2 54.6 11.5 47.2 10.4 36.6 6.2Z" fill="#00c0f8"/><path d="M77.9 89.8 95.9 90.9 112.8 93.0 129.8 90.9 146.7 93.0 163.7 90.9 172.1 95.1 174.2 112.1 163.7 116.3 159.4 120.6 150.9 124.8 138.2 133.3 117.1 133.3 104.3 133.3 95.9 124.8 91.6 116.3 85.3 112.1 78.9 103.6Z" fill="#ffe032"/><path d="M121.3 97.3 129.8 93.0 142.5 93.0 146.7 99.4 144.6 107.9 142.5 120.6 125.5 120.6 121.3 112.1Z" fill="#ffaa00"/><path d="M47.2 129.0 59.9 122.7 78.9 126.9 81.0 133.3 85.3 146.0 47.2 146.0Z" fill="#ffe032"/><path d="M30.2 139.6 38.7 139.6 38.7 146.0 30.2 146.0Z" fill="#ffffc8"/><path d="M195.4 135.4 210.3 129.0 223.0 122.7 235.7 119.5 235.7 146.0 195.4 146.0Z" fill="#d2f5ff"/><path d="M26.0 -0.2C26.3 2.3 27.0 10.1 28.1 14.6C29.1 19.2 30.2 23.3 32.3 27.4C34.4 31.4 37.3 36.7 40.8 39.0C44.3 41.3 50.0 42.0 53.5 41.1C57.0 40.2 59.7 37.4 62.0 33.7C64.3 30.0 66.0 24.5 67.3 18.9C68.5 13.2 69.0 3.0 69.4 -0.2" fill="none" stroke="#0000ff" stroke-width="2.5" stroke-linejoin="round" stroke-linecap="round"/><path d="M122.3 -0.2C123.2 1.2 125.3 6.3 127.6 8.3C129.9 10.2 132.9 11.6 136.1 11.5C139.3 11.3 143.7 9.2 146.7 7.2C149.7 5.3 152.9 1.1 154.1 -0.2" fill="none" stroke="#0000ff" stroke-width="2.5" stroke-linejoin="round" stroke-linecap="round"/><path d="M74.7 112.1C74.7 108.6 76.1 103.3 78.9 99.4C81.7 95.5 86.0 92.3 91.6 88.8C97.3 85.3 105.0 80.8 112.8 78.2C120.6 75.5 129.8 74.1 138.2 72.9C146.7 71.7 156.6 70.3 163.7 70.8C170.7 71.3 176.5 73.1 180.6 76.1C184.7 79.1 187.3 83.8 188.0 88.8C188.7 93.7 187.5 100.1 184.8 105.7C182.2 111.4 177.1 118.1 172.1 122.7C167.2 127.3 161.5 130.6 155.2 133.3C148.8 135.9 141.8 138.2 134.0 138.6C126.2 138.9 116.0 137.3 108.6 135.4C101.2 133.4 94.5 129.4 89.5 126.9C84.6 124.4 81.4 123.0 78.9 120.6C76.5 118.1 74.7 115.6 74.7 112.1Z" fill="none" stroke="#ff0000" stroke-width="2.5" stroke-linejoin="round" stroke-linecap="round"/><use href="#bm"/></g><rect x="0" y="0" width="234.5" height="144.7" fill="none" stroke="#000" stroke-width="4.7" stroke-linejoin="round"/><text x="-1.68" y="-4.56" font-size="19.5" textLength="127.8" lengthAdjust="spacingAndGlyphs">Phase 6, MVP-</text><text x="153.3" y="-2.28" font-size="19.5" textLength="82.4" lengthAdjust="spacingAndGlyphs">19 events</text></g>
<g transform="translate(1694.79,480.30)"><g clip-path="url(#cp)"><path d="M159.8 42.4 174.0 40.4 186.2 36.3 196.4 25.1 190.3 18.0 182.1 8.9 178.1 1.7 198.4 1.7 201.2 9.7 204.5 15.0 209.6 20.0 216.7 18.0 222.8 10.9 232.0 5.8 235.2 3.7 235.2 28.2 226.9 30.2 211.6 33.3 201.5 35.3 191.3 42.4 178.1 47.5 163.8 50.0Z" fill="#ffaa00"/><path d="M232.0 3.7 235.2 3.7 235.2 29.2 226.9 30.2 221.8 25.1 225.9 18.0 226.9 10.9Z" fill="#ffe032"/><path d="M135.4 11.9 141.5 1.7 178.1 1.7 182.1 8.9 190.3 18.0 196.4 25.1 191.3 30.2 182.1 38.3 172.0 40.4 158.8 42.4 145.5 41.4 136.4 32.2 134.9 22.1Z" fill="#ff7000"/><path d="M149.6 7.3 164.9 3.8 166.9 3.8 173.0 18.0 150.6 24.1 148.6 18.0Z" fill="#c80000"/><path d="M0.3 54.9 10.9 54.9 10.9 65.5 23.6 69.7 32.1 78.2 40.6 86.7 46.9 97.3 49.0 116.3 46.9 129.0 40.6 139.6 0.3 146.0Z" fill="#d2f5ff"/><path d="M0.3 69.7 19.4 69.7 32.1 78.2 40.6 90.9 44.8 107.9 46.9 120.6 40.6 133.3 30.0 137.5 0.3 137.5Z" fill="#a0d2ff"/><path d="M0.3 82.4 13.0 80.3 27.9 86.7 40.6 97.3 44.8 112.1 42.7 124.8 32.1 133.3 0.3 133.3Z" fill="#00c0f8"/><path d="M184.6 120.6 199.4 116.3 210.0 114.2 212.2 95.1 222.7 88.8 235.5 86.7 235.5 146.0 222.7 141.7 201.6 135.4 184.6 133.3Z" fill="#a0d2ff"/><path d="M188.9 133.3 201.6 135.4 201.6 146.0 188.9 146.0Z" fill="#d2f5ff"/><path d="M96.7 -0.2C98.7 2.3 104.3 10.1 108.4 14.6C112.4 19.2 116.1 23.5 121.1 27.4C126.0 31.2 131.7 34.8 138.0 37.9C144.4 41.1 152.1 44.7 159.2 46.4C166.3 48.2 174.0 49.2 180.4 48.5C186.7 47.8 192.4 45.0 197.3 42.2C202.3 39.4 206.5 35.5 210.0 31.6C213.6 27.7 215.9 24.2 218.5 18.9C221.2 13.6 224.7 3.0 225.9 -0.2" fill="none" stroke="#ff0000" stroke-width="2.5" stroke-linejoin="round" stroke-linecap="round"/><path d="M124.2 -0.2C125.8 1.6 130.1 7.2 133.8 10.4C137.5 13.6 141.5 16.8 146.5 18.9C151.4 21.0 157.8 22.1 163.4 23.1C169.1 24.2 175.1 25.6 180.4 25.2C185.7 24.9 191.7 23.5 195.2 21.0C198.7 18.5 200.2 13.9 201.6 10.4C202.9 6.9 203.0 1.6 203.3 -0.2" fill="none" stroke="#ff0000" stroke-width="2.5" stroke-linejoin="round" stroke-linecap="round"/><path d="M0.3 73.5C3.2 72.7 12.3 68.9 17.3 68.7C22.2 68.4 26.1 69.5 30.0 71.8C33.9 74.1 37.6 78.5 40.6 82.4C43.6 86.3 46.4 90.6 48.0 95.1C49.6 99.7 50.3 105.4 50.1 110.0C49.9 114.6 48.5 119.1 46.9 122.7C45.3 126.2 43.8 128.9 40.6 131.2C37.4 133.4 32.8 135.7 27.9 136.4C22.9 137.2 15.5 135.9 10.9 135.4C6.3 134.9 2.1 133.6 0.3 133.3" fill="none" stroke="#0000ff" stroke-width="2.5" stroke-linejoin="round" stroke-linecap="round"/><path d="M235.5 33.7C232.6 35.8 223.8 42.2 218.5 46.4C213.2 50.7 208.3 54.5 203.7 59.1C199.1 63.7 194.0 68.7 191.0 74.0C188.0 79.3 185.7 85.6 185.7 90.9C185.7 96.2 188.0 102.0 191.0 105.7C194.0 109.4 199.1 111.7 203.7 113.1C208.3 114.6 213.2 114.4 218.5 114.2C223.8 114.0 232.6 112.4 235.5 112.1" fill="none" stroke="#0000ff" stroke-width="2.5" stroke-linejoin="round" stroke-linecap="round"/><path d="M235.5 51.7C233.7 53.0 227.5 56.1 224.9 59.1C222.2 62.1 220.3 66.5 219.6 69.7C218.9 72.9 219.4 76.1 220.6 78.2C221.9 80.3 224.5 81.9 227.0 82.4C229.5 83.0 234.0 81.5 235.5 81.4" fill="none" stroke="#0000ff" stroke-width="2.5" stroke-linejoin="round" stroke-linecap="round"/><use href="#bm"/></g><rect x="0" y="0" width="234.5" height="144.7" fill="none" stroke="#000" stroke-width="4.7" stroke-linejoin="round"/><text x="-1.68" y="-4.56" font-size="19.5" textLength="127.8" lengthAdjust="spacingAndGlyphs">Phase 7, MVP-</text><text x="153.3" y="-2.28" font-size="19.5" textLength="82.4" lengthAdjust="spacingAndGlyphs">17 events</text></g>
<g transform="translate(1976.01,480.30)"><g clip-path="url(#cp)"><path d="M70.0 -0.2 82.7 -0.2 80.6 10.4 72.1 12.5Z" fill="#ffaa00"/><path d="M150.5 -0.2 209.8 -0.2 210.9 8.3 201.3 14.6 192.9 18.9 184.4 18.9 171.7 16.8 167.5 10.4 159.0 6.2Z" fill="#ffaa00"/><path d="M67.9 105.7 76.4 99.4 82.7 97.3 93.3 99.4 97.5 93.0 106.0 90.9 113.4 93.0 112.4 105.7 103.9 107.9 93.3 112.1 87.0 116.3 78.5 116.3 70.0 112.1Z" fill="#a0d2ff"/><path d="M73.2 116.3 89.1 116.3 89.1 124.8 73.2 124.8Z" fill="#d2f5ff"/><path d="M82.7 6.2C84.5 6.0 88.0 5.5 93.3 5.1C98.6 4.8 107.4 4.4 114.5 4.1C121.6 3.7 129.7 2.8 135.7 3.0C141.7 3.2 145.6 3.9 150.5 5.1C155.4 6.3 160.0 9.2 165.3 10.4C170.6 11.6 176.3 12.2 182.3 12.5C188.3 12.9 195.3 12.7 201.3 12.5C207.3 12.4 212.6 12.1 218.3 11.5C223.9 10.8 232.4 9.2 235.2 8.7" fill="none" stroke="#ff0000" stroke-width="2.5" stroke-linejoin="round" stroke-linecap="round"/><path d="M235.2 40.1C232.4 40.2 223.9 41.3 218.3 41.1C212.6 40.9 207.0 38.8 201.3 39.0C195.7 39.2 189.3 40.9 184.4 42.2C179.5 43.4 175.6 44.3 171.7 46.4C167.8 48.5 161.8 52.8 161.1 54.9C160.4 57.0 164.3 58.1 167.5 59.1C170.6 60.2 175.9 60.2 180.2 61.2C184.4 62.3 188.6 63.7 192.9 65.5C197.1 67.2 201.3 69.7 205.6 71.8C209.8 74.0 213.3 77.0 218.3 78.2C223.2 79.4 232.4 79.1 235.2 79.3" fill="none" stroke="#0000ff" stroke-width="2.5" stroke-linejoin="round" stroke-linecap="round"/><use href="#bm"/></g><rect x="0" y="0" width="234.5" height="144.7" fill="none" stroke="#000" stroke-width="4.7" stroke-linejoin="round"/><text x="-1.68" y="-4.56" font-size="19.5" textLength="127.8" lengthAdjust="spacingAndGlyphs">Phase 8, MVP-</text><text x="153.3" y="-2.28" font-size="19.5" textLength="82.4" lengthAdjust="spacingAndGlyphs">23 events</text></g>
<rect x="126.90" y="651.9" width="115.06" height="14.6" fill="#8a26ea"/>
<rect x="241.96" y="651.9" width="115.06" height="14.6" fill="#000090"/>
<rect x="357.02" y="651.9" width="115.06" height="14.6" fill="#0000d0"/>
<rect x="472.08" y="651.9" width="115.06" height="14.6" fill="#1e90ff"/>
<rect x="587.14" y="651.9" width="115.06" height="14.6" fill="#00c0f8"/>
<rect x="702.20" y="651.9" width="115.06" height="14.6" fill="#a0d2ff"/>
<rect x="817.26" y="651.9" width="115.06" height="14.6" fill="#d2f5ff"/>
<rect x="932.32" y="651.9" width="115.06" height="14.6" fill="#ffffc8"/>
<rect x="1047.38" y="651.9" width="115.06" height="14.6" fill="#ffe032"/>
<rect x="1162.44" y="651.9" width="115.06" height="14.6" fill="#ffaa00"/>
<rect x="1277.50" y="651.9" width="115.06" height="14.6" fill="#ff7000"/>
<rect x="1392.56" y="651.9" width="115.06" height="14.6" fill="#c80000"/>
<rect x="1507.62" y="651.9" width="115.06" height="14.6" fill="#a0222a"/>
<rect x="1622.68" y="651.9" width="115.06" height="14.6" fill="#ff6eb4"/>
<path d="M126.9 651.9H1737.74V666.5H126.9Z" fill="none" stroke="#000" stroke-width="2"/>
<path d="M241.96 651.9V666.5 M357.02 651.9V666.5 M472.08 651.9V666.5 M587.14 651.9V666.5 M702.20 651.9V666.5 M817.26 651.9V666.5 M932.32 651.9V666.5 M1047.38 651.9V666.5 M1162.44 651.9V666.5 M1277.50 651.9V666.5 M1392.56 651.9V666.5 M1507.62 651.9V666.5 M1622.68 651.9V666.5" stroke="#000" stroke-width="2"/>
<text x="242.56" y="701.8" font-size="45.5" text-anchor="middle">-6</text>
<text x="357.62" y="701.8" font-size="45.5" text-anchor="middle">-5</text>
<text x="472.68" y="701.8" font-size="45.5" text-anchor="middle">-4</text>
<text x="587.74" y="701.8" font-size="45.5" text-anchor="middle">-3</text>
<text x="702.80" y="701.8" font-size="45.5" text-anchor="middle">-2</text>
<text x="820.76" y="701.8" font-size="45.5" text-anchor="middle">-1</text>
<text x="932.92" y="701.8" font-size="45.5" text-anchor="middle">0</text>
<text x="1049.88" y="701.8" font-size="45.5" text-anchor="middle">1</text>
<text x="1163.04" y="701.8" font-size="45.5" text-anchor="middle">2</text>
<text x="1278.10" y="701.8" font-size="45.5" text-anchor="middle">3</text>
<text x="1393.16" y="701.8" font-size="45.5" text-anchor="middle">4</text>
<text x="1508.22" y="701.8" font-size="45.5" text-anchor="middle">5</text>
<text x="1623.28" y="701.8" font-size="45.5" text-anchor="middle">6</text>
<text x="1891.5" y="688.7" font-size="45" textLength="105" lengthAdjust="spacingAndGlyphs">degC</text>
<rect x="1220" y="45.0" width="12.6" height="7.0" fill="#fff"/>
<rect x="1238.7" y="45.0" width="12.3" height="7.0" fill="#fff"/>
<rect x="816" y="697.5" width="11.2" height="5.5" fill="#fff"/>
<rect x="831.2" y="697.5" width="8.8" height="5.5" fill="#fff"/>
<rect x="1037" y="697.5" width="11.7" height="5.5" fill="#fff"/>
<rect x="1052.3" y="697.5" width="9.7" height="5.5" fill="#fff"/>
</svg></body></html>
